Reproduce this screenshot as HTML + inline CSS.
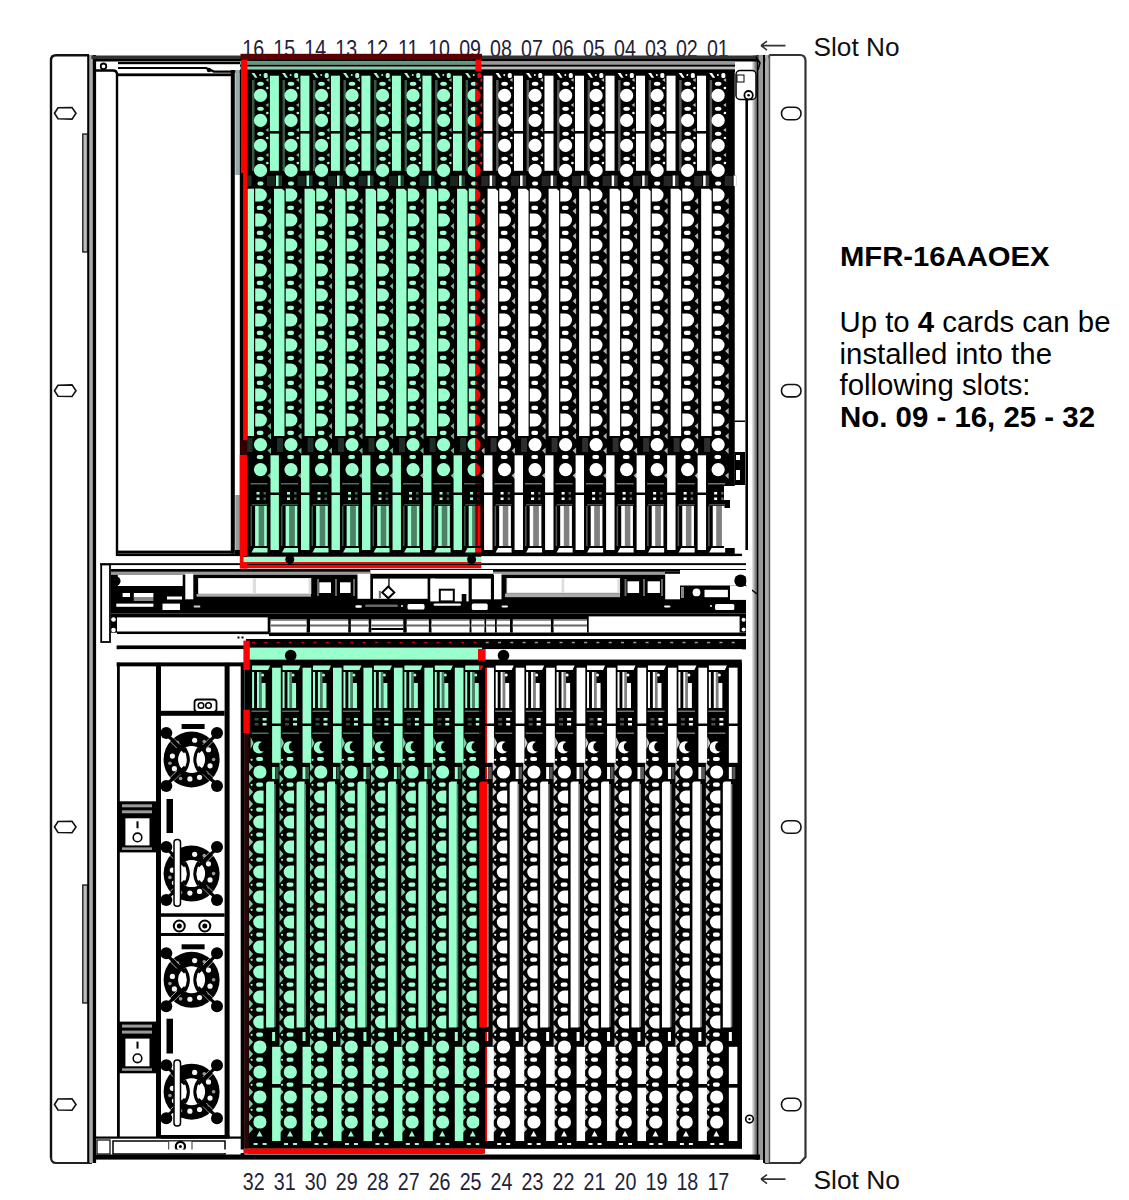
<!DOCTYPE html><html><head><meta charset="utf-8"><style>
html,body{margin:0;padding:0;background:#fff;}
body{width:1129px;height:1200px;overflow:hidden;position:relative;font-family:"Liberation Sans",sans-serif;}
svg{position:absolute;left:0;top:0;}
text{font-family:"Liberation Sans",sans-serif;}
</style></head><body>
<svg width="1129" height="1200" viewBox="0 0 1129 1200">
<defs><linearGradient id="gh" x1="0" y1="0" x2="1" y2="0"><stop offset="0" stop-color="#eee"/><stop offset="1" stop-color="#555"/></linearGradient><linearGradient id="gg" x1="0" y1="0" x2="0" y2="1"><stop offset="0" stop-color="#fff"/><stop offset="0.5" stop-color="#666"/><stop offset="1" stop-color="#fff"/></linearGradient><clipPath id="clipU"><rect x="240" y="50" width="235.5" height="520"/></clipPath><clipPath id="clipUr"><rect x="475.5" y="50" width="6" height="520"/></clipPath><clipPath id="clipUo"><rect x="0" y="0" width="240" height="1200"/><rect x="481.5" y="0" width="648" height="1200"/></clipPath><clipPath id="clipL"><rect x="240" y="640" width="239" height="520"/></clipPath><clipPath id="clipLr"><rect x="479" y="640" width="8" height="520"/></clipPath><clipPath id="clipLo"><rect x="0" y="0" width="240" height="1200"/><rect x="487" y="0" width="642" height="1200"/></clipPath></defs>
<text x="253.30" y="56.6" font-size="23.7" text-anchor="middle" fill="#22223a" transform="translate(253.30,0) scale(0.83,1) translate(-253.30,0)">16</text>
<text x="284.27" y="56.6" font-size="23.7" text-anchor="middle" fill="#22223a" transform="translate(284.27,0) scale(0.83,1) translate(-284.27,0)">15</text>
<text x="315.24" y="56.6" font-size="23.7" text-anchor="middle" fill="#22223a" transform="translate(315.24,0) scale(0.83,1) translate(-315.24,0)">14</text>
<text x="346.21" y="56.6" font-size="23.7" text-anchor="middle" fill="#22223a" transform="translate(346.21,0) scale(0.83,1) translate(-346.21,0)">13</text>
<text x="377.18" y="56.6" font-size="23.7" text-anchor="middle" fill="#22223a" transform="translate(377.18,0) scale(0.83,1) translate(-377.18,0)">12</text>
<text x="408.15" y="56.6" font-size="23.7" text-anchor="middle" fill="#22223a" transform="translate(408.15,0) scale(0.83,1) translate(-408.15,0)">11</text>
<text x="439.12" y="56.6" font-size="23.7" text-anchor="middle" fill="#22223a" transform="translate(439.12,0) scale(0.83,1) translate(-439.12,0)">10</text>
<text x="470.09" y="56.6" font-size="23.7" text-anchor="middle" fill="#22223a" transform="translate(470.09,0) scale(0.83,1) translate(-470.09,0)">09</text>
<text x="501.06" y="56.6" font-size="23.7" text-anchor="middle" fill="#22223a" transform="translate(501.06,0) scale(0.83,1) translate(-501.06,0)">08</text>
<text x="532.03" y="56.6" font-size="23.7" text-anchor="middle" fill="#22223a" transform="translate(532.03,0) scale(0.83,1) translate(-532.03,0)">07</text>
<text x="563.00" y="56.6" font-size="23.7" text-anchor="middle" fill="#22223a" transform="translate(563.00,0) scale(0.83,1) translate(-563.00,0)">06</text>
<text x="593.97" y="56.6" font-size="23.7" text-anchor="middle" fill="#22223a" transform="translate(593.97,0) scale(0.83,1) translate(-593.97,0)">05</text>
<text x="624.94" y="56.6" font-size="23.7" text-anchor="middle" fill="#22223a" transform="translate(624.94,0) scale(0.83,1) translate(-624.94,0)">04</text>
<text x="655.91" y="56.6" font-size="23.7" text-anchor="middle" fill="#22223a" transform="translate(655.91,0) scale(0.83,1) translate(-655.91,0)">03</text>
<text x="686.88" y="56.6" font-size="23.7" text-anchor="middle" fill="#22223a" transform="translate(686.88,0) scale(0.83,1) translate(-686.88,0)">02</text>
<text x="717.85" y="56.6" font-size="23.7" text-anchor="middle" fill="#22223a" transform="translate(717.85,0) scale(0.83,1) translate(-717.85,0)">01</text>
<text x="253.80" y="1190.2" font-size="23.7" text-anchor="middle" fill="#22223a" transform="translate(253.80,0) scale(0.83,1) translate(-253.80,0)">32</text>
<text x="284.77" y="1190.2" font-size="23.7" text-anchor="middle" fill="#22223a" transform="translate(284.77,0) scale(0.83,1) translate(-284.77,0)">31</text>
<text x="315.74" y="1190.2" font-size="23.7" text-anchor="middle" fill="#22223a" transform="translate(315.74,0) scale(0.83,1) translate(-315.74,0)">30</text>
<text x="346.71" y="1190.2" font-size="23.7" text-anchor="middle" fill="#22223a" transform="translate(346.71,0) scale(0.83,1) translate(-346.71,0)">29</text>
<text x="377.68" y="1190.2" font-size="23.7" text-anchor="middle" fill="#22223a" transform="translate(377.68,0) scale(0.83,1) translate(-377.68,0)">28</text>
<text x="408.65" y="1190.2" font-size="23.7" text-anchor="middle" fill="#22223a" transform="translate(408.65,0) scale(0.83,1) translate(-408.65,0)">27</text>
<text x="439.62" y="1190.2" font-size="23.7" text-anchor="middle" fill="#22223a" transform="translate(439.62,0) scale(0.83,1) translate(-439.62,0)">26</text>
<text x="470.59" y="1190.2" font-size="23.7" text-anchor="middle" fill="#22223a" transform="translate(470.59,0) scale(0.83,1) translate(-470.59,0)">25</text>
<text x="501.56" y="1190.2" font-size="23.7" text-anchor="middle" fill="#22223a" transform="translate(501.56,0) scale(0.83,1) translate(-501.56,0)">24</text>
<text x="532.53" y="1190.2" font-size="23.7" text-anchor="middle" fill="#22223a" transform="translate(532.53,0) scale(0.83,1) translate(-532.53,0)">23</text>
<text x="563.50" y="1190.2" font-size="23.7" text-anchor="middle" fill="#22223a" transform="translate(563.50,0) scale(0.83,1) translate(-563.50,0)">22</text>
<text x="594.47" y="1190.2" font-size="23.7" text-anchor="middle" fill="#22223a" transform="translate(594.47,0) scale(0.83,1) translate(-594.47,0)">21</text>
<text x="625.44" y="1190.2" font-size="23.7" text-anchor="middle" fill="#22223a" transform="translate(625.44,0) scale(0.83,1) translate(-625.44,0)">20</text>
<text x="656.41" y="1190.2" font-size="23.7" text-anchor="middle" fill="#22223a" transform="translate(656.41,0) scale(0.83,1) translate(-656.41,0)">19</text>
<text x="687.38" y="1190.2" font-size="23.7" text-anchor="middle" fill="#22223a" transform="translate(687.38,0) scale(0.83,1) translate(-687.38,0)">18</text>
<text x="718.35" y="1190.2" font-size="23.7" text-anchor="middle" fill="#22223a" transform="translate(718.35,0) scale(0.83,1) translate(-718.35,0)">17</text>
<path d="M761,45.6 L785.5,45.6 M761,45.6 L767,41.1 M761,45.6 L767,50.1" fill="none" stroke="#333" stroke-width="1.6" />
<path d="M761,1179.1 L785.5,1179.1 M761,1179.1 L767,1174.6 M761,1179.1 L767,1183.6" fill="none" stroke="#333" stroke-width="1.6" />
<text x="813.5" y="56" font-size="26.5" fill="#111" textLength="86" lengthAdjust="spacingAndGlyphs">Slot No</text>
<text x="813.5" y="1189" font-size="26.5" fill="#111" textLength="86.5" lengthAdjust="spacingAndGlyphs">Slot No</text>
<text x="840" y="265.8" font-size="28" font-weight="bold" fill="#000" textLength="209.5" lengthAdjust="spacingAndGlyphs">MFR-16AAOEX</text>
<text x="839.5" y="332.3" font-size="29.4" fill="#000" textLength="271" lengthAdjust="spacingAndGlyphs">Up to <tspan font-weight="bold">4</tspan> cards can be</text>
<text x="839.5" y="363.6" font-size="29.4" fill="#000" textLength="212.5" lengthAdjust="spacingAndGlyphs">installed into the</text>
<text x="839.5" y="395.3" font-size="29.4" fill="#000" textLength="191" lengthAdjust="spacingAndGlyphs">following slots:</text>
<text x="840" y="427.1" font-size="29.4" font-weight="bold" fill="#000" textLength="255" lengthAdjust="spacingAndGlyphs">No. 09 - 16, 25 - 32</text>
<path d="M51,1158 L51,60.5 Q51,55.3 56,55.3 L89,55.3" fill="none" stroke="#111" stroke-width="2.4" />
<path d="M51,1157 Q51,1163 56,1163 L92,1163" fill="none" stroke="#222" stroke-width="2.2" />
<rect x="87.20" y="55.00" width="2.40" height="1108.00" fill="#000000" />
<rect x="89.60" y="55.00" width="3.10" height="1108.00" fill="#aaa" />
<rect x="92.70" y="55.00" width="3.40" height="1108.00" fill="#000000" />
<path d="M54.5,113.3 L58,107.8 L72,107.5 L76,113.3 L72,119.1 L58,118.8 Z" fill="none" stroke="#111" stroke-width="1.6" />
<path d="M54.5,390.7 L58,385.2 L72,384.9 L76,390.7 L72,396.5 L58,396.2 Z" fill="none" stroke="#111" stroke-width="1.6" />
<path d="M54.5,827 L58,821.5 L72,821.2 L76,827 L72,832.8 L58,832.5 Z" fill="none" stroke="#111" stroke-width="1.6" />
<path d="M54.5,1104.5 L58,1099.0 L72,1098.7 L76,1104.5 L72,1110.3 L58,1110.0 Z" fill="none" stroke="#111" stroke-width="1.6" />
<rect x="82.80" y="134.00" width="4.70" height="118.00" fill="#bbb" stroke="#111" stroke-width="1.3"/>
<rect x="82.80" y="885.00" width="4.70" height="118.00" fill="#bbb" stroke="#111" stroke-width="1.3"/>
<path d="M764.5,61 L770,55 L800,55 Q805.5,55 805.5,61 L805.5,1157 L800,1163 L764.5,1163" fill="none" stroke="#333" stroke-width="2.2" />
<rect x="763.00" y="55.00" width="2.30" height="1108.00" fill="#000000" />
<rect x="765.30" y="55.00" width="3.20" height="1108.00" fill="#aaa" />
<rect x="768.50" y="55.00" width="1.70" height="1108.00" fill="#555" />
<rect x="781.5" y="107.30" width="19.5" height="12.4" rx="6" ry="6" fill="none" stroke="#111" stroke-width="1.6"/>
<rect x="781.5" y="384.50" width="19.5" height="12.4" rx="6" ry="6" fill="none" stroke="#111" stroke-width="1.6"/>
<rect x="781.5" y="820.80" width="19.5" height="12.4" rx="6" ry="6" fill="none" stroke="#111" stroke-width="1.6"/>
<rect x="781.5" y="1098.30" width="19.5" height="12.4" rx="6" ry="6" fill="none" stroke="#111" stroke-width="1.6"/>
<rect x="752" y="55" width="4.9" height="1105" fill="url(#gh)"/>
<rect x="756.90" y="55.00" width="1.80" height="1105.00" fill="#000000" />
<rect x="758.70" y="55.00" width="4.30" height="1105.00" fill="#999" />
<rect x="91.40" y="55.50" width="666.60" height="3.50" fill="#333" />
<rect x="95.00" y="59.00" width="663.00" height="2.50" fill="#000000" />
<rect x="118.00" y="62.00" width="122.00" height="2.20" fill="#000000" />
<path d="M118,68 L206,68 L214,71.6 L240,71.6" fill="none" stroke="#000000" stroke-width="2.2" />
<circle cx="209.00" cy="70.00" r="2.20" fill="#000000" />
<rect x="117.00" y="73.40" width="115.00" height="2.80" fill="#000000" />
<rect x="240.00" y="61.50" width="495.00" height="2.80" fill="#999" />
<rect x="240.00" y="64.50" width="495.00" height="2.30" fill="#000000" />
<rect x="240.00" y="66.80" width="495.00" height="2.50" fill="#bbb" />
<rect x="240.00" y="69.30" width="495.00" height="2.70" fill="#000000" />
<rect x="736" y="70.5" width="20" height="29" rx="4" fill="#fff" stroke="#000" stroke-width="1.5"/>
<rect x="737.00" y="75.00" width="7.00" height="7.00" fill="#ffffff" stroke="#000" stroke-width="1"/>
<circle cx="748.60" cy="95.20" r="4.20" fill="#ffffff" stroke="#000" stroke-width="1.8"/>
<circle cx="748.60" cy="95.20" r="1.30" fill="#000000" />
<path d="M756,57 L760,63 L758,70" fill="none" stroke="#000000" stroke-width="1.5" />
<circle cx="749.50" cy="1119.10" r="3.80" fill="#ffffff" stroke="#000" stroke-width="1.6"/>
<circle cx="749.50" cy="1119.10" r="1.20" fill="#000000" />
<rect x="247.00" y="61.50" width="228.50" height="2.80" fill="#5a9a7a" />
<rect x="247.00" y="66.80" width="228.50" height="2.50" fill="#80d0a8" />
<path d="M95,70.5 L113,70.5 Q117,70.5 117,74.5 L117,556" fill="none" stroke="#000000" stroke-width="2.4" />
<circle cx="103.50" cy="66.30" r="2.80" fill="none" stroke="#000" stroke-width="1.8"/>
<rect x="230.80" y="70.00" width="4.00" height="483.60" fill="#000000" />
<rect x="235.30" y="70.00" width="4.50" height="105.00" fill="#9aa" />
<rect x="235.30" y="495.00" width="4.50" height="55.60" fill="#999" />
<rect x="234.80" y="550.00" width="5.20" height="6.00" fill="#000000" />
<rect x="239.80" y="70.00" width="3.70" height="486.00" fill="#000000" />
<rect x="729.70" y="71.00" width="4.80" height="485.00" fill="#000000" />
<rect x="745.40" y="100.00" width="2.60" height="450.00" fill="#000000" />
<rect x="95.00" y="1154.50" width="665.00" height="5.10" fill="#000000" />
<rect x="243.50" y="71.30" width="491.00" height="485.00" fill="#000000" />
<g id="upc">
<path d="M251.5,73 L254.5,73 L257.5,77.8 L255.0,77.8 Z" fill="inherit" stroke="none" stroke-width="1" />
<rect x="263.70" y="73" width="4" height="5" rx="1.6" fill="inherit"/>
<circle cx="260.20" cy="75.00" r="1.00" fill="inherit" />
<rect x="269.90" y="75.70" width="9.00" height="55.30" fill="inherit" />
<rect x="269.90" y="133.60" width="9.00" height="37.20" fill="inherit" />
<rect x="252.00" y="80.00" width="2.50" height="91.00" fill="inherit" fill-opacity="0.35"/>
<circle cx="260.50" cy="95.40" r="6.60" fill="inherit" />
<ellipse cx="260.50" cy="83.70" rx="3.30" ry="2.00" fill="inherit" />
<circle cx="267.30" cy="88.00" r="1.30" fill="inherit" />
<path d="M265.50,80 l3,-2 l0,4 Z" fill="inherit" fill-opacity="0.7"/>
<circle cx="260.50" cy="120.40" r="6.60" fill="inherit" />
<ellipse cx="260.50" cy="108.70" rx="3.30" ry="2.00" fill="inherit" />
<circle cx="267.30" cy="113.00" r="1.30" fill="inherit" />
<path d="M265.50,105 l3,-2 l0,4 Z" fill="inherit" fill-opacity="0.7"/>
<circle cx="260.50" cy="145.40" r="6.60" fill="inherit" />
<ellipse cx="260.50" cy="133.70" rx="3.30" ry="2.00" fill="inherit" />
<circle cx="267.30" cy="138.00" r="1.30" fill="inherit" />
<path d="M265.50,130 l3,-2 l0,4 Z" fill="inherit" fill-opacity="0.7"/>
<circle cx="260.50" cy="170.40" r="6.60" fill="inherit" />
<ellipse cx="260.50" cy="158.70" rx="3.30" ry="2.00" fill="inherit" />
<circle cx="267.30" cy="163.00" r="1.30" fill="inherit" />
<path d="M265.50,155 l3,-2 l0,4 Z" fill="inherit" fill-opacity="0.7"/>
<rect x="276.00" y="175.50" width="2.50" height="10.50" fill="inherit" />
<rect x="246.50" y="175.50" width="5.00" height="10.50" fill="inherit" fill-opacity="0.22"/>
<rect x="257.50" y="181.5" width="6" height="4" rx="2" fill="inherit"/>
<rect x="267.00" y="176.00" width="8.00" height="10.00" fill="inherit" fill-opacity="0.15"/>
<path d="M255.2,188.6 L260.5,188.6 A6.4,6.4 0 0 1 260.5,201.4 L255.2,201.4 Z" fill="inherit" stroke="none" stroke-width="1" />
<rect x="256.70" y="205.80" width="6.8" height="4.2" rx="2" fill="inherit"/>
<path d="M267.50,201 l3.5,-3 l0,6.5 Z M267.50,211 l3.5,-3 l0,6.5 Z" fill="inherit" fill-opacity="0.7"/>
<path d="M255.2,213.6 L260.5,213.6 A6.4,6.4 0 0 1 260.5,226.4 L255.2,226.4 Z" fill="inherit" stroke="none" stroke-width="1" />
<rect x="256.70" y="230.80" width="6.8" height="4.2" rx="2" fill="inherit"/>
<path d="M267.50,226 l3.5,-3 l0,6.5 Z M267.50,236 l3.5,-3 l0,6.5 Z" fill="inherit" fill-opacity="0.7"/>
<path d="M255.2,238.6 L260.5,238.6 A6.4,6.4 0 0 1 260.5,251.4 L255.2,251.4 Z" fill="inherit" stroke="none" stroke-width="1" />
<rect x="256.70" y="255.80" width="6.8" height="4.2" rx="2" fill="inherit"/>
<path d="M267.50,251 l3.5,-3 l0,6.5 Z M267.50,261 l3.5,-3 l0,6.5 Z" fill="inherit" fill-opacity="0.7"/>
<path d="M255.2,263.6 L260.5,263.6 A6.4,6.4 0 0 1 260.5,276.4 L255.2,276.4 Z" fill="inherit" stroke="none" stroke-width="1" />
<rect x="256.70" y="280.80" width="6.8" height="4.2" rx="2" fill="inherit"/>
<path d="M267.50,276 l3.5,-3 l0,6.5 Z M267.50,286 l3.5,-3 l0,6.5 Z" fill="inherit" fill-opacity="0.7"/>
<path d="M255.2,288.6 L260.5,288.6 A6.4,6.4 0 0 1 260.5,301.4 L255.2,301.4 Z" fill="inherit" stroke="none" stroke-width="1" />
<rect x="256.70" y="305.80" width="6.8" height="4.2" rx="2" fill="inherit"/>
<path d="M267.50,301 l3.5,-3 l0,6.5 Z M267.50,311 l3.5,-3 l0,6.5 Z" fill="inherit" fill-opacity="0.7"/>
<path d="M255.2,313.6 L260.5,313.6 A6.4,6.4 0 0 1 260.5,326.4 L255.2,326.4 Z" fill="inherit" stroke="none" stroke-width="1" />
<rect x="256.70" y="330.80" width="6.8" height="4.2" rx="2" fill="inherit"/>
<path d="M267.50,326 l3.5,-3 l0,6.5 Z M267.50,336 l3.5,-3 l0,6.5 Z" fill="inherit" fill-opacity="0.7"/>
<path d="M255.2,338.6 L260.5,338.6 A6.4,6.4 0 0 1 260.5,351.4 L255.2,351.4 Z" fill="inherit" stroke="none" stroke-width="1" />
<rect x="256.70" y="355.80" width="6.8" height="4.2" rx="2" fill="inherit"/>
<path d="M267.50,351 l3.5,-3 l0,6.5 Z M267.50,361 l3.5,-3 l0,6.5 Z" fill="inherit" fill-opacity="0.7"/>
<path d="M255.2,363.6 L260.5,363.6 A6.4,6.4 0 0 1 260.5,376.4 L255.2,376.4 Z" fill="inherit" stroke="none" stroke-width="1" />
<rect x="256.70" y="380.80" width="6.8" height="4.2" rx="2" fill="inherit"/>
<path d="M267.50,376 l3.5,-3 l0,6.5 Z M267.50,386 l3.5,-3 l0,6.5 Z" fill="inherit" fill-opacity="0.7"/>
<path d="M255.2,388.6 L260.5,388.6 A6.4,6.4 0 0 1 260.5,401.4 L255.2,401.4 Z" fill="inherit" stroke="none" stroke-width="1" />
<rect x="256.70" y="405.80" width="6.8" height="4.2" rx="2" fill="inherit"/>
<path d="M267.50,401 l3.5,-3 l0,6.5 Z M267.50,411 l3.5,-3 l0,6.5 Z" fill="inherit" fill-opacity="0.7"/>
<path d="M255.2,413.6 L260.5,413.6 A6.4,6.4 0 0 1 260.5,426.4 L255.2,426.4 Z" fill="inherit" stroke="none" stroke-width="1" />
<rect x="256.70" y="430.80" width="6.8" height="4.2" rx="2" fill="inherit"/>
<path d="M267.50,426 l3.5,-3 l0,6.5 Z M267.50,436 l3.5,-3 l0,6.5 Z" fill="inherit" fill-opacity="0.7"/>
<rect x="247.50" y="188.70" width="6.50" height="247.30" fill="inherit" />
<circle cx="260.50" cy="444.60" r="6.60" fill="inherit" />
<path d="M267.50,450.6 l3.5,-3 l0,6.5 Z" fill="inherit" fill-opacity="0.7"/>
<circle cx="260.50" cy="469.60" r="6.60" fill="inherit" />
<path d="M267.50,475.6 l3.5,-3 l0,6.5 Z" fill="inherit" fill-opacity="0.7"/>
<rect x="256.70" y="455" width="6.8" height="4" rx="2" fill="inherit"/>
<rect x="246.50" y="438.00" width="6.00" height="14.00" fill="inherit" fill-opacity="0.18"/>
<rect x="270.50" y="455.30" width="8.40" height="37.20" fill="inherit" />
<rect x="270.50" y="495.00" width="8.40" height="55.00" fill="inherit" />
<rect x="256.50" y="492.00" width="3.00" height="2.50" fill="inherit" />
<rect x="256.50" y="497.50" width="3.00" height="2.50" fill="inherit" />
<rect x="263.50" y="492.00" width="2.50" height="2.50" fill="inherit" fill-opacity="0.4"/>
<rect x="263.50" y="497.50" width="2.50" height="2.50" fill="inherit" fill-opacity="0.4"/>
<rect x="250.50" y="483.00" width="17.00" height="1.50" fill="inherit" fill-opacity="0.45"/>
<rect x="251.50" y="504.00" width="16.00" height="1.50" fill="inherit" fill-opacity="0.3"/>
<rect x="255.10" y="506.00" width="3.70" height="40.00" fill="inherit" />
<rect x="258.80" y="506.00" width="5.30" height="40.00" fill="inherit" fill-opacity="0.5"/>
<rect x="264.10" y="506.00" width="2.70" height="40.00" fill="inherit" />
<rect x="250.50" y="506.00" width="1.50" height="40.00" fill="inherit" fill-opacity="0.35"/>
<path d="M251.5,552.6 L254.0,548 L267.5,548 L267.5,552.6 Z" fill="inherit" stroke="none" stroke-width="1" />
<circle cx="272.50" cy="555.00" r="1.20" fill="inherit" />
<path d="M282.01,73 L285.01,73 L288.01,77.8 L285.51,77.8 Z" fill="inherit" stroke="none" stroke-width="1" />
<rect x="294.21" y="73" width="4" height="5" rx="1.6" fill="inherit"/>
<circle cx="290.71" cy="75.00" r="1.00" fill="inherit" />
<rect x="300.41" y="75.70" width="9.00" height="55.30" fill="inherit" />
<rect x="300.41" y="133.60" width="9.00" height="37.20" fill="inherit" />
<rect x="282.51" y="80.00" width="2.50" height="91.00" fill="inherit" fill-opacity="0.35"/>
<circle cx="291.01" cy="95.40" r="6.60" fill="inherit" />
<ellipse cx="291.01" cy="83.70" rx="3.30" ry="2.00" fill="inherit" />
<circle cx="297.81" cy="88.00" r="1.30" fill="inherit" />
<path d="M296.01,80 l3,-2 l0,4 Z" fill="inherit" fill-opacity="0.7"/>
<circle cx="291.01" cy="120.40" r="6.60" fill="inherit" />
<ellipse cx="291.01" cy="108.70" rx="3.30" ry="2.00" fill="inherit" />
<circle cx="297.81" cy="113.00" r="1.30" fill="inherit" />
<path d="M296.01,105 l3,-2 l0,4 Z" fill="inherit" fill-opacity="0.7"/>
<circle cx="291.01" cy="145.40" r="6.60" fill="inherit" />
<ellipse cx="291.01" cy="133.70" rx="3.30" ry="2.00" fill="inherit" />
<circle cx="297.81" cy="138.00" r="1.30" fill="inherit" />
<path d="M296.01,130 l3,-2 l0,4 Z" fill="inherit" fill-opacity="0.7"/>
<circle cx="291.01" cy="170.40" r="6.60" fill="inherit" />
<ellipse cx="291.01" cy="158.70" rx="3.30" ry="2.00" fill="inherit" />
<circle cx="297.81" cy="163.00" r="1.30" fill="inherit" />
<path d="M296.01,155 l3,-2 l0,4 Z" fill="inherit" fill-opacity="0.7"/>
<rect x="306.51" y="175.50" width="2.50" height="10.50" fill="inherit" />
<rect x="277.01" y="175.50" width="5.00" height="10.50" fill="inherit" fill-opacity="0.22"/>
<rect x="288.01" y="181.5" width="6" height="4" rx="2" fill="inherit"/>
<rect x="297.51" y="176.00" width="8.00" height="10.00" fill="inherit" fill-opacity="0.15"/>
<path d="M285.71,188.6 L291.01,188.6 A6.4,6.4 0 0 1 291.01,201.4 L285.71,201.4 Z" fill="inherit" stroke="none" stroke-width="1" />
<rect x="287.21" y="205.80" width="6.8" height="4.2" rx="2" fill="inherit"/>
<path d="M298.01,201 l3.5,-3 l0,6.5 Z M298.01,211 l3.5,-3 l0,6.5 Z" fill="inherit" fill-opacity="0.7"/>
<path d="M285.71,213.6 L291.01,213.6 A6.4,6.4 0 0 1 291.01,226.4 L285.71,226.4 Z" fill="inherit" stroke="none" stroke-width="1" />
<rect x="287.21" y="230.80" width="6.8" height="4.2" rx="2" fill="inherit"/>
<path d="M298.01,226 l3.5,-3 l0,6.5 Z M298.01,236 l3.5,-3 l0,6.5 Z" fill="inherit" fill-opacity="0.7"/>
<path d="M285.71,238.6 L291.01,238.6 A6.4,6.4 0 0 1 291.01,251.4 L285.71,251.4 Z" fill="inherit" stroke="none" stroke-width="1" />
<rect x="287.21" y="255.80" width="6.8" height="4.2" rx="2" fill="inherit"/>
<path d="M298.01,251 l3.5,-3 l0,6.5 Z M298.01,261 l3.5,-3 l0,6.5 Z" fill="inherit" fill-opacity="0.7"/>
<path d="M285.71,263.6 L291.01,263.6 A6.4,6.4 0 0 1 291.01,276.4 L285.71,276.4 Z" fill="inherit" stroke="none" stroke-width="1" />
<rect x="287.21" y="280.80" width="6.8" height="4.2" rx="2" fill="inherit"/>
<path d="M298.01,276 l3.5,-3 l0,6.5 Z M298.01,286 l3.5,-3 l0,6.5 Z" fill="inherit" fill-opacity="0.7"/>
<path d="M285.71,288.6 L291.01,288.6 A6.4,6.4 0 0 1 291.01,301.4 L285.71,301.4 Z" fill="inherit" stroke="none" stroke-width="1" />
<rect x="287.21" y="305.80" width="6.8" height="4.2" rx="2" fill="inherit"/>
<path d="M298.01,301 l3.5,-3 l0,6.5 Z M298.01,311 l3.5,-3 l0,6.5 Z" fill="inherit" fill-opacity="0.7"/>
<path d="M285.71,313.6 L291.01,313.6 A6.4,6.4 0 0 1 291.01,326.4 L285.71,326.4 Z" fill="inherit" stroke="none" stroke-width="1" />
<rect x="287.21" y="330.80" width="6.8" height="4.2" rx="2" fill="inherit"/>
<path d="M298.01,326 l3.5,-3 l0,6.5 Z M298.01,336 l3.5,-3 l0,6.5 Z" fill="inherit" fill-opacity="0.7"/>
<path d="M285.71,338.6 L291.01,338.6 A6.4,6.4 0 0 1 291.01,351.4 L285.71,351.4 Z" fill="inherit" stroke="none" stroke-width="1" />
<rect x="287.21" y="355.80" width="6.8" height="4.2" rx="2" fill="inherit"/>
<path d="M298.01,351 l3.5,-3 l0,6.5 Z M298.01,361 l3.5,-3 l0,6.5 Z" fill="inherit" fill-opacity="0.7"/>
<path d="M285.71,363.6 L291.01,363.6 A6.4,6.4 0 0 1 291.01,376.4 L285.71,376.4 Z" fill="inherit" stroke="none" stroke-width="1" />
<rect x="287.21" y="380.80" width="6.8" height="4.2" rx="2" fill="inherit"/>
<path d="M298.01,376 l3.5,-3 l0,6.5 Z M298.01,386 l3.5,-3 l0,6.5 Z" fill="inherit" fill-opacity="0.7"/>
<path d="M285.71,388.6 L291.01,388.6 A6.4,6.4 0 0 1 291.01,401.4 L285.71,401.4 Z" fill="inherit" stroke="none" stroke-width="1" />
<rect x="287.21" y="405.80" width="6.8" height="4.2" rx="2" fill="inherit"/>
<path d="M298.01,401 l3.5,-3 l0,6.5 Z M298.01,411 l3.5,-3 l0,6.5 Z" fill="inherit" fill-opacity="0.7"/>
<path d="M285.71,413.6 L291.01,413.6 A6.4,6.4 0 0 1 291.01,426.4 L285.71,426.4 Z" fill="inherit" stroke="none" stroke-width="1" />
<rect x="287.21" y="430.80" width="6.8" height="4.2" rx="2" fill="inherit"/>
<path d="M298.01,426 l3.5,-3 l0,6.5 Z M298.01,436 l3.5,-3 l0,6.5 Z" fill="inherit" fill-opacity="0.7"/>
<path d="M274.01,188.7 L282.01,188.7 L284.51,191 L284.51,436 L274.01,436 Z" fill="inherit" stroke="none" stroke-width="1" />
<circle cx="291.01" cy="444.60" r="6.60" fill="inherit" />
<path d="M298.01,450.6 l3.5,-3 l0,6.5 Z" fill="inherit" fill-opacity="0.7"/>
<circle cx="291.01" cy="469.60" r="6.60" fill="inherit" />
<path d="M298.01,475.6 l3.5,-3 l0,6.5 Z" fill="inherit" fill-opacity="0.7"/>
<rect x="287.21" y="455" width="6.8" height="4" rx="2" fill="inherit"/>
<rect x="277.01" y="438.00" width="6.00" height="14.00" fill="inherit" fill-opacity="0.18"/>
<rect x="301.01" y="455.30" width="8.40" height="37.20" fill="inherit" />
<rect x="301.01" y="495.00" width="8.40" height="55.00" fill="inherit" />
<rect x="287.01" y="492.00" width="3.00" height="2.50" fill="inherit" />
<rect x="287.01" y="497.50" width="3.00" height="2.50" fill="inherit" />
<rect x="294.01" y="492.00" width="2.50" height="2.50" fill="inherit" fill-opacity="0.4"/>
<rect x="294.01" y="497.50" width="2.50" height="2.50" fill="inherit" fill-opacity="0.4"/>
<rect x="281.01" y="483.00" width="17.00" height="1.50" fill="inherit" fill-opacity="0.45"/>
<rect x="282.01" y="504.00" width="16.00" height="1.50" fill="inherit" fill-opacity="0.3"/>
<rect x="285.61" y="506.00" width="3.70" height="40.00" fill="inherit" />
<rect x="289.31" y="506.00" width="5.30" height="40.00" fill="inherit" fill-opacity="0.5"/>
<rect x="294.61" y="506.00" width="2.70" height="40.00" fill="inherit" />
<rect x="281.01" y="506.00" width="1.50" height="40.00" fill="inherit" fill-opacity="0.35"/>
<path d="M282.01,552.6 L284.51,548 L298.01,548 L298.01,552.6 Z" fill="inherit" stroke="none" stroke-width="1" />
<circle cx="303.01" cy="555.00" r="1.20" fill="inherit" />
<path d="M312.52,73 L315.52,73 L318.52,77.8 L316.02,77.8 Z" fill="inherit" stroke="none" stroke-width="1" />
<rect x="324.72" y="73" width="4" height="5" rx="1.6" fill="inherit"/>
<circle cx="321.22" cy="75.00" r="1.00" fill="inherit" />
<rect x="330.92" y="75.70" width="9.00" height="55.30" fill="inherit" />
<rect x="330.92" y="133.60" width="9.00" height="37.20" fill="inherit" />
<rect x="313.02" y="80.00" width="2.50" height="91.00" fill="inherit" fill-opacity="0.35"/>
<circle cx="321.52" cy="95.40" r="6.60" fill="inherit" />
<ellipse cx="321.52" cy="83.70" rx="3.30" ry="2.00" fill="inherit" />
<circle cx="328.32" cy="88.00" r="1.30" fill="inherit" />
<path d="M326.52,80 l3,-2 l0,4 Z" fill="inherit" fill-opacity="0.7"/>
<circle cx="321.52" cy="120.40" r="6.60" fill="inherit" />
<ellipse cx="321.52" cy="108.70" rx="3.30" ry="2.00" fill="inherit" />
<circle cx="328.32" cy="113.00" r="1.30" fill="inherit" />
<path d="M326.52,105 l3,-2 l0,4 Z" fill="inherit" fill-opacity="0.7"/>
<circle cx="321.52" cy="145.40" r="6.60" fill="inherit" />
<ellipse cx="321.52" cy="133.70" rx="3.30" ry="2.00" fill="inherit" />
<circle cx="328.32" cy="138.00" r="1.30" fill="inherit" />
<path d="M326.52,130 l3,-2 l0,4 Z" fill="inherit" fill-opacity="0.7"/>
<circle cx="321.52" cy="170.40" r="6.60" fill="inherit" />
<ellipse cx="321.52" cy="158.70" rx="3.30" ry="2.00" fill="inherit" />
<circle cx="328.32" cy="163.00" r="1.30" fill="inherit" />
<path d="M326.52,155 l3,-2 l0,4 Z" fill="inherit" fill-opacity="0.7"/>
<rect x="337.02" y="175.50" width="2.50" height="10.50" fill="inherit" />
<rect x="307.52" y="175.50" width="5.00" height="10.50" fill="inherit" fill-opacity="0.22"/>
<rect x="318.52" y="181.5" width="6" height="4" rx="2" fill="inherit"/>
<rect x="328.02" y="176.00" width="8.00" height="10.00" fill="inherit" fill-opacity="0.15"/>
<path d="M316.21999999999997,188.6 L321.52,188.6 A6.4,6.4 0 0 1 321.52,201.4 L316.21999999999997,201.4 Z" fill="inherit" stroke="none" stroke-width="1" />
<rect x="317.72" y="205.80" width="6.8" height="4.2" rx="2" fill="inherit"/>
<path d="M328.52,201 l3.5,-3 l0,6.5 Z M328.52,211 l3.5,-3 l0,6.5 Z" fill="inherit" fill-opacity="0.7"/>
<path d="M316.21999999999997,213.6 L321.52,213.6 A6.4,6.4 0 0 1 321.52,226.4 L316.21999999999997,226.4 Z" fill="inherit" stroke="none" stroke-width="1" />
<rect x="317.72" y="230.80" width="6.8" height="4.2" rx="2" fill="inherit"/>
<path d="M328.52,226 l3.5,-3 l0,6.5 Z M328.52,236 l3.5,-3 l0,6.5 Z" fill="inherit" fill-opacity="0.7"/>
<path d="M316.21999999999997,238.6 L321.52,238.6 A6.4,6.4 0 0 1 321.52,251.4 L316.21999999999997,251.4 Z" fill="inherit" stroke="none" stroke-width="1" />
<rect x="317.72" y="255.80" width="6.8" height="4.2" rx="2" fill="inherit"/>
<path d="M328.52,251 l3.5,-3 l0,6.5 Z M328.52,261 l3.5,-3 l0,6.5 Z" fill="inherit" fill-opacity="0.7"/>
<path d="M316.21999999999997,263.6 L321.52,263.6 A6.4,6.4 0 0 1 321.52,276.4 L316.21999999999997,276.4 Z" fill="inherit" stroke="none" stroke-width="1" />
<rect x="317.72" y="280.80" width="6.8" height="4.2" rx="2" fill="inherit"/>
<path d="M328.52,276 l3.5,-3 l0,6.5 Z M328.52,286 l3.5,-3 l0,6.5 Z" fill="inherit" fill-opacity="0.7"/>
<path d="M316.21999999999997,288.6 L321.52,288.6 A6.4,6.4 0 0 1 321.52,301.4 L316.21999999999997,301.4 Z" fill="inherit" stroke="none" stroke-width="1" />
<rect x="317.72" y="305.80" width="6.8" height="4.2" rx="2" fill="inherit"/>
<path d="M328.52,301 l3.5,-3 l0,6.5 Z M328.52,311 l3.5,-3 l0,6.5 Z" fill="inherit" fill-opacity="0.7"/>
<path d="M316.21999999999997,313.6 L321.52,313.6 A6.4,6.4 0 0 1 321.52,326.4 L316.21999999999997,326.4 Z" fill="inherit" stroke="none" stroke-width="1" />
<rect x="317.72" y="330.80" width="6.8" height="4.2" rx="2" fill="inherit"/>
<path d="M328.52,326 l3.5,-3 l0,6.5 Z M328.52,336 l3.5,-3 l0,6.5 Z" fill="inherit" fill-opacity="0.7"/>
<path d="M316.21999999999997,338.6 L321.52,338.6 A6.4,6.4 0 0 1 321.52,351.4 L316.21999999999997,351.4 Z" fill="inherit" stroke="none" stroke-width="1" />
<rect x="317.72" y="355.80" width="6.8" height="4.2" rx="2" fill="inherit"/>
<path d="M328.52,351 l3.5,-3 l0,6.5 Z M328.52,361 l3.5,-3 l0,6.5 Z" fill="inherit" fill-opacity="0.7"/>
<path d="M316.21999999999997,363.6 L321.52,363.6 A6.4,6.4 0 0 1 321.52,376.4 L316.21999999999997,376.4 Z" fill="inherit" stroke="none" stroke-width="1" />
<rect x="317.72" y="380.80" width="6.8" height="4.2" rx="2" fill="inherit"/>
<path d="M328.52,376 l3.5,-3 l0,6.5 Z M328.52,386 l3.5,-3 l0,6.5 Z" fill="inherit" fill-opacity="0.7"/>
<path d="M316.21999999999997,388.6 L321.52,388.6 A6.4,6.4 0 0 1 321.52,401.4 L316.21999999999997,401.4 Z" fill="inherit" stroke="none" stroke-width="1" />
<rect x="317.72" y="405.80" width="6.8" height="4.2" rx="2" fill="inherit"/>
<path d="M328.52,401 l3.5,-3 l0,6.5 Z M328.52,411 l3.5,-3 l0,6.5 Z" fill="inherit" fill-opacity="0.7"/>
<path d="M316.21999999999997,413.6 L321.52,413.6 A6.4,6.4 0 0 1 321.52,426.4 L316.21999999999997,426.4 Z" fill="inherit" stroke="none" stroke-width="1" />
<rect x="317.72" y="430.80" width="6.8" height="4.2" rx="2" fill="inherit"/>
<path d="M328.52,426 l3.5,-3 l0,6.5 Z M328.52,436 l3.5,-3 l0,6.5 Z" fill="inherit" fill-opacity="0.7"/>
<path d="M304.52,188.7 L312.52,188.7 L315.02,191 L315.02,436 L304.52,436 Z" fill="inherit" stroke="none" stroke-width="1" />
<circle cx="321.52" cy="444.60" r="6.60" fill="inherit" />
<path d="M328.52,450.6 l3.5,-3 l0,6.5 Z" fill="inherit" fill-opacity="0.7"/>
<circle cx="321.52" cy="469.60" r="6.60" fill="inherit" />
<path d="M328.52,475.6 l3.5,-3 l0,6.5 Z" fill="inherit" fill-opacity="0.7"/>
<rect x="317.72" y="455" width="6.8" height="4" rx="2" fill="inherit"/>
<rect x="307.52" y="438.00" width="6.00" height="14.00" fill="inherit" fill-opacity="0.18"/>
<rect x="331.52" y="455.30" width="8.40" height="37.20" fill="inherit" />
<rect x="331.52" y="495.00" width="8.40" height="55.00" fill="inherit" />
<rect x="317.52" y="492.00" width="3.00" height="2.50" fill="inherit" />
<rect x="317.52" y="497.50" width="3.00" height="2.50" fill="inherit" />
<rect x="324.52" y="492.00" width="2.50" height="2.50" fill="inherit" fill-opacity="0.4"/>
<rect x="324.52" y="497.50" width="2.50" height="2.50" fill="inherit" fill-opacity="0.4"/>
<rect x="311.52" y="483.00" width="17.00" height="1.50" fill="inherit" fill-opacity="0.45"/>
<rect x="312.52" y="504.00" width="16.00" height="1.50" fill="inherit" fill-opacity="0.3"/>
<rect x="316.12" y="506.00" width="3.70" height="40.00" fill="inherit" />
<rect x="319.82" y="506.00" width="5.30" height="40.00" fill="inherit" fill-opacity="0.5"/>
<rect x="325.12" y="506.00" width="2.70" height="40.00" fill="inherit" />
<rect x="311.52" y="506.00" width="1.50" height="40.00" fill="inherit" fill-opacity="0.35"/>
<path d="M312.52,552.6 L315.02,548 L328.52,548 L328.52,552.6 Z" fill="inherit" stroke="none" stroke-width="1" />
<circle cx="333.52" cy="555.00" r="1.20" fill="inherit" />
<path d="M343.03,73 L346.03,73 L349.03,77.8 L346.53,77.8 Z" fill="inherit" stroke="none" stroke-width="1" />
<rect x="355.23" y="73" width="4" height="5" rx="1.6" fill="inherit"/>
<circle cx="351.73" cy="75.00" r="1.00" fill="inherit" />
<rect x="361.43" y="75.70" width="9.00" height="55.30" fill="inherit" />
<rect x="361.43" y="133.60" width="9.00" height="37.20" fill="inherit" />
<rect x="343.53" y="80.00" width="2.50" height="91.00" fill="inherit" fill-opacity="0.35"/>
<circle cx="352.03" cy="95.40" r="6.60" fill="inherit" />
<ellipse cx="352.03" cy="83.70" rx="3.30" ry="2.00" fill="inherit" />
<circle cx="358.83" cy="88.00" r="1.30" fill="inherit" />
<path d="M357.03,80 l3,-2 l0,4 Z" fill="inherit" fill-opacity="0.7"/>
<circle cx="352.03" cy="120.40" r="6.60" fill="inherit" />
<ellipse cx="352.03" cy="108.70" rx="3.30" ry="2.00" fill="inherit" />
<circle cx="358.83" cy="113.00" r="1.30" fill="inherit" />
<path d="M357.03,105 l3,-2 l0,4 Z" fill="inherit" fill-opacity="0.7"/>
<circle cx="352.03" cy="145.40" r="6.60" fill="inherit" />
<ellipse cx="352.03" cy="133.70" rx="3.30" ry="2.00" fill="inherit" />
<circle cx="358.83" cy="138.00" r="1.30" fill="inherit" />
<path d="M357.03,130 l3,-2 l0,4 Z" fill="inherit" fill-opacity="0.7"/>
<circle cx="352.03" cy="170.40" r="6.60" fill="inherit" />
<ellipse cx="352.03" cy="158.70" rx="3.30" ry="2.00" fill="inherit" />
<circle cx="358.83" cy="163.00" r="1.30" fill="inherit" />
<path d="M357.03,155 l3,-2 l0,4 Z" fill="inherit" fill-opacity="0.7"/>
<rect x="367.53" y="175.50" width="2.50" height="10.50" fill="inherit" />
<rect x="338.03" y="175.50" width="5.00" height="10.50" fill="inherit" fill-opacity="0.22"/>
<rect x="349.03" y="181.5" width="6" height="4" rx="2" fill="inherit"/>
<rect x="358.53" y="176.00" width="8.00" height="10.00" fill="inherit" fill-opacity="0.15"/>
<path d="M346.72999999999996,188.6 L352.03,188.6 A6.4,6.4 0 0 1 352.03,201.4 L346.72999999999996,201.4 Z" fill="inherit" stroke="none" stroke-width="1" />
<rect x="348.23" y="205.80" width="6.8" height="4.2" rx="2" fill="inherit"/>
<path d="M359.03,201 l3.5,-3 l0,6.5 Z M359.03,211 l3.5,-3 l0,6.5 Z" fill="inherit" fill-opacity="0.7"/>
<path d="M346.72999999999996,213.6 L352.03,213.6 A6.4,6.4 0 0 1 352.03,226.4 L346.72999999999996,226.4 Z" fill="inherit" stroke="none" stroke-width="1" />
<rect x="348.23" y="230.80" width="6.8" height="4.2" rx="2" fill="inherit"/>
<path d="M359.03,226 l3.5,-3 l0,6.5 Z M359.03,236 l3.5,-3 l0,6.5 Z" fill="inherit" fill-opacity="0.7"/>
<path d="M346.72999999999996,238.6 L352.03,238.6 A6.4,6.4 0 0 1 352.03,251.4 L346.72999999999996,251.4 Z" fill="inherit" stroke="none" stroke-width="1" />
<rect x="348.23" y="255.80" width="6.8" height="4.2" rx="2" fill="inherit"/>
<path d="M359.03,251 l3.5,-3 l0,6.5 Z M359.03,261 l3.5,-3 l0,6.5 Z" fill="inherit" fill-opacity="0.7"/>
<path d="M346.72999999999996,263.6 L352.03,263.6 A6.4,6.4 0 0 1 352.03,276.4 L346.72999999999996,276.4 Z" fill="inherit" stroke="none" stroke-width="1" />
<rect x="348.23" y="280.80" width="6.8" height="4.2" rx="2" fill="inherit"/>
<path d="M359.03,276 l3.5,-3 l0,6.5 Z M359.03,286 l3.5,-3 l0,6.5 Z" fill="inherit" fill-opacity="0.7"/>
<path d="M346.72999999999996,288.6 L352.03,288.6 A6.4,6.4 0 0 1 352.03,301.4 L346.72999999999996,301.4 Z" fill="inherit" stroke="none" stroke-width="1" />
<rect x="348.23" y="305.80" width="6.8" height="4.2" rx="2" fill="inherit"/>
<path d="M359.03,301 l3.5,-3 l0,6.5 Z M359.03,311 l3.5,-3 l0,6.5 Z" fill="inherit" fill-opacity="0.7"/>
<path d="M346.72999999999996,313.6 L352.03,313.6 A6.4,6.4 0 0 1 352.03,326.4 L346.72999999999996,326.4 Z" fill="inherit" stroke="none" stroke-width="1" />
<rect x="348.23" y="330.80" width="6.8" height="4.2" rx="2" fill="inherit"/>
<path d="M359.03,326 l3.5,-3 l0,6.5 Z M359.03,336 l3.5,-3 l0,6.5 Z" fill="inherit" fill-opacity="0.7"/>
<path d="M346.72999999999996,338.6 L352.03,338.6 A6.4,6.4 0 0 1 352.03,351.4 L346.72999999999996,351.4 Z" fill="inherit" stroke="none" stroke-width="1" />
<rect x="348.23" y="355.80" width="6.8" height="4.2" rx="2" fill="inherit"/>
<path d="M359.03,351 l3.5,-3 l0,6.5 Z M359.03,361 l3.5,-3 l0,6.5 Z" fill="inherit" fill-opacity="0.7"/>
<path d="M346.72999999999996,363.6 L352.03,363.6 A6.4,6.4 0 0 1 352.03,376.4 L346.72999999999996,376.4 Z" fill="inherit" stroke="none" stroke-width="1" />
<rect x="348.23" y="380.80" width="6.8" height="4.2" rx="2" fill="inherit"/>
<path d="M359.03,376 l3.5,-3 l0,6.5 Z M359.03,386 l3.5,-3 l0,6.5 Z" fill="inherit" fill-opacity="0.7"/>
<path d="M346.72999999999996,388.6 L352.03,388.6 A6.4,6.4 0 0 1 352.03,401.4 L346.72999999999996,401.4 Z" fill="inherit" stroke="none" stroke-width="1" />
<rect x="348.23" y="405.80" width="6.8" height="4.2" rx="2" fill="inherit"/>
<path d="M359.03,401 l3.5,-3 l0,6.5 Z M359.03,411 l3.5,-3 l0,6.5 Z" fill="inherit" fill-opacity="0.7"/>
<path d="M346.72999999999996,413.6 L352.03,413.6 A6.4,6.4 0 0 1 352.03,426.4 L346.72999999999996,426.4 Z" fill="inherit" stroke="none" stroke-width="1" />
<rect x="348.23" y="430.80" width="6.8" height="4.2" rx="2" fill="inherit"/>
<path d="M359.03,426 l3.5,-3 l0,6.5 Z M359.03,436 l3.5,-3 l0,6.5 Z" fill="inherit" fill-opacity="0.7"/>
<path d="M335.03,188.7 L343.03,188.7 L345.53,191 L345.53,436 L335.03,436 Z" fill="inherit" stroke="none" stroke-width="1" />
<circle cx="352.03" cy="444.60" r="6.60" fill="inherit" />
<path d="M359.03,450.6 l3.5,-3 l0,6.5 Z" fill="inherit" fill-opacity="0.7"/>
<circle cx="352.03" cy="469.60" r="6.60" fill="inherit" />
<path d="M359.03,475.6 l3.5,-3 l0,6.5 Z" fill="inherit" fill-opacity="0.7"/>
<rect x="348.23" y="455" width="6.8" height="4" rx="2" fill="inherit"/>
<rect x="338.03" y="438.00" width="6.00" height="14.00" fill="inherit" fill-opacity="0.18"/>
<rect x="362.03" y="455.30" width="8.40" height="37.20" fill="inherit" />
<rect x="362.03" y="495.00" width="8.40" height="55.00" fill="inherit" />
<rect x="348.03" y="492.00" width="3.00" height="2.50" fill="inherit" />
<rect x="348.03" y="497.50" width="3.00" height="2.50" fill="inherit" />
<rect x="355.03" y="492.00" width="2.50" height="2.50" fill="inherit" fill-opacity="0.4"/>
<rect x="355.03" y="497.50" width="2.50" height="2.50" fill="inherit" fill-opacity="0.4"/>
<rect x="342.03" y="483.00" width="17.00" height="1.50" fill="inherit" fill-opacity="0.45"/>
<rect x="343.03" y="504.00" width="16.00" height="1.50" fill="inherit" fill-opacity="0.3"/>
<rect x="346.63" y="506.00" width="3.70" height="40.00" fill="inherit" />
<rect x="350.33" y="506.00" width="5.30" height="40.00" fill="inherit" fill-opacity="0.5"/>
<rect x="355.63" y="506.00" width="2.70" height="40.00" fill="inherit" />
<rect x="342.03" y="506.00" width="1.50" height="40.00" fill="inherit" fill-opacity="0.35"/>
<path d="M343.03,552.6 L345.53,548 L359.03,548 L359.03,552.6 Z" fill="inherit" stroke="none" stroke-width="1" />
<circle cx="364.03" cy="555.00" r="1.20" fill="inherit" />
<path d="M373.54,73 L376.54,73 L379.54,77.8 L377.04,77.8 Z" fill="inherit" stroke="none" stroke-width="1" />
<rect x="385.74" y="73" width="4" height="5" rx="1.6" fill="inherit"/>
<circle cx="382.24" cy="75.00" r="1.00" fill="inherit" />
<rect x="391.94" y="75.70" width="9.00" height="55.30" fill="inherit" />
<rect x="391.94" y="133.60" width="9.00" height="37.20" fill="inherit" />
<rect x="374.04" y="80.00" width="2.50" height="91.00" fill="inherit" fill-opacity="0.35"/>
<circle cx="382.54" cy="95.40" r="6.60" fill="inherit" />
<ellipse cx="382.54" cy="83.70" rx="3.30" ry="2.00" fill="inherit" />
<circle cx="389.34" cy="88.00" r="1.30" fill="inherit" />
<path d="M387.54,80 l3,-2 l0,4 Z" fill="inherit" fill-opacity="0.7"/>
<circle cx="382.54" cy="120.40" r="6.60" fill="inherit" />
<ellipse cx="382.54" cy="108.70" rx="3.30" ry="2.00" fill="inherit" />
<circle cx="389.34" cy="113.00" r="1.30" fill="inherit" />
<path d="M387.54,105 l3,-2 l0,4 Z" fill="inherit" fill-opacity="0.7"/>
<circle cx="382.54" cy="145.40" r="6.60" fill="inherit" />
<ellipse cx="382.54" cy="133.70" rx="3.30" ry="2.00" fill="inherit" />
<circle cx="389.34" cy="138.00" r="1.30" fill="inherit" />
<path d="M387.54,130 l3,-2 l0,4 Z" fill="inherit" fill-opacity="0.7"/>
<circle cx="382.54" cy="170.40" r="6.60" fill="inherit" />
<ellipse cx="382.54" cy="158.70" rx="3.30" ry="2.00" fill="inherit" />
<circle cx="389.34" cy="163.00" r="1.30" fill="inherit" />
<path d="M387.54,155 l3,-2 l0,4 Z" fill="inherit" fill-opacity="0.7"/>
<rect x="398.04" y="175.50" width="2.50" height="10.50" fill="inherit" />
<rect x="368.54" y="175.50" width="5.00" height="10.50" fill="inherit" fill-opacity="0.22"/>
<rect x="379.54" y="181.5" width="6" height="4" rx="2" fill="inherit"/>
<rect x="389.04" y="176.00" width="8.00" height="10.00" fill="inherit" fill-opacity="0.15"/>
<path d="M377.24,188.6 L382.54,188.6 A6.4,6.4 0 0 1 382.54,201.4 L377.24,201.4 Z" fill="inherit" stroke="none" stroke-width="1" />
<rect x="378.74" y="205.80" width="6.8" height="4.2" rx="2" fill="inherit"/>
<path d="M389.54,201 l3.5,-3 l0,6.5 Z M389.54,211 l3.5,-3 l0,6.5 Z" fill="inherit" fill-opacity="0.7"/>
<path d="M377.24,213.6 L382.54,213.6 A6.4,6.4 0 0 1 382.54,226.4 L377.24,226.4 Z" fill="inherit" stroke="none" stroke-width="1" />
<rect x="378.74" y="230.80" width="6.8" height="4.2" rx="2" fill="inherit"/>
<path d="M389.54,226 l3.5,-3 l0,6.5 Z M389.54,236 l3.5,-3 l0,6.5 Z" fill="inherit" fill-opacity="0.7"/>
<path d="M377.24,238.6 L382.54,238.6 A6.4,6.4 0 0 1 382.54,251.4 L377.24,251.4 Z" fill="inherit" stroke="none" stroke-width="1" />
<rect x="378.74" y="255.80" width="6.8" height="4.2" rx="2" fill="inherit"/>
<path d="M389.54,251 l3.5,-3 l0,6.5 Z M389.54,261 l3.5,-3 l0,6.5 Z" fill="inherit" fill-opacity="0.7"/>
<path d="M377.24,263.6 L382.54,263.6 A6.4,6.4 0 0 1 382.54,276.4 L377.24,276.4 Z" fill="inherit" stroke="none" stroke-width="1" />
<rect x="378.74" y="280.80" width="6.8" height="4.2" rx="2" fill="inherit"/>
<path d="M389.54,276 l3.5,-3 l0,6.5 Z M389.54,286 l3.5,-3 l0,6.5 Z" fill="inherit" fill-opacity="0.7"/>
<path d="M377.24,288.6 L382.54,288.6 A6.4,6.4 0 0 1 382.54,301.4 L377.24,301.4 Z" fill="inherit" stroke="none" stroke-width="1" />
<rect x="378.74" y="305.80" width="6.8" height="4.2" rx="2" fill="inherit"/>
<path d="M389.54,301 l3.5,-3 l0,6.5 Z M389.54,311 l3.5,-3 l0,6.5 Z" fill="inherit" fill-opacity="0.7"/>
<path d="M377.24,313.6 L382.54,313.6 A6.4,6.4 0 0 1 382.54,326.4 L377.24,326.4 Z" fill="inherit" stroke="none" stroke-width="1" />
<rect x="378.74" y="330.80" width="6.8" height="4.2" rx="2" fill="inherit"/>
<path d="M389.54,326 l3.5,-3 l0,6.5 Z M389.54,336 l3.5,-3 l0,6.5 Z" fill="inherit" fill-opacity="0.7"/>
<path d="M377.24,338.6 L382.54,338.6 A6.4,6.4 0 0 1 382.54,351.4 L377.24,351.4 Z" fill="inherit" stroke="none" stroke-width="1" />
<rect x="378.74" y="355.80" width="6.8" height="4.2" rx="2" fill="inherit"/>
<path d="M389.54,351 l3.5,-3 l0,6.5 Z M389.54,361 l3.5,-3 l0,6.5 Z" fill="inherit" fill-opacity="0.7"/>
<path d="M377.24,363.6 L382.54,363.6 A6.4,6.4 0 0 1 382.54,376.4 L377.24,376.4 Z" fill="inherit" stroke="none" stroke-width="1" />
<rect x="378.74" y="380.80" width="6.8" height="4.2" rx="2" fill="inherit"/>
<path d="M389.54,376 l3.5,-3 l0,6.5 Z M389.54,386 l3.5,-3 l0,6.5 Z" fill="inherit" fill-opacity="0.7"/>
<path d="M377.24,388.6 L382.54,388.6 A6.4,6.4 0 0 1 382.54,401.4 L377.24,401.4 Z" fill="inherit" stroke="none" stroke-width="1" />
<rect x="378.74" y="405.80" width="6.8" height="4.2" rx="2" fill="inherit"/>
<path d="M389.54,401 l3.5,-3 l0,6.5 Z M389.54,411 l3.5,-3 l0,6.5 Z" fill="inherit" fill-opacity="0.7"/>
<path d="M377.24,413.6 L382.54,413.6 A6.4,6.4 0 0 1 382.54,426.4 L377.24,426.4 Z" fill="inherit" stroke="none" stroke-width="1" />
<rect x="378.74" y="430.80" width="6.8" height="4.2" rx="2" fill="inherit"/>
<path d="M389.54,426 l3.5,-3 l0,6.5 Z M389.54,436 l3.5,-3 l0,6.5 Z" fill="inherit" fill-opacity="0.7"/>
<path d="M365.54,188.7 L373.54,188.7 L376.04,191 L376.04,436 L365.54,436 Z" fill="inherit" stroke="none" stroke-width="1" />
<circle cx="382.54" cy="444.60" r="6.60" fill="inherit" />
<path d="M389.54,450.6 l3.5,-3 l0,6.5 Z" fill="inherit" fill-opacity="0.7"/>
<circle cx="382.54" cy="469.60" r="6.60" fill="inherit" />
<path d="M389.54,475.6 l3.5,-3 l0,6.5 Z" fill="inherit" fill-opacity="0.7"/>
<rect x="378.74" y="455" width="6.8" height="4" rx="2" fill="inherit"/>
<rect x="368.54" y="438.00" width="6.00" height="14.00" fill="inherit" fill-opacity="0.18"/>
<rect x="392.54" y="455.30" width="8.40" height="37.20" fill="inherit" />
<rect x="392.54" y="495.00" width="8.40" height="55.00" fill="inherit" />
<rect x="378.54" y="492.00" width="3.00" height="2.50" fill="inherit" />
<rect x="378.54" y="497.50" width="3.00" height="2.50" fill="inherit" />
<rect x="385.54" y="492.00" width="2.50" height="2.50" fill="inherit" fill-opacity="0.4"/>
<rect x="385.54" y="497.50" width="2.50" height="2.50" fill="inherit" fill-opacity="0.4"/>
<rect x="372.54" y="483.00" width="17.00" height="1.50" fill="inherit" fill-opacity="0.45"/>
<rect x="373.54" y="504.00" width="16.00" height="1.50" fill="inherit" fill-opacity="0.3"/>
<rect x="377.14" y="506.00" width="3.70" height="40.00" fill="inherit" />
<rect x="380.84" y="506.00" width="5.30" height="40.00" fill="inherit" fill-opacity="0.5"/>
<rect x="386.14" y="506.00" width="2.70" height="40.00" fill="inherit" />
<rect x="372.54" y="506.00" width="1.50" height="40.00" fill="inherit" fill-opacity="0.35"/>
<path d="M373.54,552.6 L376.04,548 L389.54,548 L389.54,552.6 Z" fill="inherit" stroke="none" stroke-width="1" />
<circle cx="394.54" cy="555.00" r="1.20" fill="inherit" />
<path d="M404.05,73 L407.05,73 L410.05,77.8 L407.55,77.8 Z" fill="inherit" stroke="none" stroke-width="1" />
<rect x="416.25" y="73" width="4" height="5" rx="1.6" fill="inherit"/>
<circle cx="412.75" cy="75.00" r="1.00" fill="inherit" />
<rect x="422.45" y="75.70" width="9.00" height="55.30" fill="inherit" />
<rect x="422.45" y="133.60" width="9.00" height="37.20" fill="inherit" />
<rect x="404.55" y="80.00" width="2.50" height="91.00" fill="inherit" fill-opacity="0.35"/>
<circle cx="413.05" cy="95.40" r="6.60" fill="inherit" />
<ellipse cx="413.05" cy="83.70" rx="3.30" ry="2.00" fill="inherit" />
<circle cx="419.85" cy="88.00" r="1.30" fill="inherit" />
<path d="M418.05,80 l3,-2 l0,4 Z" fill="inherit" fill-opacity="0.7"/>
<circle cx="413.05" cy="120.40" r="6.60" fill="inherit" />
<ellipse cx="413.05" cy="108.70" rx="3.30" ry="2.00" fill="inherit" />
<circle cx="419.85" cy="113.00" r="1.30" fill="inherit" />
<path d="M418.05,105 l3,-2 l0,4 Z" fill="inherit" fill-opacity="0.7"/>
<circle cx="413.05" cy="145.40" r="6.60" fill="inherit" />
<ellipse cx="413.05" cy="133.70" rx="3.30" ry="2.00" fill="inherit" />
<circle cx="419.85" cy="138.00" r="1.30" fill="inherit" />
<path d="M418.05,130 l3,-2 l0,4 Z" fill="inherit" fill-opacity="0.7"/>
<circle cx="413.05" cy="170.40" r="6.60" fill="inherit" />
<ellipse cx="413.05" cy="158.70" rx="3.30" ry="2.00" fill="inherit" />
<circle cx="419.85" cy="163.00" r="1.30" fill="inherit" />
<path d="M418.05,155 l3,-2 l0,4 Z" fill="inherit" fill-opacity="0.7"/>
<rect x="428.55" y="175.50" width="2.50" height="10.50" fill="inherit" />
<rect x="399.05" y="175.50" width="5.00" height="10.50" fill="inherit" fill-opacity="0.22"/>
<rect x="410.05" y="181.5" width="6" height="4" rx="2" fill="inherit"/>
<rect x="419.55" y="176.00" width="8.00" height="10.00" fill="inherit" fill-opacity="0.15"/>
<path d="M407.75,188.6 L413.05,188.6 A6.4,6.4 0 0 1 413.05,201.4 L407.75,201.4 Z" fill="inherit" stroke="none" stroke-width="1" />
<rect x="409.25" y="205.80" width="6.8" height="4.2" rx="2" fill="inherit"/>
<path d="M420.05,201 l3.5,-3 l0,6.5 Z M420.05,211 l3.5,-3 l0,6.5 Z" fill="inherit" fill-opacity="0.7"/>
<path d="M407.75,213.6 L413.05,213.6 A6.4,6.4 0 0 1 413.05,226.4 L407.75,226.4 Z" fill="inherit" stroke="none" stroke-width="1" />
<rect x="409.25" y="230.80" width="6.8" height="4.2" rx="2" fill="inherit"/>
<path d="M420.05,226 l3.5,-3 l0,6.5 Z M420.05,236 l3.5,-3 l0,6.5 Z" fill="inherit" fill-opacity="0.7"/>
<path d="M407.75,238.6 L413.05,238.6 A6.4,6.4 0 0 1 413.05,251.4 L407.75,251.4 Z" fill="inherit" stroke="none" stroke-width="1" />
<rect x="409.25" y="255.80" width="6.8" height="4.2" rx="2" fill="inherit"/>
<path d="M420.05,251 l3.5,-3 l0,6.5 Z M420.05,261 l3.5,-3 l0,6.5 Z" fill="inherit" fill-opacity="0.7"/>
<path d="M407.75,263.6 L413.05,263.6 A6.4,6.4 0 0 1 413.05,276.4 L407.75,276.4 Z" fill="inherit" stroke="none" stroke-width="1" />
<rect x="409.25" y="280.80" width="6.8" height="4.2" rx="2" fill="inherit"/>
<path d="M420.05,276 l3.5,-3 l0,6.5 Z M420.05,286 l3.5,-3 l0,6.5 Z" fill="inherit" fill-opacity="0.7"/>
<path d="M407.75,288.6 L413.05,288.6 A6.4,6.4 0 0 1 413.05,301.4 L407.75,301.4 Z" fill="inherit" stroke="none" stroke-width="1" />
<rect x="409.25" y="305.80" width="6.8" height="4.2" rx="2" fill="inherit"/>
<path d="M420.05,301 l3.5,-3 l0,6.5 Z M420.05,311 l3.5,-3 l0,6.5 Z" fill="inherit" fill-opacity="0.7"/>
<path d="M407.75,313.6 L413.05,313.6 A6.4,6.4 0 0 1 413.05,326.4 L407.75,326.4 Z" fill="inherit" stroke="none" stroke-width="1" />
<rect x="409.25" y="330.80" width="6.8" height="4.2" rx="2" fill="inherit"/>
<path d="M420.05,326 l3.5,-3 l0,6.5 Z M420.05,336 l3.5,-3 l0,6.5 Z" fill="inherit" fill-opacity="0.7"/>
<path d="M407.75,338.6 L413.05,338.6 A6.4,6.4 0 0 1 413.05,351.4 L407.75,351.4 Z" fill="inherit" stroke="none" stroke-width="1" />
<rect x="409.25" y="355.80" width="6.8" height="4.2" rx="2" fill="inherit"/>
<path d="M420.05,351 l3.5,-3 l0,6.5 Z M420.05,361 l3.5,-3 l0,6.5 Z" fill="inherit" fill-opacity="0.7"/>
<path d="M407.75,363.6 L413.05,363.6 A6.4,6.4 0 0 1 413.05,376.4 L407.75,376.4 Z" fill="inherit" stroke="none" stroke-width="1" />
<rect x="409.25" y="380.80" width="6.8" height="4.2" rx="2" fill="inherit"/>
<path d="M420.05,376 l3.5,-3 l0,6.5 Z M420.05,386 l3.5,-3 l0,6.5 Z" fill="inherit" fill-opacity="0.7"/>
<path d="M407.75,388.6 L413.05,388.6 A6.4,6.4 0 0 1 413.05,401.4 L407.75,401.4 Z" fill="inherit" stroke="none" stroke-width="1" />
<rect x="409.25" y="405.80" width="6.8" height="4.2" rx="2" fill="inherit"/>
<path d="M420.05,401 l3.5,-3 l0,6.5 Z M420.05,411 l3.5,-3 l0,6.5 Z" fill="inherit" fill-opacity="0.7"/>
<path d="M407.75,413.6 L413.05,413.6 A6.4,6.4 0 0 1 413.05,426.4 L407.75,426.4 Z" fill="inherit" stroke="none" stroke-width="1" />
<rect x="409.25" y="430.80" width="6.8" height="4.2" rx="2" fill="inherit"/>
<path d="M420.05,426 l3.5,-3 l0,6.5 Z M420.05,436 l3.5,-3 l0,6.5 Z" fill="inherit" fill-opacity="0.7"/>
<path d="M396.05,188.7 L404.05,188.7 L406.55,191 L406.55,436 L396.05,436 Z" fill="inherit" stroke="none" stroke-width="1" />
<circle cx="413.05" cy="444.60" r="6.60" fill="inherit" />
<path d="M420.05,450.6 l3.5,-3 l0,6.5 Z" fill="inherit" fill-opacity="0.7"/>
<circle cx="413.05" cy="469.60" r="6.60" fill="inherit" />
<path d="M420.05,475.6 l3.5,-3 l0,6.5 Z" fill="inherit" fill-opacity="0.7"/>
<rect x="409.25" y="455" width="6.8" height="4" rx="2" fill="inherit"/>
<rect x="399.05" y="438.00" width="6.00" height="14.00" fill="inherit" fill-opacity="0.18"/>
<rect x="423.05" y="455.30" width="8.40" height="37.20" fill="inherit" />
<rect x="423.05" y="495.00" width="8.40" height="55.00" fill="inherit" />
<rect x="409.05" y="492.00" width="3.00" height="2.50" fill="inherit" />
<rect x="409.05" y="497.50" width="3.00" height="2.50" fill="inherit" />
<rect x="416.05" y="492.00" width="2.50" height="2.50" fill="inherit" fill-opacity="0.4"/>
<rect x="416.05" y="497.50" width="2.50" height="2.50" fill="inherit" fill-opacity="0.4"/>
<rect x="403.05" y="483.00" width="17.00" height="1.50" fill="inherit" fill-opacity="0.45"/>
<rect x="404.05" y="504.00" width="16.00" height="1.50" fill="inherit" fill-opacity="0.3"/>
<rect x="407.65" y="506.00" width="3.70" height="40.00" fill="inherit" />
<rect x="411.35" y="506.00" width="5.30" height="40.00" fill="inherit" fill-opacity="0.5"/>
<rect x="416.65" y="506.00" width="2.70" height="40.00" fill="inherit" />
<rect x="403.05" y="506.00" width="1.50" height="40.00" fill="inherit" fill-opacity="0.35"/>
<path d="M404.05,552.6 L406.55,548 L420.05,548 L420.05,552.6 Z" fill="inherit" stroke="none" stroke-width="1" />
<circle cx="425.05" cy="555.00" r="1.20" fill="inherit" />
<path d="M434.56,73 L437.56,73 L440.56,77.8 L438.06,77.8 Z" fill="inherit" stroke="none" stroke-width="1" />
<rect x="446.76" y="73" width="4" height="5" rx="1.6" fill="inherit"/>
<circle cx="443.26" cy="75.00" r="1.00" fill="inherit" />
<rect x="452.96" y="75.70" width="9.00" height="55.30" fill="inherit" />
<rect x="452.96" y="133.60" width="9.00" height="37.20" fill="inherit" />
<rect x="435.06" y="80.00" width="2.50" height="91.00" fill="inherit" fill-opacity="0.35"/>
<circle cx="443.56" cy="95.40" r="6.60" fill="inherit" />
<ellipse cx="443.56" cy="83.70" rx="3.30" ry="2.00" fill="inherit" />
<circle cx="450.36" cy="88.00" r="1.30" fill="inherit" />
<path d="M448.56,80 l3,-2 l0,4 Z" fill="inherit" fill-opacity="0.7"/>
<circle cx="443.56" cy="120.40" r="6.60" fill="inherit" />
<ellipse cx="443.56" cy="108.70" rx="3.30" ry="2.00" fill="inherit" />
<circle cx="450.36" cy="113.00" r="1.30" fill="inherit" />
<path d="M448.56,105 l3,-2 l0,4 Z" fill="inherit" fill-opacity="0.7"/>
<circle cx="443.56" cy="145.40" r="6.60" fill="inherit" />
<ellipse cx="443.56" cy="133.70" rx="3.30" ry="2.00" fill="inherit" />
<circle cx="450.36" cy="138.00" r="1.30" fill="inherit" />
<path d="M448.56,130 l3,-2 l0,4 Z" fill="inherit" fill-opacity="0.7"/>
<circle cx="443.56" cy="170.40" r="6.60" fill="inherit" />
<ellipse cx="443.56" cy="158.70" rx="3.30" ry="2.00" fill="inherit" />
<circle cx="450.36" cy="163.00" r="1.30" fill="inherit" />
<path d="M448.56,155 l3,-2 l0,4 Z" fill="inherit" fill-opacity="0.7"/>
<rect x="459.06" y="175.50" width="2.50" height="10.50" fill="inherit" />
<rect x="429.56" y="175.50" width="5.00" height="10.50" fill="inherit" fill-opacity="0.22"/>
<rect x="440.56" y="181.5" width="6" height="4" rx="2" fill="inherit"/>
<rect x="450.06" y="176.00" width="8.00" height="10.00" fill="inherit" fill-opacity="0.15"/>
<path d="M438.26,188.6 L443.56,188.6 A6.4,6.4 0 0 1 443.56,201.4 L438.26,201.4 Z" fill="inherit" stroke="none" stroke-width="1" />
<rect x="439.76" y="205.80" width="6.8" height="4.2" rx="2" fill="inherit"/>
<path d="M450.56,201 l3.5,-3 l0,6.5 Z M450.56,211 l3.5,-3 l0,6.5 Z" fill="inherit" fill-opacity="0.7"/>
<path d="M438.26,213.6 L443.56,213.6 A6.4,6.4 0 0 1 443.56,226.4 L438.26,226.4 Z" fill="inherit" stroke="none" stroke-width="1" />
<rect x="439.76" y="230.80" width="6.8" height="4.2" rx="2" fill="inherit"/>
<path d="M450.56,226 l3.5,-3 l0,6.5 Z M450.56,236 l3.5,-3 l0,6.5 Z" fill="inherit" fill-opacity="0.7"/>
<path d="M438.26,238.6 L443.56,238.6 A6.4,6.4 0 0 1 443.56,251.4 L438.26,251.4 Z" fill="inherit" stroke="none" stroke-width="1" />
<rect x="439.76" y="255.80" width="6.8" height="4.2" rx="2" fill="inherit"/>
<path d="M450.56,251 l3.5,-3 l0,6.5 Z M450.56,261 l3.5,-3 l0,6.5 Z" fill="inherit" fill-opacity="0.7"/>
<path d="M438.26,263.6 L443.56,263.6 A6.4,6.4 0 0 1 443.56,276.4 L438.26,276.4 Z" fill="inherit" stroke="none" stroke-width="1" />
<rect x="439.76" y="280.80" width="6.8" height="4.2" rx="2" fill="inherit"/>
<path d="M450.56,276 l3.5,-3 l0,6.5 Z M450.56,286 l3.5,-3 l0,6.5 Z" fill="inherit" fill-opacity="0.7"/>
<path d="M438.26,288.6 L443.56,288.6 A6.4,6.4 0 0 1 443.56,301.4 L438.26,301.4 Z" fill="inherit" stroke="none" stroke-width="1" />
<rect x="439.76" y="305.80" width="6.8" height="4.2" rx="2" fill="inherit"/>
<path d="M450.56,301 l3.5,-3 l0,6.5 Z M450.56,311 l3.5,-3 l0,6.5 Z" fill="inherit" fill-opacity="0.7"/>
<path d="M438.26,313.6 L443.56,313.6 A6.4,6.4 0 0 1 443.56,326.4 L438.26,326.4 Z" fill="inherit" stroke="none" stroke-width="1" />
<rect x="439.76" y="330.80" width="6.8" height="4.2" rx="2" fill="inherit"/>
<path d="M450.56,326 l3.5,-3 l0,6.5 Z M450.56,336 l3.5,-3 l0,6.5 Z" fill="inherit" fill-opacity="0.7"/>
<path d="M438.26,338.6 L443.56,338.6 A6.4,6.4 0 0 1 443.56,351.4 L438.26,351.4 Z" fill="inherit" stroke="none" stroke-width="1" />
<rect x="439.76" y="355.80" width="6.8" height="4.2" rx="2" fill="inherit"/>
<path d="M450.56,351 l3.5,-3 l0,6.5 Z M450.56,361 l3.5,-3 l0,6.5 Z" fill="inherit" fill-opacity="0.7"/>
<path d="M438.26,363.6 L443.56,363.6 A6.4,6.4 0 0 1 443.56,376.4 L438.26,376.4 Z" fill="inherit" stroke="none" stroke-width="1" />
<rect x="439.76" y="380.80" width="6.8" height="4.2" rx="2" fill="inherit"/>
<path d="M450.56,376 l3.5,-3 l0,6.5 Z M450.56,386 l3.5,-3 l0,6.5 Z" fill="inherit" fill-opacity="0.7"/>
<path d="M438.26,388.6 L443.56,388.6 A6.4,6.4 0 0 1 443.56,401.4 L438.26,401.4 Z" fill="inherit" stroke="none" stroke-width="1" />
<rect x="439.76" y="405.80" width="6.8" height="4.2" rx="2" fill="inherit"/>
<path d="M450.56,401 l3.5,-3 l0,6.5 Z M450.56,411 l3.5,-3 l0,6.5 Z" fill="inherit" fill-opacity="0.7"/>
<path d="M438.26,413.6 L443.56,413.6 A6.4,6.4 0 0 1 443.56,426.4 L438.26,426.4 Z" fill="inherit" stroke="none" stroke-width="1" />
<rect x="439.76" y="430.80" width="6.8" height="4.2" rx="2" fill="inherit"/>
<path d="M450.56,426 l3.5,-3 l0,6.5 Z M450.56,436 l3.5,-3 l0,6.5 Z" fill="inherit" fill-opacity="0.7"/>
<path d="M426.56,188.7 L434.56,188.7 L437.06,191 L437.06,436 L426.56,436 Z" fill="inherit" stroke="none" stroke-width="1" />
<circle cx="443.56" cy="444.60" r="6.60" fill="inherit" />
<path d="M450.56,450.6 l3.5,-3 l0,6.5 Z" fill="inherit" fill-opacity="0.7"/>
<circle cx="443.56" cy="469.60" r="6.60" fill="inherit" />
<path d="M450.56,475.6 l3.5,-3 l0,6.5 Z" fill="inherit" fill-opacity="0.7"/>
<rect x="439.76" y="455" width="6.8" height="4" rx="2" fill="inherit"/>
<rect x="429.56" y="438.00" width="6.00" height="14.00" fill="inherit" fill-opacity="0.18"/>
<rect x="453.56" y="455.30" width="8.40" height="37.20" fill="inherit" />
<rect x="453.56" y="495.00" width="8.40" height="55.00" fill="inherit" />
<rect x="439.56" y="492.00" width="3.00" height="2.50" fill="inherit" />
<rect x="439.56" y="497.50" width="3.00" height="2.50" fill="inherit" />
<rect x="446.56" y="492.00" width="2.50" height="2.50" fill="inherit" fill-opacity="0.4"/>
<rect x="446.56" y="497.50" width="2.50" height="2.50" fill="inherit" fill-opacity="0.4"/>
<rect x="433.56" y="483.00" width="17.00" height="1.50" fill="inherit" fill-opacity="0.45"/>
<rect x="434.56" y="504.00" width="16.00" height="1.50" fill="inherit" fill-opacity="0.3"/>
<rect x="438.16" y="506.00" width="3.70" height="40.00" fill="inherit" />
<rect x="441.86" y="506.00" width="5.30" height="40.00" fill="inherit" fill-opacity="0.5"/>
<rect x="447.16" y="506.00" width="2.70" height="40.00" fill="inherit" />
<rect x="433.56" y="506.00" width="1.50" height="40.00" fill="inherit" fill-opacity="0.35"/>
<path d="M434.56,552.6 L437.06,548 L450.56,548 L450.56,552.6 Z" fill="inherit" stroke="none" stroke-width="1" />
<circle cx="455.56" cy="555.00" r="1.20" fill="inherit" />
<path d="M465.07000000000005,73 L468.07000000000005,73 L471.07000000000005,77.8 L468.57000000000005,77.8 Z" fill="inherit" stroke="none" stroke-width="1" />
<rect x="477.27" y="73" width="4" height="5" rx="1.6" fill="inherit"/>
<circle cx="473.77" cy="75.00" r="1.00" fill="inherit" />
<rect x="483.47" y="75.70" width="9.00" height="55.30" fill="inherit" />
<rect x="483.47" y="133.60" width="9.00" height="37.20" fill="inherit" />
<rect x="465.57" y="80.00" width="2.50" height="91.00" fill="inherit" fill-opacity="0.35"/>
<circle cx="474.07" cy="95.40" r="6.60" fill="inherit" />
<ellipse cx="474.07" cy="83.70" rx="3.30" ry="2.00" fill="inherit" />
<circle cx="480.87" cy="88.00" r="1.30" fill="inherit" />
<path d="M479.07,80 l3,-2 l0,4 Z" fill="inherit" fill-opacity="0.7"/>
<circle cx="474.07" cy="120.40" r="6.60" fill="inherit" />
<ellipse cx="474.07" cy="108.70" rx="3.30" ry="2.00" fill="inherit" />
<circle cx="480.87" cy="113.00" r="1.30" fill="inherit" />
<path d="M479.07,105 l3,-2 l0,4 Z" fill="inherit" fill-opacity="0.7"/>
<circle cx="474.07" cy="145.40" r="6.60" fill="inherit" />
<ellipse cx="474.07" cy="133.70" rx="3.30" ry="2.00" fill="inherit" />
<circle cx="480.87" cy="138.00" r="1.30" fill="inherit" />
<path d="M479.07,130 l3,-2 l0,4 Z" fill="inherit" fill-opacity="0.7"/>
<circle cx="474.07" cy="170.40" r="6.60" fill="inherit" />
<ellipse cx="474.07" cy="158.70" rx="3.30" ry="2.00" fill="inherit" />
<circle cx="480.87" cy="163.00" r="1.30" fill="inherit" />
<path d="M479.07,155 l3,-2 l0,4 Z" fill="inherit" fill-opacity="0.7"/>
<rect x="489.57" y="175.50" width="2.50" height="10.50" fill="inherit" />
<rect x="460.07" y="175.50" width="5.00" height="10.50" fill="inherit" fill-opacity="0.22"/>
<rect x="471.07" y="181.5" width="6" height="4" rx="2" fill="inherit"/>
<rect x="480.57" y="176.00" width="8.00" height="10.00" fill="inherit" fill-opacity="0.15"/>
<path d="M468.77000000000004,188.6 L474.07000000000005,188.6 A6.4,6.4 0 0 1 474.07000000000005,201.4 L468.77000000000004,201.4 Z" fill="inherit" stroke="none" stroke-width="1" />
<rect x="470.27" y="205.80" width="6.8" height="4.2" rx="2" fill="inherit"/>
<path d="M481.07,201 l3.5,-3 l0,6.5 Z M481.07,211 l3.5,-3 l0,6.5 Z" fill="inherit" fill-opacity="0.7"/>
<path d="M468.77000000000004,213.6 L474.07000000000005,213.6 A6.4,6.4 0 0 1 474.07000000000005,226.4 L468.77000000000004,226.4 Z" fill="inherit" stroke="none" stroke-width="1" />
<rect x="470.27" y="230.80" width="6.8" height="4.2" rx="2" fill="inherit"/>
<path d="M481.07,226 l3.5,-3 l0,6.5 Z M481.07,236 l3.5,-3 l0,6.5 Z" fill="inherit" fill-opacity="0.7"/>
<path d="M468.77000000000004,238.6 L474.07000000000005,238.6 A6.4,6.4 0 0 1 474.07000000000005,251.4 L468.77000000000004,251.4 Z" fill="inherit" stroke="none" stroke-width="1" />
<rect x="470.27" y="255.80" width="6.8" height="4.2" rx="2" fill="inherit"/>
<path d="M481.07,251 l3.5,-3 l0,6.5 Z M481.07,261 l3.5,-3 l0,6.5 Z" fill="inherit" fill-opacity="0.7"/>
<path d="M468.77000000000004,263.6 L474.07000000000005,263.6 A6.4,6.4 0 0 1 474.07000000000005,276.4 L468.77000000000004,276.4 Z" fill="inherit" stroke="none" stroke-width="1" />
<rect x="470.27" y="280.80" width="6.8" height="4.2" rx="2" fill="inherit"/>
<path d="M481.07,276 l3.5,-3 l0,6.5 Z M481.07,286 l3.5,-3 l0,6.5 Z" fill="inherit" fill-opacity="0.7"/>
<path d="M468.77000000000004,288.6 L474.07000000000005,288.6 A6.4,6.4 0 0 1 474.07000000000005,301.4 L468.77000000000004,301.4 Z" fill="inherit" stroke="none" stroke-width="1" />
<rect x="470.27" y="305.80" width="6.8" height="4.2" rx="2" fill="inherit"/>
<path d="M481.07,301 l3.5,-3 l0,6.5 Z M481.07,311 l3.5,-3 l0,6.5 Z" fill="inherit" fill-opacity="0.7"/>
<path d="M468.77000000000004,313.6 L474.07000000000005,313.6 A6.4,6.4 0 0 1 474.07000000000005,326.4 L468.77000000000004,326.4 Z" fill="inherit" stroke="none" stroke-width="1" />
<rect x="470.27" y="330.80" width="6.8" height="4.2" rx="2" fill="inherit"/>
<path d="M481.07,326 l3.5,-3 l0,6.5 Z M481.07,336 l3.5,-3 l0,6.5 Z" fill="inherit" fill-opacity="0.7"/>
<path d="M468.77000000000004,338.6 L474.07000000000005,338.6 A6.4,6.4 0 0 1 474.07000000000005,351.4 L468.77000000000004,351.4 Z" fill="inherit" stroke="none" stroke-width="1" />
<rect x="470.27" y="355.80" width="6.8" height="4.2" rx="2" fill="inherit"/>
<path d="M481.07,351 l3.5,-3 l0,6.5 Z M481.07,361 l3.5,-3 l0,6.5 Z" fill="inherit" fill-opacity="0.7"/>
<path d="M468.77000000000004,363.6 L474.07000000000005,363.6 A6.4,6.4 0 0 1 474.07000000000005,376.4 L468.77000000000004,376.4 Z" fill="inherit" stroke="none" stroke-width="1" />
<rect x="470.27" y="380.80" width="6.8" height="4.2" rx="2" fill="inherit"/>
<path d="M481.07,376 l3.5,-3 l0,6.5 Z M481.07,386 l3.5,-3 l0,6.5 Z" fill="inherit" fill-opacity="0.7"/>
<path d="M468.77000000000004,388.6 L474.07000000000005,388.6 A6.4,6.4 0 0 1 474.07000000000005,401.4 L468.77000000000004,401.4 Z" fill="inherit" stroke="none" stroke-width="1" />
<rect x="470.27" y="405.80" width="6.8" height="4.2" rx="2" fill="inherit"/>
<path d="M481.07,401 l3.5,-3 l0,6.5 Z M481.07,411 l3.5,-3 l0,6.5 Z" fill="inherit" fill-opacity="0.7"/>
<path d="M468.77000000000004,413.6 L474.07000000000005,413.6 A6.4,6.4 0 0 1 474.07000000000005,426.4 L468.77000000000004,426.4 Z" fill="inherit" stroke="none" stroke-width="1" />
<rect x="470.27" y="430.80" width="6.8" height="4.2" rx="2" fill="inherit"/>
<path d="M481.07,426 l3.5,-3 l0,6.5 Z M481.07,436 l3.5,-3 l0,6.5 Z" fill="inherit" fill-opacity="0.7"/>
<path d="M457.07000000000005,188.7 L465.07000000000005,188.7 L467.57000000000005,191 L467.57000000000005,436 L457.07000000000005,436 Z" fill="inherit" stroke="none" stroke-width="1" />
<circle cx="474.07" cy="444.60" r="6.60" fill="inherit" />
<path d="M481.07,450.6 l3.5,-3 l0,6.5 Z" fill="inherit" fill-opacity="0.7"/>
<circle cx="474.07" cy="469.60" r="6.60" fill="inherit" />
<path d="M481.07,475.6 l3.5,-3 l0,6.5 Z" fill="inherit" fill-opacity="0.7"/>
<rect x="470.27" y="455" width="6.8" height="4" rx="2" fill="inherit"/>
<rect x="460.07" y="438.00" width="6.00" height="14.00" fill="inherit" fill-opacity="0.18"/>
<rect x="484.07" y="455.30" width="8.40" height="37.20" fill="inherit" />
<rect x="484.07" y="495.00" width="8.40" height="55.00" fill="inherit" />
<rect x="470.07" y="492.00" width="3.00" height="2.50" fill="inherit" />
<rect x="470.07" y="497.50" width="3.00" height="2.50" fill="inherit" />
<rect x="477.07" y="492.00" width="2.50" height="2.50" fill="inherit" fill-opacity="0.4"/>
<rect x="477.07" y="497.50" width="2.50" height="2.50" fill="inherit" fill-opacity="0.4"/>
<rect x="464.07" y="483.00" width="17.00" height="1.50" fill="inherit" fill-opacity="0.45"/>
<rect x="465.07" y="504.00" width="16.00" height="1.50" fill="inherit" fill-opacity="0.3"/>
<rect x="468.67" y="506.00" width="3.70" height="40.00" fill="inherit" />
<rect x="472.37" y="506.00" width="5.30" height="40.00" fill="inherit" fill-opacity="0.5"/>
<rect x="477.67" y="506.00" width="2.70" height="40.00" fill="inherit" />
<rect x="464.07" y="506.00" width="1.50" height="40.00" fill="inherit" fill-opacity="0.35"/>
<path d="M465.07000000000005,552.6 L467.57000000000005,548 L481.07000000000005,548 L481.07000000000005,552.6 Z" fill="inherit" stroke="none" stroke-width="1" />
<circle cx="486.07" cy="555.00" r="1.20" fill="inherit" />
<path d="M495.58000000000004,73 L498.58000000000004,73 L501.58000000000004,77.8 L499.08000000000004,77.8 Z" fill="inherit" stroke="none" stroke-width="1" />
<rect x="507.78" y="73" width="4" height="5" rx="1.6" fill="inherit"/>
<circle cx="504.28" cy="75.00" r="1.00" fill="inherit" />
<rect x="513.98" y="75.70" width="9.00" height="55.30" fill="inherit" />
<rect x="513.98" y="133.60" width="9.00" height="37.20" fill="inherit" />
<rect x="496.08" y="80.00" width="2.50" height="91.00" fill="inherit" fill-opacity="0.35"/>
<circle cx="504.58" cy="95.40" r="6.60" fill="inherit" />
<ellipse cx="504.58" cy="83.70" rx="3.30" ry="2.00" fill="inherit" />
<circle cx="511.38" cy="88.00" r="1.30" fill="inherit" />
<path d="M509.58,80 l3,-2 l0,4 Z" fill="inherit" fill-opacity="0.7"/>
<circle cx="504.58" cy="120.40" r="6.60" fill="inherit" />
<ellipse cx="504.58" cy="108.70" rx="3.30" ry="2.00" fill="inherit" />
<circle cx="511.38" cy="113.00" r="1.30" fill="inherit" />
<path d="M509.58,105 l3,-2 l0,4 Z" fill="inherit" fill-opacity="0.7"/>
<circle cx="504.58" cy="145.40" r="6.60" fill="inherit" />
<ellipse cx="504.58" cy="133.70" rx="3.30" ry="2.00" fill="inherit" />
<circle cx="511.38" cy="138.00" r="1.30" fill="inherit" />
<path d="M509.58,130 l3,-2 l0,4 Z" fill="inherit" fill-opacity="0.7"/>
<circle cx="504.58" cy="170.40" r="6.60" fill="inherit" />
<ellipse cx="504.58" cy="158.70" rx="3.30" ry="2.00" fill="inherit" />
<circle cx="511.38" cy="163.00" r="1.30" fill="inherit" />
<path d="M509.58,155 l3,-2 l0,4 Z" fill="inherit" fill-opacity="0.7"/>
<rect x="520.08" y="175.50" width="2.50" height="10.50" fill="inherit" />
<rect x="490.58" y="175.50" width="5.00" height="10.50" fill="inherit" fill-opacity="0.22"/>
<rect x="501.58" y="181.5" width="6" height="4" rx="2" fill="inherit"/>
<rect x="511.08" y="176.00" width="8.00" height="10.00" fill="inherit" fill-opacity="0.15"/>
<path d="M499.28000000000003,188.6 L504.58000000000004,188.6 A6.4,6.4 0 0 1 504.58000000000004,201.4 L499.28000000000003,201.4 Z" fill="inherit" stroke="none" stroke-width="1" />
<rect x="500.78" y="205.80" width="6.8" height="4.2" rx="2" fill="inherit"/>
<path d="M511.58,201 l3.5,-3 l0,6.5 Z M511.58,211 l3.5,-3 l0,6.5 Z" fill="inherit" fill-opacity="0.7"/>
<path d="M499.28000000000003,213.6 L504.58000000000004,213.6 A6.4,6.4 0 0 1 504.58000000000004,226.4 L499.28000000000003,226.4 Z" fill="inherit" stroke="none" stroke-width="1" />
<rect x="500.78" y="230.80" width="6.8" height="4.2" rx="2" fill="inherit"/>
<path d="M511.58,226 l3.5,-3 l0,6.5 Z M511.58,236 l3.5,-3 l0,6.5 Z" fill="inherit" fill-opacity="0.7"/>
<path d="M499.28000000000003,238.6 L504.58000000000004,238.6 A6.4,6.4 0 0 1 504.58000000000004,251.4 L499.28000000000003,251.4 Z" fill="inherit" stroke="none" stroke-width="1" />
<rect x="500.78" y="255.80" width="6.8" height="4.2" rx="2" fill="inherit"/>
<path d="M511.58,251 l3.5,-3 l0,6.5 Z M511.58,261 l3.5,-3 l0,6.5 Z" fill="inherit" fill-opacity="0.7"/>
<path d="M499.28000000000003,263.6 L504.58000000000004,263.6 A6.4,6.4 0 0 1 504.58000000000004,276.4 L499.28000000000003,276.4 Z" fill="inherit" stroke="none" stroke-width="1" />
<rect x="500.78" y="280.80" width="6.8" height="4.2" rx="2" fill="inherit"/>
<path d="M511.58,276 l3.5,-3 l0,6.5 Z M511.58,286 l3.5,-3 l0,6.5 Z" fill="inherit" fill-opacity="0.7"/>
<path d="M499.28000000000003,288.6 L504.58000000000004,288.6 A6.4,6.4 0 0 1 504.58000000000004,301.4 L499.28000000000003,301.4 Z" fill="inherit" stroke="none" stroke-width="1" />
<rect x="500.78" y="305.80" width="6.8" height="4.2" rx="2" fill="inherit"/>
<path d="M511.58,301 l3.5,-3 l0,6.5 Z M511.58,311 l3.5,-3 l0,6.5 Z" fill="inherit" fill-opacity="0.7"/>
<path d="M499.28000000000003,313.6 L504.58000000000004,313.6 A6.4,6.4 0 0 1 504.58000000000004,326.4 L499.28000000000003,326.4 Z" fill="inherit" stroke="none" stroke-width="1" />
<rect x="500.78" y="330.80" width="6.8" height="4.2" rx="2" fill="inherit"/>
<path d="M511.58,326 l3.5,-3 l0,6.5 Z M511.58,336 l3.5,-3 l0,6.5 Z" fill="inherit" fill-opacity="0.7"/>
<path d="M499.28000000000003,338.6 L504.58000000000004,338.6 A6.4,6.4 0 0 1 504.58000000000004,351.4 L499.28000000000003,351.4 Z" fill="inherit" stroke="none" stroke-width="1" />
<rect x="500.78" y="355.80" width="6.8" height="4.2" rx="2" fill="inherit"/>
<path d="M511.58,351 l3.5,-3 l0,6.5 Z M511.58,361 l3.5,-3 l0,6.5 Z" fill="inherit" fill-opacity="0.7"/>
<path d="M499.28000000000003,363.6 L504.58000000000004,363.6 A6.4,6.4 0 0 1 504.58000000000004,376.4 L499.28000000000003,376.4 Z" fill="inherit" stroke="none" stroke-width="1" />
<rect x="500.78" y="380.80" width="6.8" height="4.2" rx="2" fill="inherit"/>
<path d="M511.58,376 l3.5,-3 l0,6.5 Z M511.58,386 l3.5,-3 l0,6.5 Z" fill="inherit" fill-opacity="0.7"/>
<path d="M499.28000000000003,388.6 L504.58000000000004,388.6 A6.4,6.4 0 0 1 504.58000000000004,401.4 L499.28000000000003,401.4 Z" fill="inherit" stroke="none" stroke-width="1" />
<rect x="500.78" y="405.80" width="6.8" height="4.2" rx="2" fill="inherit"/>
<path d="M511.58,401 l3.5,-3 l0,6.5 Z M511.58,411 l3.5,-3 l0,6.5 Z" fill="inherit" fill-opacity="0.7"/>
<path d="M499.28000000000003,413.6 L504.58000000000004,413.6 A6.4,6.4 0 0 1 504.58000000000004,426.4 L499.28000000000003,426.4 Z" fill="inherit" stroke="none" stroke-width="1" />
<rect x="500.78" y="430.80" width="6.8" height="4.2" rx="2" fill="inherit"/>
<path d="M511.58,426 l3.5,-3 l0,6.5 Z M511.58,436 l3.5,-3 l0,6.5 Z" fill="inherit" fill-opacity="0.7"/>
<path d="M487.58000000000004,188.7 L495.58000000000004,188.7 L498.08000000000004,191 L498.08000000000004,436 L487.58000000000004,436 Z" fill="inherit" stroke="none" stroke-width="1" />
<circle cx="504.58" cy="444.60" r="6.60" fill="inherit" />
<path d="M511.58,450.6 l3.5,-3 l0,6.5 Z" fill="inherit" fill-opacity="0.7"/>
<circle cx="504.58" cy="469.60" r="6.60" fill="inherit" />
<path d="M511.58,475.6 l3.5,-3 l0,6.5 Z" fill="inherit" fill-opacity="0.7"/>
<rect x="500.78" y="455" width="6.8" height="4" rx="2" fill="inherit"/>
<rect x="490.58" y="438.00" width="6.00" height="14.00" fill="inherit" fill-opacity="0.18"/>
<rect x="514.58" y="455.30" width="8.40" height="37.20" fill="inherit" />
<rect x="514.58" y="495.00" width="8.40" height="55.00" fill="inherit" />
<rect x="500.58" y="492.00" width="3.00" height="2.50" fill="inherit" />
<rect x="500.58" y="497.50" width="3.00" height="2.50" fill="inherit" />
<rect x="507.58" y="492.00" width="2.50" height="2.50" fill="inherit" fill-opacity="0.4"/>
<rect x="507.58" y="497.50" width="2.50" height="2.50" fill="inherit" fill-opacity="0.4"/>
<rect x="494.58" y="483.00" width="17.00" height="1.50" fill="inherit" fill-opacity="0.45"/>
<rect x="495.58" y="504.00" width="16.00" height="1.50" fill="inherit" fill-opacity="0.3"/>
<rect x="499.18" y="506.00" width="3.70" height="40.00" fill="inherit" />
<rect x="502.88" y="506.00" width="5.30" height="40.00" fill="inherit" fill-opacity="0.5"/>
<rect x="508.18" y="506.00" width="2.70" height="40.00" fill="inherit" />
<rect x="494.58" y="506.00" width="1.50" height="40.00" fill="inherit" fill-opacity="0.35"/>
<path d="M495.58000000000004,552.6 L498.08000000000004,548 L511.58000000000004,548 L511.58000000000004,552.6 Z" fill="inherit" stroke="none" stroke-width="1" />
<circle cx="516.58" cy="555.00" r="1.20" fill="inherit" />
<path d="M526.09,73 L529.09,73 L532.09,77.8 L529.59,77.8 Z" fill="inherit" stroke="none" stroke-width="1" />
<rect x="538.29" y="73" width="4" height="5" rx="1.6" fill="inherit"/>
<circle cx="534.79" cy="75.00" r="1.00" fill="inherit" />
<rect x="544.49" y="75.70" width="9.00" height="55.30" fill="inherit" />
<rect x="544.49" y="133.60" width="9.00" height="37.20" fill="inherit" />
<rect x="526.59" y="80.00" width="2.50" height="91.00" fill="inherit" fill-opacity="0.35"/>
<circle cx="535.09" cy="95.40" r="6.60" fill="inherit" />
<ellipse cx="535.09" cy="83.70" rx="3.30" ry="2.00" fill="inherit" />
<circle cx="541.89" cy="88.00" r="1.30" fill="inherit" />
<path d="M540.09,80 l3,-2 l0,4 Z" fill="inherit" fill-opacity="0.7"/>
<circle cx="535.09" cy="120.40" r="6.60" fill="inherit" />
<ellipse cx="535.09" cy="108.70" rx="3.30" ry="2.00" fill="inherit" />
<circle cx="541.89" cy="113.00" r="1.30" fill="inherit" />
<path d="M540.09,105 l3,-2 l0,4 Z" fill="inherit" fill-opacity="0.7"/>
<circle cx="535.09" cy="145.40" r="6.60" fill="inherit" />
<ellipse cx="535.09" cy="133.70" rx="3.30" ry="2.00" fill="inherit" />
<circle cx="541.89" cy="138.00" r="1.30" fill="inherit" />
<path d="M540.09,130 l3,-2 l0,4 Z" fill="inherit" fill-opacity="0.7"/>
<circle cx="535.09" cy="170.40" r="6.60" fill="inherit" />
<ellipse cx="535.09" cy="158.70" rx="3.30" ry="2.00" fill="inherit" />
<circle cx="541.89" cy="163.00" r="1.30" fill="inherit" />
<path d="M540.09,155 l3,-2 l0,4 Z" fill="inherit" fill-opacity="0.7"/>
<rect x="550.59" y="175.50" width="2.50" height="10.50" fill="inherit" />
<rect x="521.09" y="175.50" width="5.00" height="10.50" fill="inherit" fill-opacity="0.22"/>
<rect x="532.09" y="181.5" width="6" height="4" rx="2" fill="inherit"/>
<rect x="541.59" y="176.00" width="8.00" height="10.00" fill="inherit" fill-opacity="0.15"/>
<path d="M529.7900000000001,188.6 L535.09,188.6 A6.4,6.4 0 0 1 535.09,201.4 L529.7900000000001,201.4 Z" fill="inherit" stroke="none" stroke-width="1" />
<rect x="531.29" y="205.80" width="6.8" height="4.2" rx="2" fill="inherit"/>
<path d="M542.09,201 l3.5,-3 l0,6.5 Z M542.09,211 l3.5,-3 l0,6.5 Z" fill="inherit" fill-opacity="0.7"/>
<path d="M529.7900000000001,213.6 L535.09,213.6 A6.4,6.4 0 0 1 535.09,226.4 L529.7900000000001,226.4 Z" fill="inherit" stroke="none" stroke-width="1" />
<rect x="531.29" y="230.80" width="6.8" height="4.2" rx="2" fill="inherit"/>
<path d="M542.09,226 l3.5,-3 l0,6.5 Z M542.09,236 l3.5,-3 l0,6.5 Z" fill="inherit" fill-opacity="0.7"/>
<path d="M529.7900000000001,238.6 L535.09,238.6 A6.4,6.4 0 0 1 535.09,251.4 L529.7900000000001,251.4 Z" fill="inherit" stroke="none" stroke-width="1" />
<rect x="531.29" y="255.80" width="6.8" height="4.2" rx="2" fill="inherit"/>
<path d="M542.09,251 l3.5,-3 l0,6.5 Z M542.09,261 l3.5,-3 l0,6.5 Z" fill="inherit" fill-opacity="0.7"/>
<path d="M529.7900000000001,263.6 L535.09,263.6 A6.4,6.4 0 0 1 535.09,276.4 L529.7900000000001,276.4 Z" fill="inherit" stroke="none" stroke-width="1" />
<rect x="531.29" y="280.80" width="6.8" height="4.2" rx="2" fill="inherit"/>
<path d="M542.09,276 l3.5,-3 l0,6.5 Z M542.09,286 l3.5,-3 l0,6.5 Z" fill="inherit" fill-opacity="0.7"/>
<path d="M529.7900000000001,288.6 L535.09,288.6 A6.4,6.4 0 0 1 535.09,301.4 L529.7900000000001,301.4 Z" fill="inherit" stroke="none" stroke-width="1" />
<rect x="531.29" y="305.80" width="6.8" height="4.2" rx="2" fill="inherit"/>
<path d="M542.09,301 l3.5,-3 l0,6.5 Z M542.09,311 l3.5,-3 l0,6.5 Z" fill="inherit" fill-opacity="0.7"/>
<path d="M529.7900000000001,313.6 L535.09,313.6 A6.4,6.4 0 0 1 535.09,326.4 L529.7900000000001,326.4 Z" fill="inherit" stroke="none" stroke-width="1" />
<rect x="531.29" y="330.80" width="6.8" height="4.2" rx="2" fill="inherit"/>
<path d="M542.09,326 l3.5,-3 l0,6.5 Z M542.09,336 l3.5,-3 l0,6.5 Z" fill="inherit" fill-opacity="0.7"/>
<path d="M529.7900000000001,338.6 L535.09,338.6 A6.4,6.4 0 0 1 535.09,351.4 L529.7900000000001,351.4 Z" fill="inherit" stroke="none" stroke-width="1" />
<rect x="531.29" y="355.80" width="6.8" height="4.2" rx="2" fill="inherit"/>
<path d="M542.09,351 l3.5,-3 l0,6.5 Z M542.09,361 l3.5,-3 l0,6.5 Z" fill="inherit" fill-opacity="0.7"/>
<path d="M529.7900000000001,363.6 L535.09,363.6 A6.4,6.4 0 0 1 535.09,376.4 L529.7900000000001,376.4 Z" fill="inherit" stroke="none" stroke-width="1" />
<rect x="531.29" y="380.80" width="6.8" height="4.2" rx="2" fill="inherit"/>
<path d="M542.09,376 l3.5,-3 l0,6.5 Z M542.09,386 l3.5,-3 l0,6.5 Z" fill="inherit" fill-opacity="0.7"/>
<path d="M529.7900000000001,388.6 L535.09,388.6 A6.4,6.4 0 0 1 535.09,401.4 L529.7900000000001,401.4 Z" fill="inherit" stroke="none" stroke-width="1" />
<rect x="531.29" y="405.80" width="6.8" height="4.2" rx="2" fill="inherit"/>
<path d="M542.09,401 l3.5,-3 l0,6.5 Z M542.09,411 l3.5,-3 l0,6.5 Z" fill="inherit" fill-opacity="0.7"/>
<path d="M529.7900000000001,413.6 L535.09,413.6 A6.4,6.4 0 0 1 535.09,426.4 L529.7900000000001,426.4 Z" fill="inherit" stroke="none" stroke-width="1" />
<rect x="531.29" y="430.80" width="6.8" height="4.2" rx="2" fill="inherit"/>
<path d="M542.09,426 l3.5,-3 l0,6.5 Z M542.09,436 l3.5,-3 l0,6.5 Z" fill="inherit" fill-opacity="0.7"/>
<path d="M518.09,188.7 L526.09,188.7 L528.59,191 L528.59,436 L518.09,436 Z" fill="inherit" stroke="none" stroke-width="1" />
<circle cx="535.09" cy="444.60" r="6.60" fill="inherit" />
<path d="M542.09,450.6 l3.5,-3 l0,6.5 Z" fill="inherit" fill-opacity="0.7"/>
<circle cx="535.09" cy="469.60" r="6.60" fill="inherit" />
<path d="M542.09,475.6 l3.5,-3 l0,6.5 Z" fill="inherit" fill-opacity="0.7"/>
<rect x="531.29" y="455" width="6.8" height="4" rx="2" fill="inherit"/>
<rect x="521.09" y="438.00" width="6.00" height="14.00" fill="inherit" fill-opacity="0.18"/>
<rect x="545.09" y="455.30" width="8.40" height="37.20" fill="inherit" />
<rect x="545.09" y="495.00" width="8.40" height="55.00" fill="inherit" />
<rect x="531.09" y="492.00" width="3.00" height="2.50" fill="inherit" />
<rect x="531.09" y="497.50" width="3.00" height="2.50" fill="inherit" />
<rect x="538.09" y="492.00" width="2.50" height="2.50" fill="inherit" fill-opacity="0.4"/>
<rect x="538.09" y="497.50" width="2.50" height="2.50" fill="inherit" fill-opacity="0.4"/>
<rect x="525.09" y="483.00" width="17.00" height="1.50" fill="inherit" fill-opacity="0.45"/>
<rect x="526.09" y="504.00" width="16.00" height="1.50" fill="inherit" fill-opacity="0.3"/>
<rect x="529.69" y="506.00" width="3.70" height="40.00" fill="inherit" />
<rect x="533.39" y="506.00" width="5.30" height="40.00" fill="inherit" fill-opacity="0.5"/>
<rect x="538.69" y="506.00" width="2.70" height="40.00" fill="inherit" />
<rect x="525.09" y="506.00" width="1.50" height="40.00" fill="inherit" fill-opacity="0.35"/>
<path d="M526.09,552.6 L528.59,548 L542.09,548 L542.09,552.6 Z" fill="inherit" stroke="none" stroke-width="1" />
<circle cx="547.09" cy="555.00" r="1.20" fill="inherit" />
<path d="M556.6,73 L559.6,73 L562.6,77.8 L560.1,77.8 Z" fill="inherit" stroke="none" stroke-width="1" />
<rect x="568.80" y="73" width="4" height="5" rx="1.6" fill="inherit"/>
<circle cx="565.30" cy="75.00" r="1.00" fill="inherit" />
<rect x="575.00" y="75.70" width="9.00" height="55.30" fill="inherit" />
<rect x="575.00" y="133.60" width="9.00" height="37.20" fill="inherit" />
<rect x="557.10" y="80.00" width="2.50" height="91.00" fill="inherit" fill-opacity="0.35"/>
<circle cx="565.60" cy="95.40" r="6.60" fill="inherit" />
<ellipse cx="565.60" cy="83.70" rx="3.30" ry="2.00" fill="inherit" />
<circle cx="572.40" cy="88.00" r="1.30" fill="inherit" />
<path d="M570.60,80 l3,-2 l0,4 Z" fill="inherit" fill-opacity="0.7"/>
<circle cx="565.60" cy="120.40" r="6.60" fill="inherit" />
<ellipse cx="565.60" cy="108.70" rx="3.30" ry="2.00" fill="inherit" />
<circle cx="572.40" cy="113.00" r="1.30" fill="inherit" />
<path d="M570.60,105 l3,-2 l0,4 Z" fill="inherit" fill-opacity="0.7"/>
<circle cx="565.60" cy="145.40" r="6.60" fill="inherit" />
<ellipse cx="565.60" cy="133.70" rx="3.30" ry="2.00" fill="inherit" />
<circle cx="572.40" cy="138.00" r="1.30" fill="inherit" />
<path d="M570.60,130 l3,-2 l0,4 Z" fill="inherit" fill-opacity="0.7"/>
<circle cx="565.60" cy="170.40" r="6.60" fill="inherit" />
<ellipse cx="565.60" cy="158.70" rx="3.30" ry="2.00" fill="inherit" />
<circle cx="572.40" cy="163.00" r="1.30" fill="inherit" />
<path d="M570.60,155 l3,-2 l0,4 Z" fill="inherit" fill-opacity="0.7"/>
<rect x="581.10" y="175.50" width="2.50" height="10.50" fill="inherit" />
<rect x="551.60" y="175.50" width="5.00" height="10.50" fill="inherit" fill-opacity="0.22"/>
<rect x="562.60" y="181.5" width="6" height="4" rx="2" fill="inherit"/>
<rect x="572.10" y="176.00" width="8.00" height="10.00" fill="inherit" fill-opacity="0.15"/>
<path d="M560.3000000000001,188.6 L565.6,188.6 A6.4,6.4 0 0 1 565.6,201.4 L560.3000000000001,201.4 Z" fill="inherit" stroke="none" stroke-width="1" />
<rect x="561.80" y="205.80" width="6.8" height="4.2" rx="2" fill="inherit"/>
<path d="M572.60,201 l3.5,-3 l0,6.5 Z M572.60,211 l3.5,-3 l0,6.5 Z" fill="inherit" fill-opacity="0.7"/>
<path d="M560.3000000000001,213.6 L565.6,213.6 A6.4,6.4 0 0 1 565.6,226.4 L560.3000000000001,226.4 Z" fill="inherit" stroke="none" stroke-width="1" />
<rect x="561.80" y="230.80" width="6.8" height="4.2" rx="2" fill="inherit"/>
<path d="M572.60,226 l3.5,-3 l0,6.5 Z M572.60,236 l3.5,-3 l0,6.5 Z" fill="inherit" fill-opacity="0.7"/>
<path d="M560.3000000000001,238.6 L565.6,238.6 A6.4,6.4 0 0 1 565.6,251.4 L560.3000000000001,251.4 Z" fill="inherit" stroke="none" stroke-width="1" />
<rect x="561.80" y="255.80" width="6.8" height="4.2" rx="2" fill="inherit"/>
<path d="M572.60,251 l3.5,-3 l0,6.5 Z M572.60,261 l3.5,-3 l0,6.5 Z" fill="inherit" fill-opacity="0.7"/>
<path d="M560.3000000000001,263.6 L565.6,263.6 A6.4,6.4 0 0 1 565.6,276.4 L560.3000000000001,276.4 Z" fill="inherit" stroke="none" stroke-width="1" />
<rect x="561.80" y="280.80" width="6.8" height="4.2" rx="2" fill="inherit"/>
<path d="M572.60,276 l3.5,-3 l0,6.5 Z M572.60,286 l3.5,-3 l0,6.5 Z" fill="inherit" fill-opacity="0.7"/>
<path d="M560.3000000000001,288.6 L565.6,288.6 A6.4,6.4 0 0 1 565.6,301.4 L560.3000000000001,301.4 Z" fill="inherit" stroke="none" stroke-width="1" />
<rect x="561.80" y="305.80" width="6.8" height="4.2" rx="2" fill="inherit"/>
<path d="M572.60,301 l3.5,-3 l0,6.5 Z M572.60,311 l3.5,-3 l0,6.5 Z" fill="inherit" fill-opacity="0.7"/>
<path d="M560.3000000000001,313.6 L565.6,313.6 A6.4,6.4 0 0 1 565.6,326.4 L560.3000000000001,326.4 Z" fill="inherit" stroke="none" stroke-width="1" />
<rect x="561.80" y="330.80" width="6.8" height="4.2" rx="2" fill="inherit"/>
<path d="M572.60,326 l3.5,-3 l0,6.5 Z M572.60,336 l3.5,-3 l0,6.5 Z" fill="inherit" fill-opacity="0.7"/>
<path d="M560.3000000000001,338.6 L565.6,338.6 A6.4,6.4 0 0 1 565.6,351.4 L560.3000000000001,351.4 Z" fill="inherit" stroke="none" stroke-width="1" />
<rect x="561.80" y="355.80" width="6.8" height="4.2" rx="2" fill="inherit"/>
<path d="M572.60,351 l3.5,-3 l0,6.5 Z M572.60,361 l3.5,-3 l0,6.5 Z" fill="inherit" fill-opacity="0.7"/>
<path d="M560.3000000000001,363.6 L565.6,363.6 A6.4,6.4 0 0 1 565.6,376.4 L560.3000000000001,376.4 Z" fill="inherit" stroke="none" stroke-width="1" />
<rect x="561.80" y="380.80" width="6.8" height="4.2" rx="2" fill="inherit"/>
<path d="M572.60,376 l3.5,-3 l0,6.5 Z M572.60,386 l3.5,-3 l0,6.5 Z" fill="inherit" fill-opacity="0.7"/>
<path d="M560.3000000000001,388.6 L565.6,388.6 A6.4,6.4 0 0 1 565.6,401.4 L560.3000000000001,401.4 Z" fill="inherit" stroke="none" stroke-width="1" />
<rect x="561.80" y="405.80" width="6.8" height="4.2" rx="2" fill="inherit"/>
<path d="M572.60,401 l3.5,-3 l0,6.5 Z M572.60,411 l3.5,-3 l0,6.5 Z" fill="inherit" fill-opacity="0.7"/>
<path d="M560.3000000000001,413.6 L565.6,413.6 A6.4,6.4 0 0 1 565.6,426.4 L560.3000000000001,426.4 Z" fill="inherit" stroke="none" stroke-width="1" />
<rect x="561.80" y="430.80" width="6.8" height="4.2" rx="2" fill="inherit"/>
<path d="M572.60,426 l3.5,-3 l0,6.5 Z M572.60,436 l3.5,-3 l0,6.5 Z" fill="inherit" fill-opacity="0.7"/>
<path d="M548.6,188.7 L556.6,188.7 L559.1,191 L559.1,436 L548.6,436 Z" fill="inherit" stroke="none" stroke-width="1" />
<circle cx="565.60" cy="444.60" r="6.60" fill="inherit" />
<path d="M572.60,450.6 l3.5,-3 l0,6.5 Z" fill="inherit" fill-opacity="0.7"/>
<circle cx="565.60" cy="469.60" r="6.60" fill="inherit" />
<path d="M572.60,475.6 l3.5,-3 l0,6.5 Z" fill="inherit" fill-opacity="0.7"/>
<rect x="561.80" y="455" width="6.8" height="4" rx="2" fill="inherit"/>
<rect x="551.60" y="438.00" width="6.00" height="14.00" fill="inherit" fill-opacity="0.18"/>
<rect x="575.60" y="455.30" width="8.40" height="37.20" fill="inherit" />
<rect x="575.60" y="495.00" width="8.40" height="55.00" fill="inherit" />
<rect x="561.60" y="492.00" width="3.00" height="2.50" fill="inherit" />
<rect x="561.60" y="497.50" width="3.00" height="2.50" fill="inherit" />
<rect x="568.60" y="492.00" width="2.50" height="2.50" fill="inherit" fill-opacity="0.4"/>
<rect x="568.60" y="497.50" width="2.50" height="2.50" fill="inherit" fill-opacity="0.4"/>
<rect x="555.60" y="483.00" width="17.00" height="1.50" fill="inherit" fill-opacity="0.45"/>
<rect x="556.60" y="504.00" width="16.00" height="1.50" fill="inherit" fill-opacity="0.3"/>
<rect x="560.20" y="506.00" width="3.70" height="40.00" fill="inherit" />
<rect x="563.90" y="506.00" width="5.30" height="40.00" fill="inherit" fill-opacity="0.5"/>
<rect x="569.20" y="506.00" width="2.70" height="40.00" fill="inherit" />
<rect x="555.60" y="506.00" width="1.50" height="40.00" fill="inherit" fill-opacity="0.35"/>
<path d="M556.6,552.6 L559.1,548 L572.6,548 L572.6,552.6 Z" fill="inherit" stroke="none" stroke-width="1" />
<circle cx="577.60" cy="555.00" r="1.20" fill="inherit" />
<path d="M587.11,73 L590.11,73 L593.11,77.8 L590.61,77.8 Z" fill="inherit" stroke="none" stroke-width="1" />
<rect x="599.31" y="73" width="4" height="5" rx="1.6" fill="inherit"/>
<circle cx="595.81" cy="75.00" r="1.00" fill="inherit" />
<rect x="605.51" y="75.70" width="9.00" height="55.30" fill="inherit" />
<rect x="605.51" y="133.60" width="9.00" height="37.20" fill="inherit" />
<rect x="587.61" y="80.00" width="2.50" height="91.00" fill="inherit" fill-opacity="0.35"/>
<circle cx="596.11" cy="95.40" r="6.60" fill="inherit" />
<ellipse cx="596.11" cy="83.70" rx="3.30" ry="2.00" fill="inherit" />
<circle cx="602.91" cy="88.00" r="1.30" fill="inherit" />
<path d="M601.11,80 l3,-2 l0,4 Z" fill="inherit" fill-opacity="0.7"/>
<circle cx="596.11" cy="120.40" r="6.60" fill="inherit" />
<ellipse cx="596.11" cy="108.70" rx="3.30" ry="2.00" fill="inherit" />
<circle cx="602.91" cy="113.00" r="1.30" fill="inherit" />
<path d="M601.11,105 l3,-2 l0,4 Z" fill="inherit" fill-opacity="0.7"/>
<circle cx="596.11" cy="145.40" r="6.60" fill="inherit" />
<ellipse cx="596.11" cy="133.70" rx="3.30" ry="2.00" fill="inherit" />
<circle cx="602.91" cy="138.00" r="1.30" fill="inherit" />
<path d="M601.11,130 l3,-2 l0,4 Z" fill="inherit" fill-opacity="0.7"/>
<circle cx="596.11" cy="170.40" r="6.60" fill="inherit" />
<ellipse cx="596.11" cy="158.70" rx="3.30" ry="2.00" fill="inherit" />
<circle cx="602.91" cy="163.00" r="1.30" fill="inherit" />
<path d="M601.11,155 l3,-2 l0,4 Z" fill="inherit" fill-opacity="0.7"/>
<rect x="611.61" y="175.50" width="2.50" height="10.50" fill="inherit" />
<rect x="582.11" y="175.50" width="5.00" height="10.50" fill="inherit" fill-opacity="0.22"/>
<rect x="593.11" y="181.5" width="6" height="4" rx="2" fill="inherit"/>
<rect x="602.61" y="176.00" width="8.00" height="10.00" fill="inherit" fill-opacity="0.15"/>
<path d="M590.8100000000001,188.6 L596.11,188.6 A6.4,6.4 0 0 1 596.11,201.4 L590.8100000000001,201.4 Z" fill="inherit" stroke="none" stroke-width="1" />
<rect x="592.31" y="205.80" width="6.8" height="4.2" rx="2" fill="inherit"/>
<path d="M603.11,201 l3.5,-3 l0,6.5 Z M603.11,211 l3.5,-3 l0,6.5 Z" fill="inherit" fill-opacity="0.7"/>
<path d="M590.8100000000001,213.6 L596.11,213.6 A6.4,6.4 0 0 1 596.11,226.4 L590.8100000000001,226.4 Z" fill="inherit" stroke="none" stroke-width="1" />
<rect x="592.31" y="230.80" width="6.8" height="4.2" rx="2" fill="inherit"/>
<path d="M603.11,226 l3.5,-3 l0,6.5 Z M603.11,236 l3.5,-3 l0,6.5 Z" fill="inherit" fill-opacity="0.7"/>
<path d="M590.8100000000001,238.6 L596.11,238.6 A6.4,6.4 0 0 1 596.11,251.4 L590.8100000000001,251.4 Z" fill="inherit" stroke="none" stroke-width="1" />
<rect x="592.31" y="255.80" width="6.8" height="4.2" rx="2" fill="inherit"/>
<path d="M603.11,251 l3.5,-3 l0,6.5 Z M603.11,261 l3.5,-3 l0,6.5 Z" fill="inherit" fill-opacity="0.7"/>
<path d="M590.8100000000001,263.6 L596.11,263.6 A6.4,6.4 0 0 1 596.11,276.4 L590.8100000000001,276.4 Z" fill="inherit" stroke="none" stroke-width="1" />
<rect x="592.31" y="280.80" width="6.8" height="4.2" rx="2" fill="inherit"/>
<path d="M603.11,276 l3.5,-3 l0,6.5 Z M603.11,286 l3.5,-3 l0,6.5 Z" fill="inherit" fill-opacity="0.7"/>
<path d="M590.8100000000001,288.6 L596.11,288.6 A6.4,6.4 0 0 1 596.11,301.4 L590.8100000000001,301.4 Z" fill="inherit" stroke="none" stroke-width="1" />
<rect x="592.31" y="305.80" width="6.8" height="4.2" rx="2" fill="inherit"/>
<path d="M603.11,301 l3.5,-3 l0,6.5 Z M603.11,311 l3.5,-3 l0,6.5 Z" fill="inherit" fill-opacity="0.7"/>
<path d="M590.8100000000001,313.6 L596.11,313.6 A6.4,6.4 0 0 1 596.11,326.4 L590.8100000000001,326.4 Z" fill="inherit" stroke="none" stroke-width="1" />
<rect x="592.31" y="330.80" width="6.8" height="4.2" rx="2" fill="inherit"/>
<path d="M603.11,326 l3.5,-3 l0,6.5 Z M603.11,336 l3.5,-3 l0,6.5 Z" fill="inherit" fill-opacity="0.7"/>
<path d="M590.8100000000001,338.6 L596.11,338.6 A6.4,6.4 0 0 1 596.11,351.4 L590.8100000000001,351.4 Z" fill="inherit" stroke="none" stroke-width="1" />
<rect x="592.31" y="355.80" width="6.8" height="4.2" rx="2" fill="inherit"/>
<path d="M603.11,351 l3.5,-3 l0,6.5 Z M603.11,361 l3.5,-3 l0,6.5 Z" fill="inherit" fill-opacity="0.7"/>
<path d="M590.8100000000001,363.6 L596.11,363.6 A6.4,6.4 0 0 1 596.11,376.4 L590.8100000000001,376.4 Z" fill="inherit" stroke="none" stroke-width="1" />
<rect x="592.31" y="380.80" width="6.8" height="4.2" rx="2" fill="inherit"/>
<path d="M603.11,376 l3.5,-3 l0,6.5 Z M603.11,386 l3.5,-3 l0,6.5 Z" fill="inherit" fill-opacity="0.7"/>
<path d="M590.8100000000001,388.6 L596.11,388.6 A6.4,6.4 0 0 1 596.11,401.4 L590.8100000000001,401.4 Z" fill="inherit" stroke="none" stroke-width="1" />
<rect x="592.31" y="405.80" width="6.8" height="4.2" rx="2" fill="inherit"/>
<path d="M603.11,401 l3.5,-3 l0,6.5 Z M603.11,411 l3.5,-3 l0,6.5 Z" fill="inherit" fill-opacity="0.7"/>
<path d="M590.8100000000001,413.6 L596.11,413.6 A6.4,6.4 0 0 1 596.11,426.4 L590.8100000000001,426.4 Z" fill="inherit" stroke="none" stroke-width="1" />
<rect x="592.31" y="430.80" width="6.8" height="4.2" rx="2" fill="inherit"/>
<path d="M603.11,426 l3.5,-3 l0,6.5 Z M603.11,436 l3.5,-3 l0,6.5 Z" fill="inherit" fill-opacity="0.7"/>
<path d="M579.11,188.7 L587.11,188.7 L589.61,191 L589.61,436 L579.11,436 Z" fill="inherit" stroke="none" stroke-width="1" />
<circle cx="596.11" cy="444.60" r="6.60" fill="inherit" />
<path d="M603.11,450.6 l3.5,-3 l0,6.5 Z" fill="inherit" fill-opacity="0.7"/>
<circle cx="596.11" cy="469.60" r="6.60" fill="inherit" />
<path d="M603.11,475.6 l3.5,-3 l0,6.5 Z" fill="inherit" fill-opacity="0.7"/>
<rect x="592.31" y="455" width="6.8" height="4" rx="2" fill="inherit"/>
<rect x="582.11" y="438.00" width="6.00" height="14.00" fill="inherit" fill-opacity="0.18"/>
<rect x="606.11" y="455.30" width="8.40" height="37.20" fill="inherit" />
<rect x="606.11" y="495.00" width="8.40" height="55.00" fill="inherit" />
<rect x="592.11" y="492.00" width="3.00" height="2.50" fill="inherit" />
<rect x="592.11" y="497.50" width="3.00" height="2.50" fill="inherit" />
<rect x="599.11" y="492.00" width="2.50" height="2.50" fill="inherit" fill-opacity="0.4"/>
<rect x="599.11" y="497.50" width="2.50" height="2.50" fill="inherit" fill-opacity="0.4"/>
<rect x="586.11" y="483.00" width="17.00" height="1.50" fill="inherit" fill-opacity="0.45"/>
<rect x="587.11" y="504.00" width="16.00" height="1.50" fill="inherit" fill-opacity="0.3"/>
<rect x="590.71" y="506.00" width="3.70" height="40.00" fill="inherit" />
<rect x="594.41" y="506.00" width="5.30" height="40.00" fill="inherit" fill-opacity="0.5"/>
<rect x="599.71" y="506.00" width="2.70" height="40.00" fill="inherit" />
<rect x="586.11" y="506.00" width="1.50" height="40.00" fill="inherit" fill-opacity="0.35"/>
<path d="M587.11,552.6 L589.61,548 L603.11,548 L603.11,552.6 Z" fill="inherit" stroke="none" stroke-width="1" />
<circle cx="608.11" cy="555.00" r="1.20" fill="inherit" />
<path d="M617.62,73 L620.62,73 L623.62,77.8 L621.12,77.8 Z" fill="inherit" stroke="none" stroke-width="1" />
<rect x="629.82" y="73" width="4" height="5" rx="1.6" fill="inherit"/>
<circle cx="626.32" cy="75.00" r="1.00" fill="inherit" />
<rect x="636.02" y="75.70" width="9.00" height="55.30" fill="inherit" />
<rect x="636.02" y="133.60" width="9.00" height="37.20" fill="inherit" />
<rect x="618.12" y="80.00" width="2.50" height="91.00" fill="inherit" fill-opacity="0.35"/>
<circle cx="626.62" cy="95.40" r="6.60" fill="inherit" />
<ellipse cx="626.62" cy="83.70" rx="3.30" ry="2.00" fill="inherit" />
<circle cx="633.42" cy="88.00" r="1.30" fill="inherit" />
<path d="M631.62,80 l3,-2 l0,4 Z" fill="inherit" fill-opacity="0.7"/>
<circle cx="626.62" cy="120.40" r="6.60" fill="inherit" />
<ellipse cx="626.62" cy="108.70" rx="3.30" ry="2.00" fill="inherit" />
<circle cx="633.42" cy="113.00" r="1.30" fill="inherit" />
<path d="M631.62,105 l3,-2 l0,4 Z" fill="inherit" fill-opacity="0.7"/>
<circle cx="626.62" cy="145.40" r="6.60" fill="inherit" />
<ellipse cx="626.62" cy="133.70" rx="3.30" ry="2.00" fill="inherit" />
<circle cx="633.42" cy="138.00" r="1.30" fill="inherit" />
<path d="M631.62,130 l3,-2 l0,4 Z" fill="inherit" fill-opacity="0.7"/>
<circle cx="626.62" cy="170.40" r="6.60" fill="inherit" />
<ellipse cx="626.62" cy="158.70" rx="3.30" ry="2.00" fill="inherit" />
<circle cx="633.42" cy="163.00" r="1.30" fill="inherit" />
<path d="M631.62,155 l3,-2 l0,4 Z" fill="inherit" fill-opacity="0.7"/>
<rect x="642.12" y="175.50" width="2.50" height="10.50" fill="inherit" />
<rect x="612.62" y="175.50" width="5.00" height="10.50" fill="inherit" fill-opacity="0.22"/>
<rect x="623.62" y="181.5" width="6" height="4" rx="2" fill="inherit"/>
<rect x="633.12" y="176.00" width="8.00" height="10.00" fill="inherit" fill-opacity="0.15"/>
<path d="M621.32,188.6 L626.62,188.6 A6.4,6.4 0 0 1 626.62,201.4 L621.32,201.4 Z" fill="inherit" stroke="none" stroke-width="1" />
<rect x="622.82" y="205.80" width="6.8" height="4.2" rx="2" fill="inherit"/>
<path d="M633.62,201 l3.5,-3 l0,6.5 Z M633.62,211 l3.5,-3 l0,6.5 Z" fill="inherit" fill-opacity="0.7"/>
<path d="M621.32,213.6 L626.62,213.6 A6.4,6.4 0 0 1 626.62,226.4 L621.32,226.4 Z" fill="inherit" stroke="none" stroke-width="1" />
<rect x="622.82" y="230.80" width="6.8" height="4.2" rx="2" fill="inherit"/>
<path d="M633.62,226 l3.5,-3 l0,6.5 Z M633.62,236 l3.5,-3 l0,6.5 Z" fill="inherit" fill-opacity="0.7"/>
<path d="M621.32,238.6 L626.62,238.6 A6.4,6.4 0 0 1 626.62,251.4 L621.32,251.4 Z" fill="inherit" stroke="none" stroke-width="1" />
<rect x="622.82" y="255.80" width="6.8" height="4.2" rx="2" fill="inherit"/>
<path d="M633.62,251 l3.5,-3 l0,6.5 Z M633.62,261 l3.5,-3 l0,6.5 Z" fill="inherit" fill-opacity="0.7"/>
<path d="M621.32,263.6 L626.62,263.6 A6.4,6.4 0 0 1 626.62,276.4 L621.32,276.4 Z" fill="inherit" stroke="none" stroke-width="1" />
<rect x="622.82" y="280.80" width="6.8" height="4.2" rx="2" fill="inherit"/>
<path d="M633.62,276 l3.5,-3 l0,6.5 Z M633.62,286 l3.5,-3 l0,6.5 Z" fill="inherit" fill-opacity="0.7"/>
<path d="M621.32,288.6 L626.62,288.6 A6.4,6.4 0 0 1 626.62,301.4 L621.32,301.4 Z" fill="inherit" stroke="none" stroke-width="1" />
<rect x="622.82" y="305.80" width="6.8" height="4.2" rx="2" fill="inherit"/>
<path d="M633.62,301 l3.5,-3 l0,6.5 Z M633.62,311 l3.5,-3 l0,6.5 Z" fill="inherit" fill-opacity="0.7"/>
<path d="M621.32,313.6 L626.62,313.6 A6.4,6.4 0 0 1 626.62,326.4 L621.32,326.4 Z" fill="inherit" stroke="none" stroke-width="1" />
<rect x="622.82" y="330.80" width="6.8" height="4.2" rx="2" fill="inherit"/>
<path d="M633.62,326 l3.5,-3 l0,6.5 Z M633.62,336 l3.5,-3 l0,6.5 Z" fill="inherit" fill-opacity="0.7"/>
<path d="M621.32,338.6 L626.62,338.6 A6.4,6.4 0 0 1 626.62,351.4 L621.32,351.4 Z" fill="inherit" stroke="none" stroke-width="1" />
<rect x="622.82" y="355.80" width="6.8" height="4.2" rx="2" fill="inherit"/>
<path d="M633.62,351 l3.5,-3 l0,6.5 Z M633.62,361 l3.5,-3 l0,6.5 Z" fill="inherit" fill-opacity="0.7"/>
<path d="M621.32,363.6 L626.62,363.6 A6.4,6.4 0 0 1 626.62,376.4 L621.32,376.4 Z" fill="inherit" stroke="none" stroke-width="1" />
<rect x="622.82" y="380.80" width="6.8" height="4.2" rx="2" fill="inherit"/>
<path d="M633.62,376 l3.5,-3 l0,6.5 Z M633.62,386 l3.5,-3 l0,6.5 Z" fill="inherit" fill-opacity="0.7"/>
<path d="M621.32,388.6 L626.62,388.6 A6.4,6.4 0 0 1 626.62,401.4 L621.32,401.4 Z" fill="inherit" stroke="none" stroke-width="1" />
<rect x="622.82" y="405.80" width="6.8" height="4.2" rx="2" fill="inherit"/>
<path d="M633.62,401 l3.5,-3 l0,6.5 Z M633.62,411 l3.5,-3 l0,6.5 Z" fill="inherit" fill-opacity="0.7"/>
<path d="M621.32,413.6 L626.62,413.6 A6.4,6.4 0 0 1 626.62,426.4 L621.32,426.4 Z" fill="inherit" stroke="none" stroke-width="1" />
<rect x="622.82" y="430.80" width="6.8" height="4.2" rx="2" fill="inherit"/>
<path d="M633.62,426 l3.5,-3 l0,6.5 Z M633.62,436 l3.5,-3 l0,6.5 Z" fill="inherit" fill-opacity="0.7"/>
<path d="M609.62,188.7 L617.62,188.7 L620.12,191 L620.12,436 L609.62,436 Z" fill="inherit" stroke="none" stroke-width="1" />
<circle cx="626.62" cy="444.60" r="6.60" fill="inherit" />
<path d="M633.62,450.6 l3.5,-3 l0,6.5 Z" fill="inherit" fill-opacity="0.7"/>
<circle cx="626.62" cy="469.60" r="6.60" fill="inherit" />
<path d="M633.62,475.6 l3.5,-3 l0,6.5 Z" fill="inherit" fill-opacity="0.7"/>
<rect x="622.82" y="455" width="6.8" height="4" rx="2" fill="inherit"/>
<rect x="612.62" y="438.00" width="6.00" height="14.00" fill="inherit" fill-opacity="0.18"/>
<rect x="636.62" y="455.30" width="8.40" height="37.20" fill="inherit" />
<rect x="636.62" y="495.00" width="8.40" height="55.00" fill="inherit" />
<rect x="622.62" y="492.00" width="3.00" height="2.50" fill="inherit" />
<rect x="622.62" y="497.50" width="3.00" height="2.50" fill="inherit" />
<rect x="629.62" y="492.00" width="2.50" height="2.50" fill="inherit" fill-opacity="0.4"/>
<rect x="629.62" y="497.50" width="2.50" height="2.50" fill="inherit" fill-opacity="0.4"/>
<rect x="616.62" y="483.00" width="17.00" height="1.50" fill="inherit" fill-opacity="0.45"/>
<rect x="617.62" y="504.00" width="16.00" height="1.50" fill="inherit" fill-opacity="0.3"/>
<rect x="621.22" y="506.00" width="3.70" height="40.00" fill="inherit" />
<rect x="624.92" y="506.00" width="5.30" height="40.00" fill="inherit" fill-opacity="0.5"/>
<rect x="630.22" y="506.00" width="2.70" height="40.00" fill="inherit" />
<rect x="616.62" y="506.00" width="1.50" height="40.00" fill="inherit" fill-opacity="0.35"/>
<path d="M617.62,552.6 L620.12,548 L633.62,548 L633.62,552.6 Z" fill="inherit" stroke="none" stroke-width="1" />
<circle cx="638.62" cy="555.00" r="1.20" fill="inherit" />
<path d="M648.13,73 L651.13,73 L654.13,77.8 L651.63,77.8 Z" fill="inherit" stroke="none" stroke-width="1" />
<rect x="660.33" y="73" width="4" height="5" rx="1.6" fill="inherit"/>
<circle cx="656.83" cy="75.00" r="1.00" fill="inherit" />
<rect x="666.53" y="75.70" width="9.00" height="55.30" fill="inherit" />
<rect x="666.53" y="133.60" width="9.00" height="37.20" fill="inherit" />
<rect x="648.63" y="80.00" width="2.50" height="91.00" fill="inherit" fill-opacity="0.35"/>
<circle cx="657.13" cy="95.40" r="6.60" fill="inherit" />
<ellipse cx="657.13" cy="83.70" rx="3.30" ry="2.00" fill="inherit" />
<circle cx="663.93" cy="88.00" r="1.30" fill="inherit" />
<path d="M662.13,80 l3,-2 l0,4 Z" fill="inherit" fill-opacity="0.7"/>
<circle cx="657.13" cy="120.40" r="6.60" fill="inherit" />
<ellipse cx="657.13" cy="108.70" rx="3.30" ry="2.00" fill="inherit" />
<circle cx="663.93" cy="113.00" r="1.30" fill="inherit" />
<path d="M662.13,105 l3,-2 l0,4 Z" fill="inherit" fill-opacity="0.7"/>
<circle cx="657.13" cy="145.40" r="6.60" fill="inherit" />
<ellipse cx="657.13" cy="133.70" rx="3.30" ry="2.00" fill="inherit" />
<circle cx="663.93" cy="138.00" r="1.30" fill="inherit" />
<path d="M662.13,130 l3,-2 l0,4 Z" fill="inherit" fill-opacity="0.7"/>
<circle cx="657.13" cy="170.40" r="6.60" fill="inherit" />
<ellipse cx="657.13" cy="158.70" rx="3.30" ry="2.00" fill="inherit" />
<circle cx="663.93" cy="163.00" r="1.30" fill="inherit" />
<path d="M662.13,155 l3,-2 l0,4 Z" fill="inherit" fill-opacity="0.7"/>
<rect x="672.63" y="175.50" width="2.50" height="10.50" fill="inherit" />
<rect x="643.13" y="175.50" width="5.00" height="10.50" fill="inherit" fill-opacity="0.22"/>
<rect x="654.13" y="181.5" width="6" height="4" rx="2" fill="inherit"/>
<rect x="663.63" y="176.00" width="8.00" height="10.00" fill="inherit" fill-opacity="0.15"/>
<path d="M651.83,188.6 L657.13,188.6 A6.4,6.4 0 0 1 657.13,201.4 L651.83,201.4 Z" fill="inherit" stroke="none" stroke-width="1" />
<rect x="653.33" y="205.80" width="6.8" height="4.2" rx="2" fill="inherit"/>
<path d="M664.13,201 l3.5,-3 l0,6.5 Z M664.13,211 l3.5,-3 l0,6.5 Z" fill="inherit" fill-opacity="0.7"/>
<path d="M651.83,213.6 L657.13,213.6 A6.4,6.4 0 0 1 657.13,226.4 L651.83,226.4 Z" fill="inherit" stroke="none" stroke-width="1" />
<rect x="653.33" y="230.80" width="6.8" height="4.2" rx="2" fill="inherit"/>
<path d="M664.13,226 l3.5,-3 l0,6.5 Z M664.13,236 l3.5,-3 l0,6.5 Z" fill="inherit" fill-opacity="0.7"/>
<path d="M651.83,238.6 L657.13,238.6 A6.4,6.4 0 0 1 657.13,251.4 L651.83,251.4 Z" fill="inherit" stroke="none" stroke-width="1" />
<rect x="653.33" y="255.80" width="6.8" height="4.2" rx="2" fill="inherit"/>
<path d="M664.13,251 l3.5,-3 l0,6.5 Z M664.13,261 l3.5,-3 l0,6.5 Z" fill="inherit" fill-opacity="0.7"/>
<path d="M651.83,263.6 L657.13,263.6 A6.4,6.4 0 0 1 657.13,276.4 L651.83,276.4 Z" fill="inherit" stroke="none" stroke-width="1" />
<rect x="653.33" y="280.80" width="6.8" height="4.2" rx="2" fill="inherit"/>
<path d="M664.13,276 l3.5,-3 l0,6.5 Z M664.13,286 l3.5,-3 l0,6.5 Z" fill="inherit" fill-opacity="0.7"/>
<path d="M651.83,288.6 L657.13,288.6 A6.4,6.4 0 0 1 657.13,301.4 L651.83,301.4 Z" fill="inherit" stroke="none" stroke-width="1" />
<rect x="653.33" y="305.80" width="6.8" height="4.2" rx="2" fill="inherit"/>
<path d="M664.13,301 l3.5,-3 l0,6.5 Z M664.13,311 l3.5,-3 l0,6.5 Z" fill="inherit" fill-opacity="0.7"/>
<path d="M651.83,313.6 L657.13,313.6 A6.4,6.4 0 0 1 657.13,326.4 L651.83,326.4 Z" fill="inherit" stroke="none" stroke-width="1" />
<rect x="653.33" y="330.80" width="6.8" height="4.2" rx="2" fill="inherit"/>
<path d="M664.13,326 l3.5,-3 l0,6.5 Z M664.13,336 l3.5,-3 l0,6.5 Z" fill="inherit" fill-opacity="0.7"/>
<path d="M651.83,338.6 L657.13,338.6 A6.4,6.4 0 0 1 657.13,351.4 L651.83,351.4 Z" fill="inherit" stroke="none" stroke-width="1" />
<rect x="653.33" y="355.80" width="6.8" height="4.2" rx="2" fill="inherit"/>
<path d="M664.13,351 l3.5,-3 l0,6.5 Z M664.13,361 l3.5,-3 l0,6.5 Z" fill="inherit" fill-opacity="0.7"/>
<path d="M651.83,363.6 L657.13,363.6 A6.4,6.4 0 0 1 657.13,376.4 L651.83,376.4 Z" fill="inherit" stroke="none" stroke-width="1" />
<rect x="653.33" y="380.80" width="6.8" height="4.2" rx="2" fill="inherit"/>
<path d="M664.13,376 l3.5,-3 l0,6.5 Z M664.13,386 l3.5,-3 l0,6.5 Z" fill="inherit" fill-opacity="0.7"/>
<path d="M651.83,388.6 L657.13,388.6 A6.4,6.4 0 0 1 657.13,401.4 L651.83,401.4 Z" fill="inherit" stroke="none" stroke-width="1" />
<rect x="653.33" y="405.80" width="6.8" height="4.2" rx="2" fill="inherit"/>
<path d="M664.13,401 l3.5,-3 l0,6.5 Z M664.13,411 l3.5,-3 l0,6.5 Z" fill="inherit" fill-opacity="0.7"/>
<path d="M651.83,413.6 L657.13,413.6 A6.4,6.4 0 0 1 657.13,426.4 L651.83,426.4 Z" fill="inherit" stroke="none" stroke-width="1" />
<rect x="653.33" y="430.80" width="6.8" height="4.2" rx="2" fill="inherit"/>
<path d="M664.13,426 l3.5,-3 l0,6.5 Z M664.13,436 l3.5,-3 l0,6.5 Z" fill="inherit" fill-opacity="0.7"/>
<path d="M640.13,188.7 L648.13,188.7 L650.63,191 L650.63,436 L640.13,436 Z" fill="inherit" stroke="none" stroke-width="1" />
<circle cx="657.13" cy="444.60" r="6.60" fill="inherit" />
<path d="M664.13,450.6 l3.5,-3 l0,6.5 Z" fill="inherit" fill-opacity="0.7"/>
<circle cx="657.13" cy="469.60" r="6.60" fill="inherit" />
<path d="M664.13,475.6 l3.5,-3 l0,6.5 Z" fill="inherit" fill-opacity="0.7"/>
<rect x="653.33" y="455" width="6.8" height="4" rx="2" fill="inherit"/>
<rect x="643.13" y="438.00" width="6.00" height="14.00" fill="inherit" fill-opacity="0.18"/>
<rect x="667.13" y="455.30" width="8.40" height="37.20" fill="inherit" />
<rect x="667.13" y="495.00" width="8.40" height="55.00" fill="inherit" />
<rect x="653.13" y="492.00" width="3.00" height="2.50" fill="inherit" />
<rect x="653.13" y="497.50" width="3.00" height="2.50" fill="inherit" />
<rect x="660.13" y="492.00" width="2.50" height="2.50" fill="inherit" fill-opacity="0.4"/>
<rect x="660.13" y="497.50" width="2.50" height="2.50" fill="inherit" fill-opacity="0.4"/>
<rect x="647.13" y="483.00" width="17.00" height="1.50" fill="inherit" fill-opacity="0.45"/>
<rect x="648.13" y="504.00" width="16.00" height="1.50" fill="inherit" fill-opacity="0.3"/>
<rect x="651.73" y="506.00" width="3.70" height="40.00" fill="inherit" />
<rect x="655.43" y="506.00" width="5.30" height="40.00" fill="inherit" fill-opacity="0.5"/>
<rect x="660.73" y="506.00" width="2.70" height="40.00" fill="inherit" />
<rect x="647.13" y="506.00" width="1.50" height="40.00" fill="inherit" fill-opacity="0.35"/>
<path d="M648.13,552.6 L650.63,548 L664.13,548 L664.13,552.6 Z" fill="inherit" stroke="none" stroke-width="1" />
<circle cx="669.13" cy="555.00" r="1.20" fill="inherit" />
<path d="M678.6400000000001,73 L681.6400000000001,73 L684.6400000000001,77.8 L682.1400000000001,77.8 Z" fill="inherit" stroke="none" stroke-width="1" />
<rect x="690.84" y="73" width="4" height="5" rx="1.6" fill="inherit"/>
<circle cx="687.34" cy="75.00" r="1.00" fill="inherit" />
<rect x="697.04" y="75.70" width="9.00" height="55.30" fill="inherit" />
<rect x="697.04" y="133.60" width="9.00" height="37.20" fill="inherit" />
<rect x="679.14" y="80.00" width="2.50" height="91.00" fill="inherit" fill-opacity="0.35"/>
<circle cx="687.64" cy="95.40" r="6.60" fill="inherit" />
<ellipse cx="687.64" cy="83.70" rx="3.30" ry="2.00" fill="inherit" />
<circle cx="694.44" cy="88.00" r="1.30" fill="inherit" />
<path d="M692.64,80 l3,-2 l0,4 Z" fill="inherit" fill-opacity="0.7"/>
<circle cx="687.64" cy="120.40" r="6.60" fill="inherit" />
<ellipse cx="687.64" cy="108.70" rx="3.30" ry="2.00" fill="inherit" />
<circle cx="694.44" cy="113.00" r="1.30" fill="inherit" />
<path d="M692.64,105 l3,-2 l0,4 Z" fill="inherit" fill-opacity="0.7"/>
<circle cx="687.64" cy="145.40" r="6.60" fill="inherit" />
<ellipse cx="687.64" cy="133.70" rx="3.30" ry="2.00" fill="inherit" />
<circle cx="694.44" cy="138.00" r="1.30" fill="inherit" />
<path d="M692.64,130 l3,-2 l0,4 Z" fill="inherit" fill-opacity="0.7"/>
<circle cx="687.64" cy="170.40" r="6.60" fill="inherit" />
<ellipse cx="687.64" cy="158.70" rx="3.30" ry="2.00" fill="inherit" />
<circle cx="694.44" cy="163.00" r="1.30" fill="inherit" />
<path d="M692.64,155 l3,-2 l0,4 Z" fill="inherit" fill-opacity="0.7"/>
<rect x="703.14" y="175.50" width="2.50" height="10.50" fill="inherit" />
<rect x="673.64" y="175.50" width="5.00" height="10.50" fill="inherit" fill-opacity="0.22"/>
<rect x="684.64" y="181.5" width="6" height="4" rx="2" fill="inherit"/>
<rect x="694.14" y="176.00" width="8.00" height="10.00" fill="inherit" fill-opacity="0.15"/>
<path d="M682.3400000000001,188.6 L687.6400000000001,188.6 A6.4,6.4 0 0 1 687.6400000000001,201.4 L682.3400000000001,201.4 Z" fill="inherit" stroke="none" stroke-width="1" />
<rect x="683.84" y="205.80" width="6.8" height="4.2" rx="2" fill="inherit"/>
<path d="M694.64,201 l3.5,-3 l0,6.5 Z M694.64,211 l3.5,-3 l0,6.5 Z" fill="inherit" fill-opacity="0.7"/>
<path d="M682.3400000000001,213.6 L687.6400000000001,213.6 A6.4,6.4 0 0 1 687.6400000000001,226.4 L682.3400000000001,226.4 Z" fill="inherit" stroke="none" stroke-width="1" />
<rect x="683.84" y="230.80" width="6.8" height="4.2" rx="2" fill="inherit"/>
<path d="M694.64,226 l3.5,-3 l0,6.5 Z M694.64,236 l3.5,-3 l0,6.5 Z" fill="inherit" fill-opacity="0.7"/>
<path d="M682.3400000000001,238.6 L687.6400000000001,238.6 A6.4,6.4 0 0 1 687.6400000000001,251.4 L682.3400000000001,251.4 Z" fill="inherit" stroke="none" stroke-width="1" />
<rect x="683.84" y="255.80" width="6.8" height="4.2" rx="2" fill="inherit"/>
<path d="M694.64,251 l3.5,-3 l0,6.5 Z M694.64,261 l3.5,-3 l0,6.5 Z" fill="inherit" fill-opacity="0.7"/>
<path d="M682.3400000000001,263.6 L687.6400000000001,263.6 A6.4,6.4 0 0 1 687.6400000000001,276.4 L682.3400000000001,276.4 Z" fill="inherit" stroke="none" stroke-width="1" />
<rect x="683.84" y="280.80" width="6.8" height="4.2" rx="2" fill="inherit"/>
<path d="M694.64,276 l3.5,-3 l0,6.5 Z M694.64,286 l3.5,-3 l0,6.5 Z" fill="inherit" fill-opacity="0.7"/>
<path d="M682.3400000000001,288.6 L687.6400000000001,288.6 A6.4,6.4 0 0 1 687.6400000000001,301.4 L682.3400000000001,301.4 Z" fill="inherit" stroke="none" stroke-width="1" />
<rect x="683.84" y="305.80" width="6.8" height="4.2" rx="2" fill="inherit"/>
<path d="M694.64,301 l3.5,-3 l0,6.5 Z M694.64,311 l3.5,-3 l0,6.5 Z" fill="inherit" fill-opacity="0.7"/>
<path d="M682.3400000000001,313.6 L687.6400000000001,313.6 A6.4,6.4 0 0 1 687.6400000000001,326.4 L682.3400000000001,326.4 Z" fill="inherit" stroke="none" stroke-width="1" />
<rect x="683.84" y="330.80" width="6.8" height="4.2" rx="2" fill="inherit"/>
<path d="M694.64,326 l3.5,-3 l0,6.5 Z M694.64,336 l3.5,-3 l0,6.5 Z" fill="inherit" fill-opacity="0.7"/>
<path d="M682.3400000000001,338.6 L687.6400000000001,338.6 A6.4,6.4 0 0 1 687.6400000000001,351.4 L682.3400000000001,351.4 Z" fill="inherit" stroke="none" stroke-width="1" />
<rect x="683.84" y="355.80" width="6.8" height="4.2" rx="2" fill="inherit"/>
<path d="M694.64,351 l3.5,-3 l0,6.5 Z M694.64,361 l3.5,-3 l0,6.5 Z" fill="inherit" fill-opacity="0.7"/>
<path d="M682.3400000000001,363.6 L687.6400000000001,363.6 A6.4,6.4 0 0 1 687.6400000000001,376.4 L682.3400000000001,376.4 Z" fill="inherit" stroke="none" stroke-width="1" />
<rect x="683.84" y="380.80" width="6.8" height="4.2" rx="2" fill="inherit"/>
<path d="M694.64,376 l3.5,-3 l0,6.5 Z M694.64,386 l3.5,-3 l0,6.5 Z" fill="inherit" fill-opacity="0.7"/>
<path d="M682.3400000000001,388.6 L687.6400000000001,388.6 A6.4,6.4 0 0 1 687.6400000000001,401.4 L682.3400000000001,401.4 Z" fill="inherit" stroke="none" stroke-width="1" />
<rect x="683.84" y="405.80" width="6.8" height="4.2" rx="2" fill="inherit"/>
<path d="M694.64,401 l3.5,-3 l0,6.5 Z M694.64,411 l3.5,-3 l0,6.5 Z" fill="inherit" fill-opacity="0.7"/>
<path d="M682.3400000000001,413.6 L687.6400000000001,413.6 A6.4,6.4 0 0 1 687.6400000000001,426.4 L682.3400000000001,426.4 Z" fill="inherit" stroke="none" stroke-width="1" />
<rect x="683.84" y="430.80" width="6.8" height="4.2" rx="2" fill="inherit"/>
<path d="M694.64,426 l3.5,-3 l0,6.5 Z M694.64,436 l3.5,-3 l0,6.5 Z" fill="inherit" fill-opacity="0.7"/>
<path d="M670.6400000000001,188.7 L678.6400000000001,188.7 L681.1400000000001,191 L681.1400000000001,436 L670.6400000000001,436 Z" fill="inherit" stroke="none" stroke-width="1" />
<circle cx="687.64" cy="444.60" r="6.60" fill="inherit" />
<path d="M694.64,450.6 l3.5,-3 l0,6.5 Z" fill="inherit" fill-opacity="0.7"/>
<circle cx="687.64" cy="469.60" r="6.60" fill="inherit" />
<path d="M694.64,475.6 l3.5,-3 l0,6.5 Z" fill="inherit" fill-opacity="0.7"/>
<rect x="683.84" y="455" width="6.8" height="4" rx="2" fill="inherit"/>
<rect x="673.64" y="438.00" width="6.00" height="14.00" fill="inherit" fill-opacity="0.18"/>
<rect x="697.64" y="455.30" width="8.40" height="37.20" fill="inherit" />
<rect x="697.64" y="495.00" width="8.40" height="55.00" fill="inherit" />
<rect x="683.64" y="492.00" width="3.00" height="2.50" fill="inherit" />
<rect x="683.64" y="497.50" width="3.00" height="2.50" fill="inherit" />
<rect x="690.64" y="492.00" width="2.50" height="2.50" fill="inherit" fill-opacity="0.4"/>
<rect x="690.64" y="497.50" width="2.50" height="2.50" fill="inherit" fill-opacity="0.4"/>
<rect x="677.64" y="483.00" width="17.00" height="1.50" fill="inherit" fill-opacity="0.45"/>
<rect x="678.64" y="504.00" width="16.00" height="1.50" fill="inherit" fill-opacity="0.3"/>
<rect x="682.24" y="506.00" width="3.70" height="40.00" fill="inherit" />
<rect x="685.94" y="506.00" width="5.30" height="40.00" fill="inherit" fill-opacity="0.5"/>
<rect x="691.24" y="506.00" width="2.70" height="40.00" fill="inherit" />
<rect x="677.64" y="506.00" width="1.50" height="40.00" fill="inherit" fill-opacity="0.35"/>
<path d="M678.6400000000001,552.6 L681.1400000000001,548 L694.6400000000001,548 L694.6400000000001,552.6 Z" fill="inherit" stroke="none" stroke-width="1" />
<circle cx="699.64" cy="555.00" r="1.20" fill="inherit" />
<path d="M709.1500000000001,73 L712.1500000000001,73 L715.1500000000001,77.8 L712.6500000000001,77.8 Z" fill="inherit" stroke="none" stroke-width="1" />
<rect x="721.35" y="73" width="4" height="5" rx="1.6" fill="inherit"/>
<circle cx="717.85" cy="75.00" r="1.00" fill="inherit" />
<rect x="709.65" y="80.00" width="2.50" height="91.00" fill="inherit" fill-opacity="0.35"/>
<circle cx="718.15" cy="95.40" r="6.60" fill="inherit" />
<ellipse cx="718.15" cy="83.70" rx="3.30" ry="2.00" fill="inherit" />
<circle cx="724.95" cy="88.00" r="1.30" fill="inherit" />
<path d="M723.15,80 l3,-2 l0,4 Z" fill="inherit" fill-opacity="0.7"/>
<circle cx="718.15" cy="120.40" r="6.60" fill="inherit" />
<ellipse cx="718.15" cy="108.70" rx="3.30" ry="2.00" fill="inherit" />
<circle cx="724.95" cy="113.00" r="1.30" fill="inherit" />
<path d="M723.15,105 l3,-2 l0,4 Z" fill="inherit" fill-opacity="0.7"/>
<circle cx="718.15" cy="145.40" r="6.60" fill="inherit" />
<ellipse cx="718.15" cy="133.70" rx="3.30" ry="2.00" fill="inherit" />
<circle cx="724.95" cy="138.00" r="1.30" fill="inherit" />
<path d="M723.15,130 l3,-2 l0,4 Z" fill="inherit" fill-opacity="0.7"/>
<circle cx="718.15" cy="170.40" r="6.60" fill="inherit" />
<ellipse cx="718.15" cy="158.70" rx="3.30" ry="2.00" fill="inherit" />
<circle cx="724.95" cy="163.00" r="1.30" fill="inherit" />
<path d="M723.15,155 l3,-2 l0,4 Z" fill="inherit" fill-opacity="0.7"/>
<rect x="733.65" y="175.50" width="2.50" height="10.50" fill="inherit" />
<rect x="704.15" y="175.50" width="5.00" height="10.50" fill="inherit" fill-opacity="0.22"/>
<rect x="715.15" y="181.5" width="6" height="4" rx="2" fill="inherit"/>
<rect x="724.65" y="176.00" width="8.00" height="10.00" fill="inherit" fill-opacity="0.15"/>
<path d="M712.8500000000001,188.6 L718.1500000000001,188.6 A6.4,6.4 0 0 1 718.1500000000001,201.4 L712.8500000000001,201.4 Z" fill="inherit" stroke="none" stroke-width="1" />
<rect x="714.35" y="205.80" width="6.8" height="4.2" rx="2" fill="inherit"/>
<path d="M725.15,201 l3.5,-3 l0,6.5 Z M725.15,211 l3.5,-3 l0,6.5 Z" fill="inherit" fill-opacity="0.7"/>
<path d="M712.8500000000001,213.6 L718.1500000000001,213.6 A6.4,6.4 0 0 1 718.1500000000001,226.4 L712.8500000000001,226.4 Z" fill="inherit" stroke="none" stroke-width="1" />
<rect x="714.35" y="230.80" width="6.8" height="4.2" rx="2" fill="inherit"/>
<path d="M725.15,226 l3.5,-3 l0,6.5 Z M725.15,236 l3.5,-3 l0,6.5 Z" fill="inherit" fill-opacity="0.7"/>
<path d="M712.8500000000001,238.6 L718.1500000000001,238.6 A6.4,6.4 0 0 1 718.1500000000001,251.4 L712.8500000000001,251.4 Z" fill="inherit" stroke="none" stroke-width="1" />
<rect x="714.35" y="255.80" width="6.8" height="4.2" rx="2" fill="inherit"/>
<path d="M725.15,251 l3.5,-3 l0,6.5 Z M725.15,261 l3.5,-3 l0,6.5 Z" fill="inherit" fill-opacity="0.7"/>
<path d="M712.8500000000001,263.6 L718.1500000000001,263.6 A6.4,6.4 0 0 1 718.1500000000001,276.4 L712.8500000000001,276.4 Z" fill="inherit" stroke="none" stroke-width="1" />
<rect x="714.35" y="280.80" width="6.8" height="4.2" rx="2" fill="inherit"/>
<path d="M725.15,276 l3.5,-3 l0,6.5 Z M725.15,286 l3.5,-3 l0,6.5 Z" fill="inherit" fill-opacity="0.7"/>
<path d="M712.8500000000001,288.6 L718.1500000000001,288.6 A6.4,6.4 0 0 1 718.1500000000001,301.4 L712.8500000000001,301.4 Z" fill="inherit" stroke="none" stroke-width="1" />
<rect x="714.35" y="305.80" width="6.8" height="4.2" rx="2" fill="inherit"/>
<path d="M725.15,301 l3.5,-3 l0,6.5 Z M725.15,311 l3.5,-3 l0,6.5 Z" fill="inherit" fill-opacity="0.7"/>
<path d="M712.8500000000001,313.6 L718.1500000000001,313.6 A6.4,6.4 0 0 1 718.1500000000001,326.4 L712.8500000000001,326.4 Z" fill="inherit" stroke="none" stroke-width="1" />
<rect x="714.35" y="330.80" width="6.8" height="4.2" rx="2" fill="inherit"/>
<path d="M725.15,326 l3.5,-3 l0,6.5 Z M725.15,336 l3.5,-3 l0,6.5 Z" fill="inherit" fill-opacity="0.7"/>
<path d="M712.8500000000001,338.6 L718.1500000000001,338.6 A6.4,6.4 0 0 1 718.1500000000001,351.4 L712.8500000000001,351.4 Z" fill="inherit" stroke="none" stroke-width="1" />
<rect x="714.35" y="355.80" width="6.8" height="4.2" rx="2" fill="inherit"/>
<path d="M725.15,351 l3.5,-3 l0,6.5 Z M725.15,361 l3.5,-3 l0,6.5 Z" fill="inherit" fill-opacity="0.7"/>
<path d="M712.8500000000001,363.6 L718.1500000000001,363.6 A6.4,6.4 0 0 1 718.1500000000001,376.4 L712.8500000000001,376.4 Z" fill="inherit" stroke="none" stroke-width="1" />
<rect x="714.35" y="380.80" width="6.8" height="4.2" rx="2" fill="inherit"/>
<path d="M725.15,376 l3.5,-3 l0,6.5 Z M725.15,386 l3.5,-3 l0,6.5 Z" fill="inherit" fill-opacity="0.7"/>
<path d="M712.8500000000001,388.6 L718.1500000000001,388.6 A6.4,6.4 0 0 1 718.1500000000001,401.4 L712.8500000000001,401.4 Z" fill="inherit" stroke="none" stroke-width="1" />
<rect x="714.35" y="405.80" width="6.8" height="4.2" rx="2" fill="inherit"/>
<path d="M725.15,401 l3.5,-3 l0,6.5 Z M725.15,411 l3.5,-3 l0,6.5 Z" fill="inherit" fill-opacity="0.7"/>
<path d="M712.8500000000001,413.6 L718.1500000000001,413.6 A6.4,6.4 0 0 1 718.1500000000001,426.4 L712.8500000000001,426.4 Z" fill="inherit" stroke="none" stroke-width="1" />
<rect x="714.35" y="430.80" width="6.8" height="4.2" rx="2" fill="inherit"/>
<path d="M725.15,426 l3.5,-3 l0,6.5 Z M725.15,436 l3.5,-3 l0,6.5 Z" fill="inherit" fill-opacity="0.7"/>
<path d="M701.1500000000001,188.7 L709.1500000000001,188.7 L711.6500000000001,191 L711.6500000000001,436 L701.1500000000001,436 Z" fill="inherit" stroke="none" stroke-width="1" />
<circle cx="718.15" cy="444.60" r="6.60" fill="inherit" />
<path d="M725.15,450.6 l3.5,-3 l0,6.5 Z" fill="inherit" fill-opacity="0.7"/>
<circle cx="718.15" cy="469.60" r="6.60" fill="inherit" />
<path d="M725.15,475.6 l3.5,-3 l0,6.5 Z" fill="inherit" fill-opacity="0.7"/>
<rect x="714.35" y="455" width="6.8" height="4" rx="2" fill="inherit"/>
<rect x="704.15" y="438.00" width="6.00" height="14.00" fill="inherit" fill-opacity="0.18"/>
<rect x="714.15" y="492.00" width="3.00" height="2.50" fill="inherit" />
<rect x="714.15" y="497.50" width="3.00" height="2.50" fill="inherit" />
<rect x="721.15" y="492.00" width="2.50" height="2.50" fill="inherit" fill-opacity="0.4"/>
<rect x="721.15" y="497.50" width="2.50" height="2.50" fill="inherit" fill-opacity="0.4"/>
<rect x="708.15" y="483.00" width="17.00" height="1.50" fill="inherit" fill-opacity="0.45"/>
<rect x="709.15" y="504.00" width="16.00" height="1.50" fill="inherit" fill-opacity="0.3"/>
<rect x="712.75" y="506.00" width="3.70" height="40.00" fill="inherit" />
<rect x="716.45" y="506.00" width="5.30" height="40.00" fill="inherit" fill-opacity="0.5"/>
<rect x="721.75" y="506.00" width="2.70" height="40.00" fill="inherit" />
<rect x="708.15" y="506.00" width="1.50" height="40.00" fill="inherit" fill-opacity="0.35"/>
<path d="M709.1500000000001,552.6 L711.6500000000001,548 L725.1500000000001,548 L725.1500000000001,552.6 Z" fill="inherit" stroke="none" stroke-width="1" />
<circle cx="730.15" cy="555.00" r="1.20" fill="inherit" />
</g>
<use href="#upc" fill="#ffffff" clip-path="url(#clipUo)"/>
<use href="#upc" fill="#99ffcc" clip-path="url(#clipU)"/>
<use href="#upc" fill="#ff0000" clip-path="url(#clipUr)"/>
<rect x="734.50" y="420.50" width="10.50" height="1.50" fill="#000000" />
<rect x="736.00" y="423.50" width="7.50" height="28.50" fill="#ffffff" />
<rect x="734.50" y="452.00" width="10.50" height="33.00" fill="#000000" />
<rect x="736.00" y="455.00" width="4.00" height="5.00" fill="#ffffff" />
<rect x="736.00" y="470.00" width="4.00" height="10.00" fill="#ffffff" />
<path d="M724,486 L741,486 L741,492 L736,492 L736,498 L741,498 L741,548 L724,548 L724,508 L730,508 L730,500 L724,500 Z" fill="#fff"/>
<rect x="117.00" y="553.70" width="625.00" height="2.60" fill="#000000" />
<rect x="117.00" y="556.30" width="629.00" height="6.90" fill="#ffffff" />
<rect x="100.00" y="563.20" width="646.00" height="2.10" fill="#000000" />
<rect x="111.00" y="565.30" width="635.00" height="3.70" fill="#ffffff" />
<rect x="111.00" y="569.00" width="635.00" height="2.70" fill="#000000" />
<rect x="101.2" y="564.5" width="8.8" height="77.5" fill="#fff" stroke="#000" stroke-width="1.8"/>
<rect x="111.00" y="571.70" width="635.00" height="41.80" fill="#000000" />
<rect x="111.00" y="572.00" width="259.00" height="2.90" fill="#999" />
<rect x="493.00" y="572.00" width="172.00" height="2.90" fill="#999" />
<rect x="370.30" y="570.00" width="122.70" height="3.80" fill="#ffffff" />
<rect x="680.00" y="570.00" width="66.00" height="15.50" fill="#ffffff" />
<rect x="117.80" y="574.90" width="64.90" height="11.10" fill="#ffffff" />
<circle cx="116.00" cy="581.00" r="4.60" fill="#000000" />
<rect x="122.60" y="593.00" width="7.40" height="4.00" fill="#ffffff" />
<rect x="133.80" y="593.00" width="19.60" height="4.00" fill="#ffffff" />
<rect x="133.80" y="597.00" width="19.60" height="4.00" fill="#888" />
<rect x="167.00" y="596.50" width="15.00" height="3.00" fill="#ffffff" />
<rect x="116.30" y="603.60" width="37.10" height="3.20" fill="#ffffff" />
<rect x="162.50" y="603.60" width="17.50" height="6.40" fill="#ffffff" />
<rect x="193.80" y="605.50" width="6.40" height="2.00" fill="#ccc" />
<rect x="185.30" y="573.80" width="8.00" height="25.50" fill="#ffffff" />
<rect x="197.5" y="577.3" width="114.5" height="17.5" fill="#ddd" stroke="#000" stroke-width="1.4"/>
<rect x="198.50" y="578.60" width="54.30" height="14.40" fill="#ffffff" />
<rect x="256.00" y="578.60" width="52.60" height="14.40" fill="#ffffff" />
<rect x="196.50" y="594.00" width="114.50" height="2.70" fill="#aaa" />
<rect x="313.40" y="576.00" width="4.20" height="21.00" fill="#000000" />
<rect x="319.30" y="582.30" width="11.70" height="10.70" fill="#ffffff" />
<rect x="340.00" y="582.30" width="10.60" height="10.70" fill="#ffffff" />
<rect x="317.00" y="579.00" width="2.00" height="17.00" fill="#666" />
<rect x="335.00" y="579.00" width="2.00" height="17.00" fill="#666" />
<rect x="353.00" y="579.00" width="2.00" height="17.00" fill="#666" />
<rect x="357.50" y="573.80" width="12.80" height="25.00" fill="#ffffff" />
<rect x="373.00" y="578.60" width="54.60" height="20.20" fill="#ffffff" />
<rect x="388.30" y="578.60" width="1.30" height="9.40" fill="#000000" />
<path d="M388.3,586.5 L394.3,592.4 L388.3,598.3 L382.3,592.4 Z" fill="#fff" stroke="#000" stroke-width="2"/>
<rect x="378.80" y="590.80" width="2.20" height="7.50" fill="#777" />
<rect x="430.80" y="578.60" width="4.20" height="18.40" fill="#ffffff" />
<rect x="430.30" y="578.60" width="38.30" height="22.80" fill="#ffffff" />
<rect x="439.8" y="589.7" width="14" height="11.7" fill="#fff" stroke="#000" stroke-width="2"/>
<rect x="461.70" y="594.00" width="4.70" height="16.00" fill="#000000" />
<rect x="471.80" y="578.60" width="19.10" height="20.70" fill="#ffffff" />
<rect x="494.00" y="573.80" width="7.50" height="25.50" fill="#ffffff" />
<rect x="505.8" y="577.3" width="115" height="17" fill="#ddd" stroke="#000" stroke-width="1.4"/>
<rect x="507.50" y="578.60" width="54.10" height="13.80" fill="#ffffff" />
<rect x="564.20" y="578.60" width="53.20" height="13.80" fill="#ffffff" />
<rect x="505.00" y="593.50" width="115.00" height="3.70" fill="#aaa" />
<rect x="622.00" y="576.00" width="4.00" height="21.00" fill="#000000" />
<rect x="627.50" y="581.30" width="11.60" height="11.70" fill="#ffffff" />
<rect x="647.60" y="581.30" width="12.30" height="11.70" fill="#ffffff" />
<rect x="624.50" y="579.00" width="2.00" height="17.00" fill="#666" />
<rect x="643.00" y="579.00" width="2.00" height="17.00" fill="#666" />
<rect x="661.00" y="579.00" width="2.00" height="17.00" fill="#666" />
<rect x="665.20" y="573.80" width="14.80" height="25.50" fill="#ffffff" />
<rect x="730.00" y="585.50" width="16.00" height="14.40" fill="#ffffff" />
<rect x="681.00" y="587.00" width="3.00" height="11.00" fill="#888" />
<circle cx="696.50" cy="592.40" r="4.80" fill="#ffffff" stroke="#000" stroke-width="1.8"/>
<rect x="704.50" y="589.80" width="23.40" height="7.40" fill="#ffffff" />
<circle cx="740.60" cy="580.70" r="6.30" fill="#000000" />
<line x1="740.00" y1="581.00" x2="757.00" y2="594.00" stroke="#000000" stroke-width="1.5" />
<rect x="355.4" y="605.2" width="6.40" height="2.60" rx="1.5" fill="#ffffff"/>
<rect x="365" y="604.5" width="33.00" height="2.50" rx="1.5" fill="#666"/>
<rect x="401" y="605" width="2.00" height="2.00" rx="1.5" fill="#ffffff"/>
<rect x="407.5" y="604" width="17.00" height="5.40" rx="1.5" fill="#ffffff"/>
<rect x="433.5" y="603.6" width="27.50" height="2.10" rx="1.5" fill="#ffffff"/>
<rect x="471.8" y="603.6" width="15.90" height="6.40" rx="1.5" fill="#ffffff"/>
<rect x="501.5" y="605.5" width="6.50" height="2.00" rx="1.5" fill="#ffffff"/>
<rect x="664" y="605.5" width="6.50" height="2.00" rx="1.5" fill="#ffffff"/>
<rect x="715" y="604" width="19.30" height="6.00" rx="1.5" fill="#ffffff"/>
<rect x="710" y="605" width="2.00" height="2.00" rx="1.5" fill="#ffffff"/>
<rect x="111.00" y="613.50" width="635.00" height="19.20" fill="#000000" />
<rect x="117.00" y="617.40" width="150.70" height="15.60" fill="#ffffff" />
<rect x="117.00" y="631.50" width="152.00" height="2.70" fill="#000000" />
<circle cx="113.50" cy="619.50" r="2.30" fill="#ffffff" />
<circle cx="113.50" cy="630.00" r="2.30" fill="#ffffff" />
<rect x="270.50" y="619.50" width="36.10" height="13.20" fill="#ffffff" />
<rect x="270.50" y="619.50" width="36.10" height="1.30" fill="#777" />
<rect x="270.5" y="623.5" width="36.10" height="4" fill="url(#gg)"/>
<rect x="310.00" y="619.50" width="38.20" height="13.20" fill="#ffffff" />
<rect x="310.00" y="619.50" width="38.20" height="1.30" fill="#777" />
<rect x="310" y="623.5" width="38.20" height="4" fill="url(#gg)"/>
<rect x="350.90" y="619.50" width="17.70" height="13.20" fill="#ffffff" />
<rect x="350.90" y="619.50" width="17.70" height="1.30" fill="#777" />
<rect x="350.9" y="623.5" width="17.70" height="4" fill="url(#gg)"/>
<rect x="371.30" y="619.50" width="31.90" height="13.20" fill="#ffffff" />
<rect x="371.30" y="619.50" width="31.90" height="1.30" fill="#777" />
<rect x="371.3" y="623.5" width="31.90" height="4" fill="url(#gg)"/>
<rect x="406.70" y="619.50" width="22.10" height="13.20" fill="#ffffff" />
<rect x="406.70" y="619.50" width="22.10" height="1.30" fill="#777" />
<rect x="406.7" y="623.5" width="22.10" height="4" fill="url(#gg)"/>
<rect x="431.50" y="619.50" width="38.00" height="13.20" fill="#ffffff" />
<rect x="431.50" y="619.50" width="38.00" height="1.30" fill="#777" />
<rect x="431.5" y="623.5" width="38.00" height="4" fill="url(#gg)"/>
<rect x="471.50" y="619.50" width="12.90" height="13.20" fill="#ffffff" />
<rect x="471.50" y="619.50" width="12.90" height="1.30" fill="#777" />
<rect x="471.5" y="623.5" width="12.90" height="4" fill="url(#gg)"/>
<rect x="486.20" y="619.50" width="8.80" height="13.20" fill="#ffffff" />
<rect x="486.20" y="619.50" width="8.80" height="1.30" fill="#777" />
<rect x="486.2" y="623.5" width="8.80" height="4" fill="url(#gg)"/>
<rect x="496.80" y="619.50" width="13.20" height="13.20" fill="#ffffff" />
<rect x="496.80" y="619.50" width="13.20" height="1.30" fill="#777" />
<rect x="496.8" y="623.5" width="13.20" height="4" fill="url(#gg)"/>
<rect x="512.80" y="619.50" width="38.10" height="13.20" fill="#ffffff" />
<rect x="512.80" y="619.50" width="38.10" height="1.30" fill="#777" />
<rect x="512.8" y="623.5" width="38.10" height="4" fill="url(#gg)"/>
<rect x="553.60" y="619.50" width="33.40" height="13.20" fill="#ffffff" />
<rect x="553.60" y="619.50" width="33.40" height="1.30" fill="#777" />
<rect x="553.6" y="623.5" width="33.40" height="4" fill="url(#gg)"/>
<rect x="371.30" y="628.00" width="31.90" height="2.00" fill="#000000" />
<rect x="588.70" y="616.40" width="150.90" height="16.30" fill="#ffffff" />
<circle cx="743.60" cy="619.70" r="2.00" fill="#ffffff" />
<circle cx="743.60" cy="629.40" r="2.00" fill="#ffffff" />
<rect x="269.00" y="632.70" width="477.00" height="3.50" fill="#000000" />
<rect x="117.00" y="634.20" width="152.00" height="2.10" fill="#000" fill-opacity="0"/>
<rect x="111.00" y="634.20" width="131.00" height="11.50" fill="#ffffff" />
<rect x="237.50" y="636.50" width="2.00" height="2.00" fill="#000000" />
<rect x="241.50" y="636.50" width="2.00" height="2.00" fill="#000000" />
<rect x="246.00" y="636.20" width="494.00" height="2.80" fill="#ffffff" />
<rect x="246.00" y="639.00" width="500.00" height="8.60" fill="#000000" />
<rect x="746.30" y="557.00" width="5.70" height="93.00" fill="#ffffff" />
<rect x="117.00" y="550.60" width="117.00" height="3.00" fill="#000000" />
<rect x="117.00" y="645.60" width="629.00" height="3.60" fill="#000000" />
<rect x="117.60" y="662.60" width="126.40" height="3.60" fill="#000000" />
<rect x="117.00" y="649.00" width="2.80" height="489.00" fill="#000000" />
<rect x="156.00" y="662.60" width="5.00" height="475.40" fill="#000000" />
<rect x="224.60" y="662.60" width="5.00" height="475.40" fill="#000000" />
<rect x="240.70" y="662.60" width="3.70" height="492.40" fill="#000000" />
<rect x="161.00" y="710.80" width="63.60" height="5.00" fill="#000000" />
<rect x="194.5" y="699.5" width="22" height="12.5" rx="3" fill="#fff" stroke="#000" stroke-width="1.8"/>
<circle cx="201.00" cy="705.50" r="2.80" fill="none" stroke="#000" stroke-width="1.5"/>
<circle cx="208.50" cy="705.50" r="2.80" fill="none" stroke="#000" stroke-width="1.5"/>
<circle cx="166.30" cy="733.00" r="6.00" fill="#000000" />
<circle cx="166.30" cy="786.00" r="6.00" fill="#000000" />
<circle cx="217.00" cy="733.00" r="6.00" fill="#000000" />
<circle cx="217.00" cy="786.00" r="6.00" fill="#000000" />
<circle cx="191.60" cy="759.50" r="28.00" fill="#000000" />
<circle cx="191.60" cy="759.50" r="13.50" fill="#ffffff" />
<circle cx="210.04" cy="765.85" r="2.60" fill="#f4f4f4" />
<circle cx="199.53" cy="777.31" r="2.60" fill="#f4f4f4" />
<circle cx="189.90" cy="778.93" r="2.60" fill="#f4f4f4" />
<circle cx="174.38" cy="768.65" r="2.60" fill="#f4f4f4" />
<circle cx="172.40" cy="756.11" r="2.60" fill="#f4f4f4" />
<circle cx="194.65" cy="740.24" r="2.60" fill="#f4f4f4" />
<circle cx="208.49" cy="749.75" r="2.60" fill="#f4f4f4" />
<circle cx="207.16" cy="775.06" r="1.80" fill="#999" />
<circle cx="180.60" cy="778.55" r="1.80" fill="#999" />
<circle cx="177.46" cy="742.65" r="1.80" fill="#999" />
<circle cx="204.22" cy="741.48" r="1.80" fill="#999" />
<circle cx="213.60" cy="759.50" r="1.80" fill="#999" />
<circle cx="169.93" cy="763.32" r="1.80" fill="#999" />
<path d="M180.30,744.80 L173.80,738.30" fill="none" stroke="#bbb" stroke-width="0.9" />
<path d="M176.90,748.20 L170.40,741.70" fill="none" stroke="#bbb" stroke-width="0.9" />
<path d="M185.1,752.0 L165.6,733.5" fill="none" stroke="#000000" stroke-width="3.2" />
<path d="M176.90,770.80 L170.40,777.30" fill="none" stroke="#bbb" stroke-width="0.9" />
<path d="M180.30,774.20 L173.80,780.70" fill="none" stroke="#bbb" stroke-width="0.9" />
<path d="M185.1,767.0 L165.6,785.5" fill="none" stroke="#000000" stroke-width="3.2" />
<path d="M206.30,748.20 L212.80,741.70" fill="none" stroke="#bbb" stroke-width="0.9" />
<path d="M202.90,744.80 L209.40,738.30" fill="none" stroke="#bbb" stroke-width="0.9" />
<path d="M198.1,752.0 L217.6,733.5" fill="none" stroke="#000000" stroke-width="3.2" />
<path d="M202.90,774.20 L209.40,780.70" fill="none" stroke="#bbb" stroke-width="0.9" />
<path d="M206.30,770.80 L212.80,777.30" fill="none" stroke="#bbb" stroke-width="0.9" />
<path d="M198.1,767.0 L217.6,785.5" fill="none" stroke="#000000" stroke-width="3.2" />
<path d="M184.6,748.0 Q192.1,759.5 184.6,771.0 M198.6,748.0 Q191.1,759.5 198.6,771.0" fill="none" stroke="#000000" stroke-width="3" />
<rect x="181.60" y="724.00" width="23.00" height="5.00" fill="#000000" />
<rect x="183.60" y="720.00" width="19.00" height="3.50" fill="#ffffff" />
<circle cx="166.30" cy="847.10" r="6.00" fill="#000000" />
<circle cx="166.30" cy="900.10" r="6.00" fill="#000000" />
<circle cx="217.00" cy="847.10" r="6.00" fill="#000000" />
<circle cx="217.00" cy="900.10" r="6.00" fill="#000000" />
<circle cx="191.60" cy="873.60" r="28.00" fill="#000000" />
<circle cx="191.60" cy="873.60" r="13.50" fill="#ffffff" />
<circle cx="210.04" cy="879.95" r="2.60" fill="#f4f4f4" />
<circle cx="199.53" cy="891.41" r="2.60" fill="#f4f4f4" />
<circle cx="189.90" cy="893.03" r="2.60" fill="#f4f4f4" />
<circle cx="174.38" cy="882.75" r="2.60" fill="#f4f4f4" />
<circle cx="172.40" cy="870.21" r="2.60" fill="#f4f4f4" />
<circle cx="194.65" cy="854.34" r="2.60" fill="#f4f4f4" />
<circle cx="208.49" cy="863.85" r="2.60" fill="#f4f4f4" />
<circle cx="207.16" cy="889.16" r="1.80" fill="#999" />
<circle cx="180.60" cy="892.65" r="1.80" fill="#999" />
<circle cx="177.46" cy="856.75" r="1.80" fill="#999" />
<circle cx="204.22" cy="855.58" r="1.80" fill="#999" />
<circle cx="213.60" cy="873.60" r="1.80" fill="#999" />
<circle cx="169.93" cy="877.42" r="1.80" fill="#999" />
<path d="M180.30,858.90 L173.80,852.40" fill="none" stroke="#bbb" stroke-width="0.9" />
<path d="M176.90,862.30 L170.40,855.80" fill="none" stroke="#bbb" stroke-width="0.9" />
<path d="M185.1,866.1 L165.6,847.6" fill="none" stroke="#000000" stroke-width="3.2" />
<path d="M176.90,884.90 L170.40,891.40" fill="none" stroke="#bbb" stroke-width="0.9" />
<path d="M180.30,888.30 L173.80,894.80" fill="none" stroke="#bbb" stroke-width="0.9" />
<path d="M185.1,881.1 L165.6,899.6" fill="none" stroke="#000000" stroke-width="3.2" />
<path d="M206.30,862.30 L212.80,855.80" fill="none" stroke="#bbb" stroke-width="0.9" />
<path d="M202.90,858.90 L209.40,852.40" fill="none" stroke="#bbb" stroke-width="0.9" />
<path d="M198.1,866.1 L217.6,847.6" fill="none" stroke="#000000" stroke-width="3.2" />
<path d="M202.90,888.30 L209.40,894.80" fill="none" stroke="#bbb" stroke-width="0.9" />
<path d="M206.30,884.90 L212.80,891.40" fill="none" stroke="#bbb" stroke-width="0.9" />
<path d="M198.1,881.1 L217.6,899.6" fill="none" stroke="#000000" stroke-width="3.2" />
<path d="M184.6,862.1 Q192.1,873.6 184.6,885.1 M198.6,862.1 Q191.1,873.6 198.6,885.1" fill="none" stroke="#000000" stroke-width="3" />
<circle cx="166.30" cy="953.30" r="6.00" fill="#000000" />
<circle cx="166.30" cy="1006.30" r="6.00" fill="#000000" />
<circle cx="217.00" cy="953.30" r="6.00" fill="#000000" />
<circle cx="217.00" cy="1006.30" r="6.00" fill="#000000" />
<circle cx="191.60" cy="979.80" r="28.00" fill="#000000" />
<circle cx="191.60" cy="979.80" r="13.50" fill="#ffffff" />
<circle cx="210.04" cy="986.15" r="2.60" fill="#f4f4f4" />
<circle cx="199.53" cy="997.61" r="2.60" fill="#f4f4f4" />
<circle cx="189.90" cy="999.23" r="2.60" fill="#f4f4f4" />
<circle cx="174.38" cy="988.95" r="2.60" fill="#f4f4f4" />
<circle cx="172.40" cy="976.41" r="2.60" fill="#f4f4f4" />
<circle cx="194.65" cy="960.54" r="2.60" fill="#f4f4f4" />
<circle cx="208.49" cy="970.05" r="2.60" fill="#f4f4f4" />
<circle cx="207.16" cy="995.36" r="1.80" fill="#999" />
<circle cx="180.60" cy="998.85" r="1.80" fill="#999" />
<circle cx="177.46" cy="962.95" r="1.80" fill="#999" />
<circle cx="204.22" cy="961.78" r="1.80" fill="#999" />
<circle cx="213.60" cy="979.80" r="1.80" fill="#999" />
<circle cx="169.93" cy="983.62" r="1.80" fill="#999" />
<path d="M180.30,965.10 L173.80,958.60" fill="none" stroke="#bbb" stroke-width="0.9" />
<path d="M176.90,968.50 L170.40,962.00" fill="none" stroke="#bbb" stroke-width="0.9" />
<path d="M185.1,972.3 L165.6,953.8" fill="none" stroke="#000000" stroke-width="3.2" />
<path d="M176.90,991.10 L170.40,997.60" fill="none" stroke="#bbb" stroke-width="0.9" />
<path d="M180.30,994.50 L173.80,1001.00" fill="none" stroke="#bbb" stroke-width="0.9" />
<path d="M185.1,987.3 L165.6,1005.8" fill="none" stroke="#000000" stroke-width="3.2" />
<path d="M206.30,968.50 L212.80,962.00" fill="none" stroke="#bbb" stroke-width="0.9" />
<path d="M202.90,965.10 L209.40,958.60" fill="none" stroke="#bbb" stroke-width="0.9" />
<path d="M198.1,972.3 L217.6,953.8" fill="none" stroke="#000000" stroke-width="3.2" />
<path d="M202.90,994.50 L209.40,1001.00" fill="none" stroke="#bbb" stroke-width="0.9" />
<path d="M206.30,991.10 L212.80,997.60" fill="none" stroke="#bbb" stroke-width="0.9" />
<path d="M198.1,987.3 L217.6,1005.8" fill="none" stroke="#000000" stroke-width="3.2" />
<path d="M184.6,968.3 Q192.1,979.8 184.6,991.3 M198.6,968.3 Q191.1,979.8 198.6,991.3" fill="none" stroke="#000000" stroke-width="3" />
<rect x="181.60" y="944.30" width="23.00" height="5.00" fill="#000000" />
<rect x="183.60" y="940.30" width="19.00" height="3.50" fill="#ffffff" />
<circle cx="166.30" cy="1065.20" r="6.00" fill="#000000" />
<circle cx="166.30" cy="1118.20" r="6.00" fill="#000000" />
<circle cx="217.00" cy="1065.20" r="6.00" fill="#000000" />
<circle cx="217.00" cy="1118.20" r="6.00" fill="#000000" />
<circle cx="191.60" cy="1091.70" r="28.00" fill="#000000" />
<circle cx="191.60" cy="1091.70" r="13.50" fill="#ffffff" />
<circle cx="210.04" cy="1098.05" r="2.60" fill="#f4f4f4" />
<circle cx="199.53" cy="1109.51" r="2.60" fill="#f4f4f4" />
<circle cx="189.90" cy="1111.13" r="2.60" fill="#f4f4f4" />
<circle cx="174.38" cy="1100.85" r="2.60" fill="#f4f4f4" />
<circle cx="172.40" cy="1088.31" r="2.60" fill="#f4f4f4" />
<circle cx="194.65" cy="1072.44" r="2.60" fill="#f4f4f4" />
<circle cx="208.49" cy="1081.95" r="2.60" fill="#f4f4f4" />
<circle cx="207.16" cy="1107.26" r="1.80" fill="#999" />
<circle cx="180.60" cy="1110.75" r="1.80" fill="#999" />
<circle cx="177.46" cy="1074.85" r="1.80" fill="#999" />
<circle cx="204.22" cy="1073.68" r="1.80" fill="#999" />
<circle cx="213.60" cy="1091.70" r="1.80" fill="#999" />
<circle cx="169.93" cy="1095.52" r="1.80" fill="#999" />
<path d="M180.30,1077.00 L173.80,1070.50" fill="none" stroke="#bbb" stroke-width="0.9" />
<path d="M176.90,1080.40 L170.40,1073.90" fill="none" stroke="#bbb" stroke-width="0.9" />
<path d="M185.1,1084.2 L165.6,1065.7" fill="none" stroke="#000000" stroke-width="3.2" />
<path d="M176.90,1103.00 L170.40,1109.50" fill="none" stroke="#bbb" stroke-width="0.9" />
<path d="M180.30,1106.40 L173.80,1112.90" fill="none" stroke="#bbb" stroke-width="0.9" />
<path d="M185.1,1099.2 L165.6,1117.7" fill="none" stroke="#000000" stroke-width="3.2" />
<path d="M206.30,1080.40 L212.80,1073.90" fill="none" stroke="#bbb" stroke-width="0.9" />
<path d="M202.90,1077.00 L209.40,1070.50" fill="none" stroke="#bbb" stroke-width="0.9" />
<path d="M198.1,1084.2 L217.6,1065.7" fill="none" stroke="#000000" stroke-width="3.2" />
<path d="M202.90,1106.40 L209.40,1112.90" fill="none" stroke="#bbb" stroke-width="0.9" />
<path d="M206.30,1103.00 L212.80,1109.50" fill="none" stroke="#bbb" stroke-width="0.9" />
<path d="M198.1,1099.2 L217.6,1117.7" fill="none" stroke="#000000" stroke-width="3.2" />
<path d="M184.6,1080.2 Q192.1,1091.7 184.6,1103.2 M198.6,1080.2 Q191.1,1091.7 198.6,1103.2" fill="none" stroke="#000000" stroke-width="3" />
<rect x="166.50" y="799.00" width="6.50" height="34.00" fill="#000000" />
<rect x="166.50" y="1018.70" width="6.50" height="34.80" fill="#000000" />
<rect x="174" y="839.6" width="6.5" height="66.6" rx="3" fill="#fff" stroke="#000" stroke-width="1.5"/>
<rect x="174" y="1060" width="6.5" height="66" rx="3" fill="#fff" stroke="#000" stroke-width="1.5"/>
<rect x="161.00" y="913.30" width="63.60" height="3.50" fill="#000000" />
<circle cx="179.30" cy="926.00" r="5.50" fill="none" stroke="#000" stroke-width="2"/>
<circle cx="204.80" cy="926.00" r="5.50" fill="none" stroke="#000" stroke-width="2"/>
<circle cx="179.30" cy="926.00" r="2.50" fill="#000000" />
<circle cx="204.80" cy="926.00" r="2.50" fill="#000000" />
<rect x="161.00" y="933.00" width="63.60" height="3.00" fill="#000000" />
<rect x="161.00" y="1135.00" width="68.60" height="3.70" fill="#000000" />
<rect x="118.30" y="801.30" width="37.70" height="51.10" fill="#000000" />
<rect x="122.00" y="804.30" width="30.00" height="3.00" fill="#999" />
<rect x="122.00" y="810.30" width="30.00" height="3.00" fill="#999" />
<rect x="125.40" y="818.30" width="24.10" height="27.10" fill="#ffffff" />
<rect x="122.00" y="847.40" width="30.00" height="2.50" fill="#999" />
<rect x="136.50" y="821.30" width="2.00" height="7.00" fill="#000000" />
<circle cx="137.50" cy="837.40" r="4.30" fill="none" stroke="#000" stroke-width="1.6"/>
<rect x="118.30" y="1021.60" width="37.70" height="51.70" fill="#000000" />
<rect x="122.00" y="1024.60" width="30.00" height="3.00" fill="#999" />
<rect x="122.00" y="1030.60" width="30.00" height="3.00" fill="#999" />
<rect x="125.40" y="1038.60" width="24.10" height="27.70" fill="#ffffff" />
<rect x="122.00" y="1068.30" width="30.00" height="2.50" fill="#999" />
<rect x="136.50" y="1041.60" width="2.00" height="7.00" fill="#000000" />
<circle cx="137.50" cy="1058.30" r="4.30" fill="none" stroke="#000" stroke-width="1.6"/>
<rect x="95.00" y="1136.50" width="149.00" height="2.20" fill="#000000" />
<rect x="113" y="1141" width="112" height="13" fill="#fff" stroke="#000" stroke-width="1.5"/>
<rect x="168.70" y="1141.00" width="23.30" height="12.00" fill="#ffffff" stroke="#333" stroke-width="1"/>
<circle cx="180.40" cy="1146.50" r="4.60" fill="none" stroke="#000" stroke-width="2.2"/>
<circle cx="180.40" cy="1146.50" r="1.50" fill="#000000" />
<rect x="97.00" y="1140.00" width="13.00" height="14.00" fill="#ffffff" stroke="#000" stroke-width="1.2"/>
<rect x="229.00" y="1143.00" width="9.00" height="9.00" fill="#ffffff" />
<rect x="244.40" y="659.80" width="497.60" height="489.00" fill="#000000" />
<rect x="252.00" y="641.80" width="3.00" height="1.50" fill="#c00" />
<rect x="264.30" y="641.80" width="3.00" height="1.50" fill="#c00" />
<rect x="276.60" y="641.80" width="3.00" height="1.50" fill="#c00" />
<rect x="288.90" y="641.80" width="3.00" height="1.50" fill="#c00" />
<rect x="301.20" y="641.80" width="3.00" height="1.50" fill="#c00" />
<rect x="313.50" y="641.80" width="3.00" height="1.50" fill="#c00" />
<rect x="325.80" y="641.80" width="3.00" height="1.50" fill="#c00" />
<rect x="338.10" y="641.80" width="3.00" height="1.50" fill="#c00" />
<rect x="350.40" y="641.80" width="3.00" height="1.50" fill="#c00" />
<rect x="362.70" y="641.80" width="3.00" height="1.50" fill="#c00" />
<rect x="375.00" y="641.80" width="3.00" height="1.50" fill="#c00" />
<rect x="387.30" y="641.80" width="3.00" height="1.50" fill="#c00" />
<rect x="399.60" y="641.80" width="3.00" height="1.50" fill="#c00" />
<rect x="411.90" y="641.80" width="3.00" height="1.50" fill="#c00" />
<rect x="424.20" y="641.80" width="3.00" height="1.50" fill="#c00" />
<rect x="436.50" y="641.80" width="3.00" height="1.50" fill="#c00" />
<rect x="448.80" y="641.80" width="3.00" height="1.50" fill="#c00" />
<rect x="461.10" y="641.80" width="3.00" height="1.50" fill="#c00" />
<rect x="473.40" y="641.80" width="3.00" height="1.50" fill="#c00" />
<rect x="485.70" y="641.80" width="3.00" height="1.50" fill="#999" />
<rect x="498.00" y="641.80" width="3.00" height="1.50" fill="#999" />
<rect x="510.30" y="641.80" width="3.00" height="1.50" fill="#999" />
<rect x="522.60" y="641.80" width="3.00" height="1.50" fill="#999" />
<rect x="534.90" y="641.80" width="3.00" height="1.50" fill="#999" />
<rect x="547.20" y="641.80" width="3.00" height="1.50" fill="#999" />
<rect x="559.50" y="641.80" width="3.00" height="1.50" fill="#999" />
<rect x="571.80" y="641.80" width="3.00" height="1.50" fill="#999" />
<rect x="584.10" y="641.80" width="3.00" height="1.50" fill="#999" />
<rect x="596.40" y="641.80" width="3.00" height="1.50" fill="#999" />
<rect x="608.70" y="641.80" width="3.00" height="1.50" fill="#999" />
<rect x="621.00" y="641.80" width="3.00" height="1.50" fill="#999" />
<rect x="633.30" y="641.80" width="3.00" height="1.50" fill="#999" />
<rect x="645.60" y="641.80" width="3.00" height="1.50" fill="#999" />
<rect x="657.90" y="641.80" width="3.00" height="1.50" fill="#999" />
<rect x="670.20" y="641.80" width="3.00" height="1.50" fill="#999" />
<rect x="682.50" y="641.80" width="3.00" height="1.50" fill="#999" />
<rect x="694.80" y="641.80" width="3.00" height="1.50" fill="#999" />
<rect x="707.10" y="641.80" width="3.00" height="1.50" fill="#999" />
<rect x="719.40" y="641.80" width="3.00" height="1.50" fill="#999" />
<rect x="731.70" y="641.80" width="3.00" height="1.50" fill="#999" />
<rect x="116.60" y="645.70" width="629.40" height="3.50" fill="#000000" />
<rect x="116.60" y="649.20" width="625.10" height="13.30" fill="#ffffff" />
<rect x="248.00" y="647.60" width="234.00" height="12.00" fill="#99ffcc" />
<rect x="246.00" y="659.60" width="495.70" height="4.30" fill="#000000" />
<rect x="116.60" y="662.50" width="129.40" height="3.70" fill="#000000" />
<circle cx="290.70" cy="655.50" r="5.80" fill="#000000" />
<circle cx="503.50" cy="655.50" r="5.80" fill="#000000" />
<g id="loc">
<path d="M252.10000000000002,665.6 L270.1,665.6 L268.1,670 L252.10000000000002,670 Z" fill="inherit" stroke="none" stroke-width="1" />
<rect x="252.10" y="672.00" width="2.00" height="36.00" fill="inherit" />
<rect x="257.00" y="672.00" width="2.10" height="36.00" fill="inherit" />
<rect x="259.10" y="672.00" width="2.50" height="36.00" fill="inherit" fill-opacity="0.5"/>
<rect x="261.60" y="683.00" width="4.00" height="25.00" fill="inherit" />
<circle cx="262.60" cy="675.00" r="1.50" fill="inherit" />
<rect x="251.60" y="710.50" width="17.00" height="1.50" fill="inherit" fill-opacity="0.45"/>
<rect x="262.60" y="718.00" width="4.00" height="2.50" fill="inherit" />
<rect x="262.60" y="723.00" width="4.00" height="2.50" fill="inherit" />
<rect x="254.60" y="718.00" width="4.00" height="2.50" fill="inherit" fill-opacity="0.3"/>
<rect x="254.60" y="723.00" width="4.00" height="2.50" fill="inherit" fill-opacity="0.3"/>
<rect x="251.60" y="732.50" width="17.00" height="1.50" fill="inherit" fill-opacity="0.45"/>
<rect x="272.10" y="667.70" width="8.70" height="55.80" fill="inherit" />
<rect x="272.10" y="726.00" width="8.70" height="36.80" fill="inherit" />
<circle cx="259.10" cy="747.40" r="6.20" fill="inherit" />
<circle cx="263.40" cy="746.80" r="5.00" fill="#000000" />
<rect x="256.10" y="757" width="7" height="4" rx="2" fill="inherit"/>
<path d="M250.60,737 l3,6 l-3,6 Z" fill="inherit" fill-opacity="0.8"/>
<rect x="272.10" y="767.00" width="3.00" height="12.00" fill="inherit" />
<rect x="275.60" y="767.00" width="3.00" height="12.00" fill="inherit" fill-opacity="0.35"/>
<circle cx="259.90" cy="772.00" r="6.60" fill="inherit" />
<rect x="256.10" y="782.50" width="7" height="4.3" rx="2" fill="inherit"/>
<path d="M249.10,762.5 l4,4.5 l-4,4.5 Z M249.10,774.5 l4,4.5 l-4,4.5 Z" fill="inherit" fill-opacity="0.8"/>
<circle cx="251.60" cy="759.80" r="1.10" fill="inherit" />
<path d="M263.6,790.6 L259.6,790.6 A6.4,6.4 0 0 0 259.6,803.4 L263.6,803.4 Z" fill="inherit" stroke="none" stroke-width="1" />
<rect x="256.10" y="807.50" width="7" height="4.3" rx="2" fill="inherit"/>
<path d="M249.10,787.5 l4,4.5 l-4,4.5 Z M249.10,799.5 l4,4.5 l-4,4.5 Z" fill="inherit" fill-opacity="0.8"/>
<circle cx="251.60" cy="784.80" r="1.10" fill="inherit" />
<path d="M263.6,815.6 L259.6,815.6 A6.4,6.4 0 0 0 259.6,828.4 L263.6,828.4 Z" fill="inherit" stroke="none" stroke-width="1" />
<rect x="256.10" y="832.50" width="7" height="4.3" rx="2" fill="inherit"/>
<path d="M249.10,812.5 l4,4.5 l-4,4.5 Z M249.10,824.5 l4,4.5 l-4,4.5 Z" fill="inherit" fill-opacity="0.8"/>
<circle cx="251.60" cy="809.80" r="1.10" fill="inherit" />
<path d="M263.6,840.6 L259.6,840.6 A6.4,6.4 0 0 0 259.6,853.4 L263.6,853.4 Z" fill="inherit" stroke="none" stroke-width="1" />
<rect x="256.10" y="857.50" width="7" height="4.3" rx="2" fill="inherit"/>
<path d="M249.10,837.5 l4,4.5 l-4,4.5 Z M249.10,849.5 l4,4.5 l-4,4.5 Z" fill="inherit" fill-opacity="0.8"/>
<circle cx="251.60" cy="834.80" r="1.10" fill="inherit" />
<path d="M263.6,865.6 L259.6,865.6 A6.4,6.4 0 0 0 259.6,878.4 L263.6,878.4 Z" fill="inherit" stroke="none" stroke-width="1" />
<rect x="256.10" y="882.50" width="7" height="4.3" rx="2" fill="inherit"/>
<path d="M249.10,862.5 l4,4.5 l-4,4.5 Z M249.10,874.5 l4,4.5 l-4,4.5 Z" fill="inherit" fill-opacity="0.8"/>
<circle cx="251.60" cy="859.80" r="1.10" fill="inherit" />
<path d="M263.6,890.6 L259.6,890.6 A6.4,6.4 0 0 0 259.6,903.4 L263.6,903.4 Z" fill="inherit" stroke="none" stroke-width="1" />
<rect x="256.10" y="907.50" width="7" height="4.3" rx="2" fill="inherit"/>
<path d="M249.10,887.5 l4,4.5 l-4,4.5 Z M249.10,899.5 l4,4.5 l-4,4.5 Z" fill="inherit" fill-opacity="0.8"/>
<circle cx="251.60" cy="884.80" r="1.10" fill="inherit" />
<path d="M263.6,915.6 L259.6,915.6 A6.4,6.4 0 0 0 259.6,928.4 L263.6,928.4 Z" fill="inherit" stroke="none" stroke-width="1" />
<rect x="256.10" y="932.50" width="7" height="4.3" rx="2" fill="inherit"/>
<path d="M249.10,912.5 l4,4.5 l-4,4.5 Z M249.10,924.5 l4,4.5 l-4,4.5 Z" fill="inherit" fill-opacity="0.8"/>
<circle cx="251.60" cy="909.80" r="1.10" fill="inherit" />
<path d="M263.6,940.6 L259.6,940.6 A6.4,6.4 0 0 0 259.6,953.4 L263.6,953.4 Z" fill="inherit" stroke="none" stroke-width="1" />
<rect x="256.10" y="957.50" width="7" height="4.3" rx="2" fill="inherit"/>
<path d="M249.10,937.5 l4,4.5 l-4,4.5 Z M249.10,949.5 l4,4.5 l-4,4.5 Z" fill="inherit" fill-opacity="0.8"/>
<circle cx="251.60" cy="934.80" r="1.10" fill="inherit" />
<path d="M263.6,965.6 L259.6,965.6 A6.4,6.4 0 0 0 259.6,978.4 L263.6,978.4 Z" fill="inherit" stroke="none" stroke-width="1" />
<rect x="256.10" y="982.50" width="7" height="4.3" rx="2" fill="inherit"/>
<path d="M249.10,962.5 l4,4.5 l-4,4.5 Z M249.10,974.5 l4,4.5 l-4,4.5 Z" fill="inherit" fill-opacity="0.8"/>
<circle cx="251.60" cy="959.80" r="1.10" fill="inherit" />
<path d="M263.6,990.6 L259.6,990.6 A6.4,6.4 0 0 0 259.6,1003.4 L263.6,1003.4 Z" fill="inherit" stroke="none" stroke-width="1" />
<rect x="256.10" y="1007.50" width="7" height="4.3" rx="2" fill="inherit"/>
<path d="M249.10,987.5 l4,4.5 l-4,4.5 Z M249.10,999.5 l4,4.5 l-4,4.5 Z" fill="inherit" fill-opacity="0.8"/>
<circle cx="251.60" cy="984.80" r="1.10" fill="inherit" />
<path d="M263.6,1015.6 L259.6,1015.6 A6.4,6.4 0 0 0 259.6,1028.4 L263.6,1028.4 Z" fill="inherit" stroke="none" stroke-width="1" />
<rect x="256.10" y="1032.50" width="7" height="4.3" rx="2" fill="inherit"/>
<path d="M249.10,1012.5 l4,4.5 l-4,4.5 Z M249.10,1024.5 l4,4.5 l-4,4.5 Z" fill="inherit" fill-opacity="0.8"/>
<circle cx="251.60" cy="1009.80" r="1.10" fill="inherit" />
<circle cx="259.90" cy="1047.00" r="6.60" fill="inherit" />
<rect x="256.10" y="1057.50" width="7" height="4.3" rx="2" fill="inherit"/>
<path d="M249.10,1037.5 l4,4.5 l-4,4.5 Z M249.10,1049.5 l4,4.5 l-4,4.5 Z" fill="inherit" fill-opacity="0.8"/>
<circle cx="251.60" cy="1034.80" r="1.10" fill="inherit" />
<circle cx="259.90" cy="1072.00" r="6.60" fill="inherit" />
<rect x="256.10" y="1082.50" width="7" height="4.3" rx="2" fill="inherit"/>
<path d="M249.10,1062.5 l4,4.5 l-4,4.5 Z M249.10,1074.5 l4,4.5 l-4,4.5 Z" fill="inherit" fill-opacity="0.8"/>
<circle cx="251.60" cy="1059.80" r="1.10" fill="inherit" />
<circle cx="259.90" cy="1097.00" r="6.60" fill="inherit" />
<rect x="256.10" y="1107.50" width="7" height="4.3" rx="2" fill="inherit"/>
<path d="M249.10,1087.5 l4,4.5 l-4,4.5 Z M249.10,1099.5 l4,4.5 l-4,4.5 Z" fill="inherit" fill-opacity="0.8"/>
<circle cx="251.60" cy="1084.80" r="1.10" fill="inherit" />
<circle cx="259.90" cy="1122.00" r="6.60" fill="inherit" />
<path d="M249.10,1112.5 l4,4.5 l-4,4.5 Z M249.10,1124.5 l4,4.5 l-4,4.5 Z" fill="inherit" fill-opacity="0.8"/>
<circle cx="251.60" cy="1109.80" r="1.10" fill="inherit" />
<path d="M266.1,1027.6 L266.1,784 Q266.1,781.4 268.6,781.4 L274.1,781.4 L274.1,1027.6 Z" fill="inherit" stroke="none" stroke-width="1" />
<rect x="274.10" y="784.00" width="1.50" height="243.00" fill="inherit" fill-opacity="0.5"/>
<rect x="272.10" y="1032.00" width="3.00" height="9.00" fill="inherit" />
<rect x="272.10" y="1046.80" width="8.50" height="37.20" fill="inherit" />
<rect x="272.10" y="1087.70" width="8.50" height="53.30" fill="inherit" />
<path d="M256.6,1136.5 L259.6,1131 L262.6,1136.5 Z" fill="inherit" stroke="none" stroke-width="1" />
<rect x="253.60" y="1143.00" width="4.00" height="2.00" fill="inherit" />
<rect x="262.60" y="1143.00" width="4.00" height="2.00" fill="inherit" />
<path d="M282.55,665.6 L300.55,665.6 L298.55,670 L282.55,670 Z" fill="inherit" stroke="none" stroke-width="1" />
<rect x="282.55" y="672.00" width="2.00" height="36.00" fill="inherit" />
<rect x="287.45" y="672.00" width="2.10" height="36.00" fill="inherit" />
<rect x="289.55" y="672.00" width="2.50" height="36.00" fill="inherit" fill-opacity="0.5"/>
<rect x="292.05" y="683.00" width="4.00" height="25.00" fill="inherit" />
<circle cx="293.05" cy="675.00" r="1.50" fill="inherit" />
<rect x="282.05" y="710.50" width="17.00" height="1.50" fill="inherit" fill-opacity="0.45"/>
<rect x="293.05" y="718.00" width="4.00" height="2.50" fill="inherit" />
<rect x="293.05" y="723.00" width="4.00" height="2.50" fill="inherit" />
<rect x="285.05" y="718.00" width="4.00" height="2.50" fill="inherit" fill-opacity="0.3"/>
<rect x="285.05" y="723.00" width="4.00" height="2.50" fill="inherit" fill-opacity="0.3"/>
<rect x="282.05" y="732.50" width="17.00" height="1.50" fill="inherit" fill-opacity="0.45"/>
<rect x="302.55" y="667.70" width="8.70" height="55.80" fill="inherit" />
<rect x="302.55" y="726.00" width="8.70" height="36.80" fill="inherit" />
<circle cx="289.55" cy="747.40" r="6.20" fill="inherit" />
<circle cx="293.85" cy="746.80" r="5.00" fill="#000000" />
<rect x="286.55" y="757" width="7" height="4" rx="2" fill="inherit"/>
<path d="M281.05,737 l3,6 l-3,6 Z" fill="inherit" fill-opacity="0.8"/>
<rect x="302.55" y="767.00" width="3.00" height="12.00" fill="inherit" />
<rect x="306.05" y="767.00" width="3.00" height="12.00" fill="inherit" fill-opacity="0.35"/>
<circle cx="290.35" cy="772.00" r="6.60" fill="inherit" />
<rect x="286.55" y="782.50" width="7" height="4.3" rx="2" fill="inherit"/>
<path d="M279.55,762.5 l4,4.5 l-4,4.5 Z M279.55,774.5 l4,4.5 l-4,4.5 Z" fill="inherit" fill-opacity="0.8"/>
<circle cx="282.05" cy="759.80" r="1.10" fill="inherit" />
<path d="M294.05,790.6 L290.05,790.6 A6.4,6.4 0 0 0 290.05,803.4 L294.05,803.4 Z" fill="inherit" stroke="none" stroke-width="1" />
<rect x="286.55" y="807.50" width="7" height="4.3" rx="2" fill="inherit"/>
<path d="M279.55,787.5 l4,4.5 l-4,4.5 Z M279.55,799.5 l4,4.5 l-4,4.5 Z" fill="inherit" fill-opacity="0.8"/>
<circle cx="282.05" cy="784.80" r="1.10" fill="inherit" />
<path d="M294.05,815.6 L290.05,815.6 A6.4,6.4 0 0 0 290.05,828.4 L294.05,828.4 Z" fill="inherit" stroke="none" stroke-width="1" />
<rect x="286.55" y="832.50" width="7" height="4.3" rx="2" fill="inherit"/>
<path d="M279.55,812.5 l4,4.5 l-4,4.5 Z M279.55,824.5 l4,4.5 l-4,4.5 Z" fill="inherit" fill-opacity="0.8"/>
<circle cx="282.05" cy="809.80" r="1.10" fill="inherit" />
<path d="M294.05,840.6 L290.05,840.6 A6.4,6.4 0 0 0 290.05,853.4 L294.05,853.4 Z" fill="inherit" stroke="none" stroke-width="1" />
<rect x="286.55" y="857.50" width="7" height="4.3" rx="2" fill="inherit"/>
<path d="M279.55,837.5 l4,4.5 l-4,4.5 Z M279.55,849.5 l4,4.5 l-4,4.5 Z" fill="inherit" fill-opacity="0.8"/>
<circle cx="282.05" cy="834.80" r="1.10" fill="inherit" />
<path d="M294.05,865.6 L290.05,865.6 A6.4,6.4 0 0 0 290.05,878.4 L294.05,878.4 Z" fill="inherit" stroke="none" stroke-width="1" />
<rect x="286.55" y="882.50" width="7" height="4.3" rx="2" fill="inherit"/>
<path d="M279.55,862.5 l4,4.5 l-4,4.5 Z M279.55,874.5 l4,4.5 l-4,4.5 Z" fill="inherit" fill-opacity="0.8"/>
<circle cx="282.05" cy="859.80" r="1.10" fill="inherit" />
<path d="M294.05,890.6 L290.05,890.6 A6.4,6.4 0 0 0 290.05,903.4 L294.05,903.4 Z" fill="inherit" stroke="none" stroke-width="1" />
<rect x="286.55" y="907.50" width="7" height="4.3" rx="2" fill="inherit"/>
<path d="M279.55,887.5 l4,4.5 l-4,4.5 Z M279.55,899.5 l4,4.5 l-4,4.5 Z" fill="inherit" fill-opacity="0.8"/>
<circle cx="282.05" cy="884.80" r="1.10" fill="inherit" />
<path d="M294.05,915.6 L290.05,915.6 A6.4,6.4 0 0 0 290.05,928.4 L294.05,928.4 Z" fill="inherit" stroke="none" stroke-width="1" />
<rect x="286.55" y="932.50" width="7" height="4.3" rx="2" fill="inherit"/>
<path d="M279.55,912.5 l4,4.5 l-4,4.5 Z M279.55,924.5 l4,4.5 l-4,4.5 Z" fill="inherit" fill-opacity="0.8"/>
<circle cx="282.05" cy="909.80" r="1.10" fill="inherit" />
<path d="M294.05,940.6 L290.05,940.6 A6.4,6.4 0 0 0 290.05,953.4 L294.05,953.4 Z" fill="inherit" stroke="none" stroke-width="1" />
<rect x="286.55" y="957.50" width="7" height="4.3" rx="2" fill="inherit"/>
<path d="M279.55,937.5 l4,4.5 l-4,4.5 Z M279.55,949.5 l4,4.5 l-4,4.5 Z" fill="inherit" fill-opacity="0.8"/>
<circle cx="282.05" cy="934.80" r="1.10" fill="inherit" />
<path d="M294.05,965.6 L290.05,965.6 A6.4,6.4 0 0 0 290.05,978.4 L294.05,978.4 Z" fill="inherit" stroke="none" stroke-width="1" />
<rect x="286.55" y="982.50" width="7" height="4.3" rx="2" fill="inherit"/>
<path d="M279.55,962.5 l4,4.5 l-4,4.5 Z M279.55,974.5 l4,4.5 l-4,4.5 Z" fill="inherit" fill-opacity="0.8"/>
<circle cx="282.05" cy="959.80" r="1.10" fill="inherit" />
<path d="M294.05,990.6 L290.05,990.6 A6.4,6.4 0 0 0 290.05,1003.4 L294.05,1003.4 Z" fill="inherit" stroke="none" stroke-width="1" />
<rect x="286.55" y="1007.50" width="7" height="4.3" rx="2" fill="inherit"/>
<path d="M279.55,987.5 l4,4.5 l-4,4.5 Z M279.55,999.5 l4,4.5 l-4,4.5 Z" fill="inherit" fill-opacity="0.8"/>
<circle cx="282.05" cy="984.80" r="1.10" fill="inherit" />
<path d="M294.05,1015.6 L290.05,1015.6 A6.4,6.4 0 0 0 290.05,1028.4 L294.05,1028.4 Z" fill="inherit" stroke="none" stroke-width="1" />
<rect x="286.55" y="1032.50" width="7" height="4.3" rx="2" fill="inherit"/>
<path d="M279.55,1012.5 l4,4.5 l-4,4.5 Z M279.55,1024.5 l4,4.5 l-4,4.5 Z" fill="inherit" fill-opacity="0.8"/>
<circle cx="282.05" cy="1009.80" r="1.10" fill="inherit" />
<circle cx="290.35" cy="1047.00" r="6.60" fill="inherit" />
<rect x="286.55" y="1057.50" width="7" height="4.3" rx="2" fill="inherit"/>
<path d="M279.55,1037.5 l4,4.5 l-4,4.5 Z M279.55,1049.5 l4,4.5 l-4,4.5 Z" fill="inherit" fill-opacity="0.8"/>
<circle cx="282.05" cy="1034.80" r="1.10" fill="inherit" />
<circle cx="290.35" cy="1072.00" r="6.60" fill="inherit" />
<rect x="286.55" y="1082.50" width="7" height="4.3" rx="2" fill="inherit"/>
<path d="M279.55,1062.5 l4,4.5 l-4,4.5 Z M279.55,1074.5 l4,4.5 l-4,4.5 Z" fill="inherit" fill-opacity="0.8"/>
<circle cx="282.05" cy="1059.80" r="1.10" fill="inherit" />
<circle cx="290.35" cy="1097.00" r="6.60" fill="inherit" />
<rect x="286.55" y="1107.50" width="7" height="4.3" rx="2" fill="inherit"/>
<path d="M279.55,1087.5 l4,4.5 l-4,4.5 Z M279.55,1099.5 l4,4.5 l-4,4.5 Z" fill="inherit" fill-opacity="0.8"/>
<circle cx="282.05" cy="1084.80" r="1.10" fill="inherit" />
<circle cx="290.35" cy="1122.00" r="6.60" fill="inherit" />
<path d="M279.55,1112.5 l4,4.5 l-4,4.5 Z M279.55,1124.5 l4,4.5 l-4,4.5 Z" fill="inherit" fill-opacity="0.8"/>
<circle cx="282.05" cy="1109.80" r="1.10" fill="inherit" />
<path d="M296.55,1027.6 L296.55,784 Q296.55,781.4 299.05,781.4 L304.55,781.4 L304.55,1027.6 Z" fill="inherit" stroke="none" stroke-width="1" />
<rect x="304.55" y="784.00" width="1.50" height="243.00" fill="inherit" fill-opacity="0.5"/>
<rect x="302.55" y="1032.00" width="3.00" height="9.00" fill="inherit" />
<rect x="302.55" y="1046.80" width="8.50" height="37.20" fill="inherit" />
<rect x="302.55" y="1087.70" width="8.50" height="53.30" fill="inherit" />
<path d="M287.05,1136.5 L290.05,1131 L293.05,1136.5 Z" fill="inherit" stroke="none" stroke-width="1" />
<rect x="284.05" y="1143.00" width="4.00" height="2.00" fill="inherit" />
<rect x="293.05" y="1143.00" width="4.00" height="2.00" fill="inherit" />
<path d="M313.0,665.6 L331.0,665.6 L329.0,670 L313.0,670 Z" fill="inherit" stroke="none" stroke-width="1" />
<rect x="313.00" y="672.00" width="2.00" height="36.00" fill="inherit" />
<rect x="317.90" y="672.00" width="2.10" height="36.00" fill="inherit" />
<rect x="320.00" y="672.00" width="2.50" height="36.00" fill="inherit" fill-opacity="0.5"/>
<rect x="322.50" y="683.00" width="4.00" height="25.00" fill="inherit" />
<circle cx="323.50" cy="675.00" r="1.50" fill="inherit" />
<rect x="312.50" y="710.50" width="17.00" height="1.50" fill="inherit" fill-opacity="0.45"/>
<rect x="323.50" y="718.00" width="4.00" height="2.50" fill="inherit" />
<rect x="323.50" y="723.00" width="4.00" height="2.50" fill="inherit" />
<rect x="315.50" y="718.00" width="4.00" height="2.50" fill="inherit" fill-opacity="0.3"/>
<rect x="315.50" y="723.00" width="4.00" height="2.50" fill="inherit" fill-opacity="0.3"/>
<rect x="312.50" y="732.50" width="17.00" height="1.50" fill="inherit" fill-opacity="0.45"/>
<rect x="333.00" y="667.70" width="8.70" height="55.80" fill="inherit" />
<rect x="333.00" y="726.00" width="8.70" height="36.80" fill="inherit" />
<circle cx="320.00" cy="747.40" r="6.20" fill="inherit" />
<circle cx="324.30" cy="746.80" r="5.00" fill="#000000" />
<rect x="317.00" y="757" width="7" height="4" rx="2" fill="inherit"/>
<path d="M311.50,737 l3,6 l-3,6 Z" fill="inherit" fill-opacity="0.8"/>
<rect x="333.00" y="767.00" width="3.00" height="12.00" fill="inherit" />
<rect x="336.50" y="767.00" width="3.00" height="12.00" fill="inherit" fill-opacity="0.35"/>
<circle cx="320.80" cy="772.00" r="6.60" fill="inherit" />
<rect x="317.00" y="782.50" width="7" height="4.3" rx="2" fill="inherit"/>
<path d="M310.00,762.5 l4,4.5 l-4,4.5 Z M310.00,774.5 l4,4.5 l-4,4.5 Z" fill="inherit" fill-opacity="0.8"/>
<circle cx="312.50" cy="759.80" r="1.10" fill="inherit" />
<path d="M324.5,790.6 L320.5,790.6 A6.4,6.4 0 0 0 320.5,803.4 L324.5,803.4 Z" fill="inherit" stroke="none" stroke-width="1" />
<rect x="317.00" y="807.50" width="7" height="4.3" rx="2" fill="inherit"/>
<path d="M310.00,787.5 l4,4.5 l-4,4.5 Z M310.00,799.5 l4,4.5 l-4,4.5 Z" fill="inherit" fill-opacity="0.8"/>
<circle cx="312.50" cy="784.80" r="1.10" fill="inherit" />
<path d="M324.5,815.6 L320.5,815.6 A6.4,6.4 0 0 0 320.5,828.4 L324.5,828.4 Z" fill="inherit" stroke="none" stroke-width="1" />
<rect x="317.00" y="832.50" width="7" height="4.3" rx="2" fill="inherit"/>
<path d="M310.00,812.5 l4,4.5 l-4,4.5 Z M310.00,824.5 l4,4.5 l-4,4.5 Z" fill="inherit" fill-opacity="0.8"/>
<circle cx="312.50" cy="809.80" r="1.10" fill="inherit" />
<path d="M324.5,840.6 L320.5,840.6 A6.4,6.4 0 0 0 320.5,853.4 L324.5,853.4 Z" fill="inherit" stroke="none" stroke-width="1" />
<rect x="317.00" y="857.50" width="7" height="4.3" rx="2" fill="inherit"/>
<path d="M310.00,837.5 l4,4.5 l-4,4.5 Z M310.00,849.5 l4,4.5 l-4,4.5 Z" fill="inherit" fill-opacity="0.8"/>
<circle cx="312.50" cy="834.80" r="1.10" fill="inherit" />
<path d="M324.5,865.6 L320.5,865.6 A6.4,6.4 0 0 0 320.5,878.4 L324.5,878.4 Z" fill="inherit" stroke="none" stroke-width="1" />
<rect x="317.00" y="882.50" width="7" height="4.3" rx="2" fill="inherit"/>
<path d="M310.00,862.5 l4,4.5 l-4,4.5 Z M310.00,874.5 l4,4.5 l-4,4.5 Z" fill="inherit" fill-opacity="0.8"/>
<circle cx="312.50" cy="859.80" r="1.10" fill="inherit" />
<path d="M324.5,890.6 L320.5,890.6 A6.4,6.4 0 0 0 320.5,903.4 L324.5,903.4 Z" fill="inherit" stroke="none" stroke-width="1" />
<rect x="317.00" y="907.50" width="7" height="4.3" rx="2" fill="inherit"/>
<path d="M310.00,887.5 l4,4.5 l-4,4.5 Z M310.00,899.5 l4,4.5 l-4,4.5 Z" fill="inherit" fill-opacity="0.8"/>
<circle cx="312.50" cy="884.80" r="1.10" fill="inherit" />
<path d="M324.5,915.6 L320.5,915.6 A6.4,6.4 0 0 0 320.5,928.4 L324.5,928.4 Z" fill="inherit" stroke="none" stroke-width="1" />
<rect x="317.00" y="932.50" width="7" height="4.3" rx="2" fill="inherit"/>
<path d="M310.00,912.5 l4,4.5 l-4,4.5 Z M310.00,924.5 l4,4.5 l-4,4.5 Z" fill="inherit" fill-opacity="0.8"/>
<circle cx="312.50" cy="909.80" r="1.10" fill="inherit" />
<path d="M324.5,940.6 L320.5,940.6 A6.4,6.4 0 0 0 320.5,953.4 L324.5,953.4 Z" fill="inherit" stroke="none" stroke-width="1" />
<rect x="317.00" y="957.50" width="7" height="4.3" rx="2" fill="inherit"/>
<path d="M310.00,937.5 l4,4.5 l-4,4.5 Z M310.00,949.5 l4,4.5 l-4,4.5 Z" fill="inherit" fill-opacity="0.8"/>
<circle cx="312.50" cy="934.80" r="1.10" fill="inherit" />
<path d="M324.5,965.6 L320.5,965.6 A6.4,6.4 0 0 0 320.5,978.4 L324.5,978.4 Z" fill="inherit" stroke="none" stroke-width="1" />
<rect x="317.00" y="982.50" width="7" height="4.3" rx="2" fill="inherit"/>
<path d="M310.00,962.5 l4,4.5 l-4,4.5 Z M310.00,974.5 l4,4.5 l-4,4.5 Z" fill="inherit" fill-opacity="0.8"/>
<circle cx="312.50" cy="959.80" r="1.10" fill="inherit" />
<path d="M324.5,990.6 L320.5,990.6 A6.4,6.4 0 0 0 320.5,1003.4 L324.5,1003.4 Z" fill="inherit" stroke="none" stroke-width="1" />
<rect x="317.00" y="1007.50" width="7" height="4.3" rx="2" fill="inherit"/>
<path d="M310.00,987.5 l4,4.5 l-4,4.5 Z M310.00,999.5 l4,4.5 l-4,4.5 Z" fill="inherit" fill-opacity="0.8"/>
<circle cx="312.50" cy="984.80" r="1.10" fill="inherit" />
<path d="M324.5,1015.6 L320.5,1015.6 A6.4,6.4 0 0 0 320.5,1028.4 L324.5,1028.4 Z" fill="inherit" stroke="none" stroke-width="1" />
<rect x="317.00" y="1032.50" width="7" height="4.3" rx="2" fill="inherit"/>
<path d="M310.00,1012.5 l4,4.5 l-4,4.5 Z M310.00,1024.5 l4,4.5 l-4,4.5 Z" fill="inherit" fill-opacity="0.8"/>
<circle cx="312.50" cy="1009.80" r="1.10" fill="inherit" />
<circle cx="320.80" cy="1047.00" r="6.60" fill="inherit" />
<rect x="317.00" y="1057.50" width="7" height="4.3" rx="2" fill="inherit"/>
<path d="M310.00,1037.5 l4,4.5 l-4,4.5 Z M310.00,1049.5 l4,4.5 l-4,4.5 Z" fill="inherit" fill-opacity="0.8"/>
<circle cx="312.50" cy="1034.80" r="1.10" fill="inherit" />
<circle cx="320.80" cy="1072.00" r="6.60" fill="inherit" />
<rect x="317.00" y="1082.50" width="7" height="4.3" rx="2" fill="inherit"/>
<path d="M310.00,1062.5 l4,4.5 l-4,4.5 Z M310.00,1074.5 l4,4.5 l-4,4.5 Z" fill="inherit" fill-opacity="0.8"/>
<circle cx="312.50" cy="1059.80" r="1.10" fill="inherit" />
<circle cx="320.80" cy="1097.00" r="6.60" fill="inherit" />
<rect x="317.00" y="1107.50" width="7" height="4.3" rx="2" fill="inherit"/>
<path d="M310.00,1087.5 l4,4.5 l-4,4.5 Z M310.00,1099.5 l4,4.5 l-4,4.5 Z" fill="inherit" fill-opacity="0.8"/>
<circle cx="312.50" cy="1084.80" r="1.10" fill="inherit" />
<circle cx="320.80" cy="1122.00" r="6.60" fill="inherit" />
<path d="M310.00,1112.5 l4,4.5 l-4,4.5 Z M310.00,1124.5 l4,4.5 l-4,4.5 Z" fill="inherit" fill-opacity="0.8"/>
<circle cx="312.50" cy="1109.80" r="1.10" fill="inherit" />
<path d="M327.0,1027.6 L327.0,784 Q327.0,781.4 329.5,781.4 L335.0,781.4 L335.0,1027.6 Z" fill="inherit" stroke="none" stroke-width="1" />
<rect x="335.00" y="784.00" width="1.50" height="243.00" fill="inherit" fill-opacity="0.5"/>
<rect x="333.00" y="1032.00" width="3.00" height="9.00" fill="inherit" />
<rect x="333.00" y="1046.80" width="8.50" height="37.20" fill="inherit" />
<rect x="333.00" y="1087.70" width="8.50" height="53.30" fill="inherit" />
<path d="M317.5,1136.5 L320.5,1131 L323.5,1136.5 Z" fill="inherit" stroke="none" stroke-width="1" />
<rect x="314.50" y="1143.00" width="4.00" height="2.00" fill="inherit" />
<rect x="323.50" y="1143.00" width="4.00" height="2.00" fill="inherit" />
<path d="M343.45000000000005,665.6 L361.45000000000005,665.6 L359.45000000000005,670 L343.45000000000005,670 Z" fill="inherit" stroke="none" stroke-width="1" />
<rect x="343.45" y="672.00" width="2.00" height="36.00" fill="inherit" />
<rect x="348.35" y="672.00" width="2.10" height="36.00" fill="inherit" />
<rect x="350.45" y="672.00" width="2.50" height="36.00" fill="inherit" fill-opacity="0.5"/>
<rect x="352.95" y="683.00" width="4.00" height="25.00" fill="inherit" />
<circle cx="353.95" cy="675.00" r="1.50" fill="inherit" />
<rect x="342.95" y="710.50" width="17.00" height="1.50" fill="inherit" fill-opacity="0.45"/>
<rect x="353.95" y="718.00" width="4.00" height="2.50" fill="inherit" />
<rect x="353.95" y="723.00" width="4.00" height="2.50" fill="inherit" />
<rect x="345.95" y="718.00" width="4.00" height="2.50" fill="inherit" fill-opacity="0.3"/>
<rect x="345.95" y="723.00" width="4.00" height="2.50" fill="inherit" fill-opacity="0.3"/>
<rect x="342.95" y="732.50" width="17.00" height="1.50" fill="inherit" fill-opacity="0.45"/>
<rect x="363.45" y="667.70" width="8.70" height="55.80" fill="inherit" />
<rect x="363.45" y="726.00" width="8.70" height="36.80" fill="inherit" />
<circle cx="350.45" cy="747.40" r="6.20" fill="inherit" />
<circle cx="354.75" cy="746.80" r="5.00" fill="#000000" />
<rect x="347.45" y="757" width="7" height="4" rx="2" fill="inherit"/>
<path d="M341.95,737 l3,6 l-3,6 Z" fill="inherit" fill-opacity="0.8"/>
<rect x="363.45" y="767.00" width="3.00" height="12.00" fill="inherit" />
<rect x="366.95" y="767.00" width="3.00" height="12.00" fill="inherit" fill-opacity="0.35"/>
<circle cx="351.25" cy="772.00" r="6.60" fill="inherit" />
<rect x="347.45" y="782.50" width="7" height="4.3" rx="2" fill="inherit"/>
<path d="M340.45,762.5 l4,4.5 l-4,4.5 Z M340.45,774.5 l4,4.5 l-4,4.5 Z" fill="inherit" fill-opacity="0.8"/>
<circle cx="342.95" cy="759.80" r="1.10" fill="inherit" />
<path d="M354.95000000000005,790.6 L350.95000000000005,790.6 A6.4,6.4 0 0 0 350.95000000000005,803.4 L354.95000000000005,803.4 Z" fill="inherit" stroke="none" stroke-width="1" />
<rect x="347.45" y="807.50" width="7" height="4.3" rx="2" fill="inherit"/>
<path d="M340.45,787.5 l4,4.5 l-4,4.5 Z M340.45,799.5 l4,4.5 l-4,4.5 Z" fill="inherit" fill-opacity="0.8"/>
<circle cx="342.95" cy="784.80" r="1.10" fill="inherit" />
<path d="M354.95000000000005,815.6 L350.95000000000005,815.6 A6.4,6.4 0 0 0 350.95000000000005,828.4 L354.95000000000005,828.4 Z" fill="inherit" stroke="none" stroke-width="1" />
<rect x="347.45" y="832.50" width="7" height="4.3" rx="2" fill="inherit"/>
<path d="M340.45,812.5 l4,4.5 l-4,4.5 Z M340.45,824.5 l4,4.5 l-4,4.5 Z" fill="inherit" fill-opacity="0.8"/>
<circle cx="342.95" cy="809.80" r="1.10" fill="inherit" />
<path d="M354.95000000000005,840.6 L350.95000000000005,840.6 A6.4,6.4 0 0 0 350.95000000000005,853.4 L354.95000000000005,853.4 Z" fill="inherit" stroke="none" stroke-width="1" />
<rect x="347.45" y="857.50" width="7" height="4.3" rx="2" fill="inherit"/>
<path d="M340.45,837.5 l4,4.5 l-4,4.5 Z M340.45,849.5 l4,4.5 l-4,4.5 Z" fill="inherit" fill-opacity="0.8"/>
<circle cx="342.95" cy="834.80" r="1.10" fill="inherit" />
<path d="M354.95000000000005,865.6 L350.95000000000005,865.6 A6.4,6.4 0 0 0 350.95000000000005,878.4 L354.95000000000005,878.4 Z" fill="inherit" stroke="none" stroke-width="1" />
<rect x="347.45" y="882.50" width="7" height="4.3" rx="2" fill="inherit"/>
<path d="M340.45,862.5 l4,4.5 l-4,4.5 Z M340.45,874.5 l4,4.5 l-4,4.5 Z" fill="inherit" fill-opacity="0.8"/>
<circle cx="342.95" cy="859.80" r="1.10" fill="inherit" />
<path d="M354.95000000000005,890.6 L350.95000000000005,890.6 A6.4,6.4 0 0 0 350.95000000000005,903.4 L354.95000000000005,903.4 Z" fill="inherit" stroke="none" stroke-width="1" />
<rect x="347.45" y="907.50" width="7" height="4.3" rx="2" fill="inherit"/>
<path d="M340.45,887.5 l4,4.5 l-4,4.5 Z M340.45,899.5 l4,4.5 l-4,4.5 Z" fill="inherit" fill-opacity="0.8"/>
<circle cx="342.95" cy="884.80" r="1.10" fill="inherit" />
<path d="M354.95000000000005,915.6 L350.95000000000005,915.6 A6.4,6.4 0 0 0 350.95000000000005,928.4 L354.95000000000005,928.4 Z" fill="inherit" stroke="none" stroke-width="1" />
<rect x="347.45" y="932.50" width="7" height="4.3" rx="2" fill="inherit"/>
<path d="M340.45,912.5 l4,4.5 l-4,4.5 Z M340.45,924.5 l4,4.5 l-4,4.5 Z" fill="inherit" fill-opacity="0.8"/>
<circle cx="342.95" cy="909.80" r="1.10" fill="inherit" />
<path d="M354.95000000000005,940.6 L350.95000000000005,940.6 A6.4,6.4 0 0 0 350.95000000000005,953.4 L354.95000000000005,953.4 Z" fill="inherit" stroke="none" stroke-width="1" />
<rect x="347.45" y="957.50" width="7" height="4.3" rx="2" fill="inherit"/>
<path d="M340.45,937.5 l4,4.5 l-4,4.5 Z M340.45,949.5 l4,4.5 l-4,4.5 Z" fill="inherit" fill-opacity="0.8"/>
<circle cx="342.95" cy="934.80" r="1.10" fill="inherit" />
<path d="M354.95000000000005,965.6 L350.95000000000005,965.6 A6.4,6.4 0 0 0 350.95000000000005,978.4 L354.95000000000005,978.4 Z" fill="inherit" stroke="none" stroke-width="1" />
<rect x="347.45" y="982.50" width="7" height="4.3" rx="2" fill="inherit"/>
<path d="M340.45,962.5 l4,4.5 l-4,4.5 Z M340.45,974.5 l4,4.5 l-4,4.5 Z" fill="inherit" fill-opacity="0.8"/>
<circle cx="342.95" cy="959.80" r="1.10" fill="inherit" />
<path d="M354.95000000000005,990.6 L350.95000000000005,990.6 A6.4,6.4 0 0 0 350.95000000000005,1003.4 L354.95000000000005,1003.4 Z" fill="inherit" stroke="none" stroke-width="1" />
<rect x="347.45" y="1007.50" width="7" height="4.3" rx="2" fill="inherit"/>
<path d="M340.45,987.5 l4,4.5 l-4,4.5 Z M340.45,999.5 l4,4.5 l-4,4.5 Z" fill="inherit" fill-opacity="0.8"/>
<circle cx="342.95" cy="984.80" r="1.10" fill="inherit" />
<path d="M354.95000000000005,1015.6 L350.95000000000005,1015.6 A6.4,6.4 0 0 0 350.95000000000005,1028.4 L354.95000000000005,1028.4 Z" fill="inherit" stroke="none" stroke-width="1" />
<rect x="347.45" y="1032.50" width="7" height="4.3" rx="2" fill="inherit"/>
<path d="M340.45,1012.5 l4,4.5 l-4,4.5 Z M340.45,1024.5 l4,4.5 l-4,4.5 Z" fill="inherit" fill-opacity="0.8"/>
<circle cx="342.95" cy="1009.80" r="1.10" fill="inherit" />
<circle cx="351.25" cy="1047.00" r="6.60" fill="inherit" />
<rect x="347.45" y="1057.50" width="7" height="4.3" rx="2" fill="inherit"/>
<path d="M340.45,1037.5 l4,4.5 l-4,4.5 Z M340.45,1049.5 l4,4.5 l-4,4.5 Z" fill="inherit" fill-opacity="0.8"/>
<circle cx="342.95" cy="1034.80" r="1.10" fill="inherit" />
<circle cx="351.25" cy="1072.00" r="6.60" fill="inherit" />
<rect x="347.45" y="1082.50" width="7" height="4.3" rx="2" fill="inherit"/>
<path d="M340.45,1062.5 l4,4.5 l-4,4.5 Z M340.45,1074.5 l4,4.5 l-4,4.5 Z" fill="inherit" fill-opacity="0.8"/>
<circle cx="342.95" cy="1059.80" r="1.10" fill="inherit" />
<circle cx="351.25" cy="1097.00" r="6.60" fill="inherit" />
<rect x="347.45" y="1107.50" width="7" height="4.3" rx="2" fill="inherit"/>
<path d="M340.45,1087.5 l4,4.5 l-4,4.5 Z M340.45,1099.5 l4,4.5 l-4,4.5 Z" fill="inherit" fill-opacity="0.8"/>
<circle cx="342.95" cy="1084.80" r="1.10" fill="inherit" />
<circle cx="351.25" cy="1122.00" r="6.60" fill="inherit" />
<path d="M340.45,1112.5 l4,4.5 l-4,4.5 Z M340.45,1124.5 l4,4.5 l-4,4.5 Z" fill="inherit" fill-opacity="0.8"/>
<circle cx="342.95" cy="1109.80" r="1.10" fill="inherit" />
<path d="M357.45000000000005,1027.6 L357.45000000000005,784 Q357.45000000000005,781.4 359.95000000000005,781.4 L365.45000000000005,781.4 L365.45000000000005,1027.6 Z" fill="inherit" stroke="none" stroke-width="1" />
<rect x="365.45" y="784.00" width="1.50" height="243.00" fill="inherit" fill-opacity="0.5"/>
<rect x="363.45" y="1032.00" width="3.00" height="9.00" fill="inherit" />
<rect x="363.45" y="1046.80" width="8.50" height="37.20" fill="inherit" />
<rect x="363.45" y="1087.70" width="8.50" height="53.30" fill="inherit" />
<path d="M347.95000000000005,1136.5 L350.95000000000005,1131 L353.95000000000005,1136.5 Z" fill="inherit" stroke="none" stroke-width="1" />
<rect x="344.95" y="1143.00" width="4.00" height="2.00" fill="inherit" />
<rect x="353.95" y="1143.00" width="4.00" height="2.00" fill="inherit" />
<path d="M373.90000000000003,665.6 L391.90000000000003,665.6 L389.90000000000003,670 L373.90000000000003,670 Z" fill="inherit" stroke="none" stroke-width="1" />
<rect x="373.90" y="672.00" width="2.00" height="36.00" fill="inherit" />
<rect x="378.80" y="672.00" width="2.10" height="36.00" fill="inherit" />
<rect x="380.90" y="672.00" width="2.50" height="36.00" fill="inherit" fill-opacity="0.5"/>
<rect x="383.40" y="683.00" width="4.00" height="25.00" fill="inherit" />
<circle cx="384.40" cy="675.00" r="1.50" fill="inherit" />
<rect x="373.40" y="710.50" width="17.00" height="1.50" fill="inherit" fill-opacity="0.45"/>
<rect x="384.40" y="718.00" width="4.00" height="2.50" fill="inherit" />
<rect x="384.40" y="723.00" width="4.00" height="2.50" fill="inherit" />
<rect x="376.40" y="718.00" width="4.00" height="2.50" fill="inherit" fill-opacity="0.3"/>
<rect x="376.40" y="723.00" width="4.00" height="2.50" fill="inherit" fill-opacity="0.3"/>
<rect x="373.40" y="732.50" width="17.00" height="1.50" fill="inherit" fill-opacity="0.45"/>
<rect x="393.90" y="667.70" width="8.70" height="55.80" fill="inherit" />
<rect x="393.90" y="726.00" width="8.70" height="36.80" fill="inherit" />
<circle cx="380.90" cy="747.40" r="6.20" fill="inherit" />
<circle cx="385.20" cy="746.80" r="5.00" fill="#000000" />
<rect x="377.90" y="757" width="7" height="4" rx="2" fill="inherit"/>
<path d="M372.40,737 l3,6 l-3,6 Z" fill="inherit" fill-opacity="0.8"/>
<rect x="393.90" y="767.00" width="3.00" height="12.00" fill="inherit" />
<rect x="397.40" y="767.00" width="3.00" height="12.00" fill="inherit" fill-opacity="0.35"/>
<circle cx="381.70" cy="772.00" r="6.60" fill="inherit" />
<rect x="377.90" y="782.50" width="7" height="4.3" rx="2" fill="inherit"/>
<path d="M370.90,762.5 l4,4.5 l-4,4.5 Z M370.90,774.5 l4,4.5 l-4,4.5 Z" fill="inherit" fill-opacity="0.8"/>
<circle cx="373.40" cy="759.80" r="1.10" fill="inherit" />
<path d="M385.40000000000003,790.6 L381.40000000000003,790.6 A6.4,6.4 0 0 0 381.40000000000003,803.4 L385.40000000000003,803.4 Z" fill="inherit" stroke="none" stroke-width="1" />
<rect x="377.90" y="807.50" width="7" height="4.3" rx="2" fill="inherit"/>
<path d="M370.90,787.5 l4,4.5 l-4,4.5 Z M370.90,799.5 l4,4.5 l-4,4.5 Z" fill="inherit" fill-opacity="0.8"/>
<circle cx="373.40" cy="784.80" r="1.10" fill="inherit" />
<path d="M385.40000000000003,815.6 L381.40000000000003,815.6 A6.4,6.4 0 0 0 381.40000000000003,828.4 L385.40000000000003,828.4 Z" fill="inherit" stroke="none" stroke-width="1" />
<rect x="377.90" y="832.50" width="7" height="4.3" rx="2" fill="inherit"/>
<path d="M370.90,812.5 l4,4.5 l-4,4.5 Z M370.90,824.5 l4,4.5 l-4,4.5 Z" fill="inherit" fill-opacity="0.8"/>
<circle cx="373.40" cy="809.80" r="1.10" fill="inherit" />
<path d="M385.40000000000003,840.6 L381.40000000000003,840.6 A6.4,6.4 0 0 0 381.40000000000003,853.4 L385.40000000000003,853.4 Z" fill="inherit" stroke="none" stroke-width="1" />
<rect x="377.90" y="857.50" width="7" height="4.3" rx="2" fill="inherit"/>
<path d="M370.90,837.5 l4,4.5 l-4,4.5 Z M370.90,849.5 l4,4.5 l-4,4.5 Z" fill="inherit" fill-opacity="0.8"/>
<circle cx="373.40" cy="834.80" r="1.10" fill="inherit" />
<path d="M385.40000000000003,865.6 L381.40000000000003,865.6 A6.4,6.4 0 0 0 381.40000000000003,878.4 L385.40000000000003,878.4 Z" fill="inherit" stroke="none" stroke-width="1" />
<rect x="377.90" y="882.50" width="7" height="4.3" rx="2" fill="inherit"/>
<path d="M370.90,862.5 l4,4.5 l-4,4.5 Z M370.90,874.5 l4,4.5 l-4,4.5 Z" fill="inherit" fill-opacity="0.8"/>
<circle cx="373.40" cy="859.80" r="1.10" fill="inherit" />
<path d="M385.40000000000003,890.6 L381.40000000000003,890.6 A6.4,6.4 0 0 0 381.40000000000003,903.4 L385.40000000000003,903.4 Z" fill="inherit" stroke="none" stroke-width="1" />
<rect x="377.90" y="907.50" width="7" height="4.3" rx="2" fill="inherit"/>
<path d="M370.90,887.5 l4,4.5 l-4,4.5 Z M370.90,899.5 l4,4.5 l-4,4.5 Z" fill="inherit" fill-opacity="0.8"/>
<circle cx="373.40" cy="884.80" r="1.10" fill="inherit" />
<path d="M385.40000000000003,915.6 L381.40000000000003,915.6 A6.4,6.4 0 0 0 381.40000000000003,928.4 L385.40000000000003,928.4 Z" fill="inherit" stroke="none" stroke-width="1" />
<rect x="377.90" y="932.50" width="7" height="4.3" rx="2" fill="inherit"/>
<path d="M370.90,912.5 l4,4.5 l-4,4.5 Z M370.90,924.5 l4,4.5 l-4,4.5 Z" fill="inherit" fill-opacity="0.8"/>
<circle cx="373.40" cy="909.80" r="1.10" fill="inherit" />
<path d="M385.40000000000003,940.6 L381.40000000000003,940.6 A6.4,6.4 0 0 0 381.40000000000003,953.4 L385.40000000000003,953.4 Z" fill="inherit" stroke="none" stroke-width="1" />
<rect x="377.90" y="957.50" width="7" height="4.3" rx="2" fill="inherit"/>
<path d="M370.90,937.5 l4,4.5 l-4,4.5 Z M370.90,949.5 l4,4.5 l-4,4.5 Z" fill="inherit" fill-opacity="0.8"/>
<circle cx="373.40" cy="934.80" r="1.10" fill="inherit" />
<path d="M385.40000000000003,965.6 L381.40000000000003,965.6 A6.4,6.4 0 0 0 381.40000000000003,978.4 L385.40000000000003,978.4 Z" fill="inherit" stroke="none" stroke-width="1" />
<rect x="377.90" y="982.50" width="7" height="4.3" rx="2" fill="inherit"/>
<path d="M370.90,962.5 l4,4.5 l-4,4.5 Z M370.90,974.5 l4,4.5 l-4,4.5 Z" fill="inherit" fill-opacity="0.8"/>
<circle cx="373.40" cy="959.80" r="1.10" fill="inherit" />
<path d="M385.40000000000003,990.6 L381.40000000000003,990.6 A6.4,6.4 0 0 0 381.40000000000003,1003.4 L385.40000000000003,1003.4 Z" fill="inherit" stroke="none" stroke-width="1" />
<rect x="377.90" y="1007.50" width="7" height="4.3" rx="2" fill="inherit"/>
<path d="M370.90,987.5 l4,4.5 l-4,4.5 Z M370.90,999.5 l4,4.5 l-4,4.5 Z" fill="inherit" fill-opacity="0.8"/>
<circle cx="373.40" cy="984.80" r="1.10" fill="inherit" />
<path d="M385.40000000000003,1015.6 L381.40000000000003,1015.6 A6.4,6.4 0 0 0 381.40000000000003,1028.4 L385.40000000000003,1028.4 Z" fill="inherit" stroke="none" stroke-width="1" />
<rect x="377.90" y="1032.50" width="7" height="4.3" rx="2" fill="inherit"/>
<path d="M370.90,1012.5 l4,4.5 l-4,4.5 Z M370.90,1024.5 l4,4.5 l-4,4.5 Z" fill="inherit" fill-opacity="0.8"/>
<circle cx="373.40" cy="1009.80" r="1.10" fill="inherit" />
<circle cx="381.70" cy="1047.00" r="6.60" fill="inherit" />
<rect x="377.90" y="1057.50" width="7" height="4.3" rx="2" fill="inherit"/>
<path d="M370.90,1037.5 l4,4.5 l-4,4.5 Z M370.90,1049.5 l4,4.5 l-4,4.5 Z" fill="inherit" fill-opacity="0.8"/>
<circle cx="373.40" cy="1034.80" r="1.10" fill="inherit" />
<circle cx="381.70" cy="1072.00" r="6.60" fill="inherit" />
<rect x="377.90" y="1082.50" width="7" height="4.3" rx="2" fill="inherit"/>
<path d="M370.90,1062.5 l4,4.5 l-4,4.5 Z M370.90,1074.5 l4,4.5 l-4,4.5 Z" fill="inherit" fill-opacity="0.8"/>
<circle cx="373.40" cy="1059.80" r="1.10" fill="inherit" />
<circle cx="381.70" cy="1097.00" r="6.60" fill="inherit" />
<rect x="377.90" y="1107.50" width="7" height="4.3" rx="2" fill="inherit"/>
<path d="M370.90,1087.5 l4,4.5 l-4,4.5 Z M370.90,1099.5 l4,4.5 l-4,4.5 Z" fill="inherit" fill-opacity="0.8"/>
<circle cx="373.40" cy="1084.80" r="1.10" fill="inherit" />
<circle cx="381.70" cy="1122.00" r="6.60" fill="inherit" />
<path d="M370.90,1112.5 l4,4.5 l-4,4.5 Z M370.90,1124.5 l4,4.5 l-4,4.5 Z" fill="inherit" fill-opacity="0.8"/>
<circle cx="373.40" cy="1109.80" r="1.10" fill="inherit" />
<path d="M387.90000000000003,1027.6 L387.90000000000003,784 Q387.90000000000003,781.4 390.40000000000003,781.4 L395.90000000000003,781.4 L395.90000000000003,1027.6 Z" fill="inherit" stroke="none" stroke-width="1" />
<rect x="395.90" y="784.00" width="1.50" height="243.00" fill="inherit" fill-opacity="0.5"/>
<rect x="393.90" y="1032.00" width="3.00" height="9.00" fill="inherit" />
<rect x="393.90" y="1046.80" width="8.50" height="37.20" fill="inherit" />
<rect x="393.90" y="1087.70" width="8.50" height="53.30" fill="inherit" />
<path d="M378.40000000000003,1136.5 L381.40000000000003,1131 L384.40000000000003,1136.5 Z" fill="inherit" stroke="none" stroke-width="1" />
<rect x="375.40" y="1143.00" width="4.00" height="2.00" fill="inherit" />
<rect x="384.40" y="1143.00" width="4.00" height="2.00" fill="inherit" />
<path d="M404.35,665.6 L422.35,665.6 L420.35,670 L404.35,670 Z" fill="inherit" stroke="none" stroke-width="1" />
<rect x="404.35" y="672.00" width="2.00" height="36.00" fill="inherit" />
<rect x="409.25" y="672.00" width="2.10" height="36.00" fill="inherit" />
<rect x="411.35" y="672.00" width="2.50" height="36.00" fill="inherit" fill-opacity="0.5"/>
<rect x="413.85" y="683.00" width="4.00" height="25.00" fill="inherit" />
<circle cx="414.85" cy="675.00" r="1.50" fill="inherit" />
<rect x="403.85" y="710.50" width="17.00" height="1.50" fill="inherit" fill-opacity="0.45"/>
<rect x="414.85" y="718.00" width="4.00" height="2.50" fill="inherit" />
<rect x="414.85" y="723.00" width="4.00" height="2.50" fill="inherit" />
<rect x="406.85" y="718.00" width="4.00" height="2.50" fill="inherit" fill-opacity="0.3"/>
<rect x="406.85" y="723.00" width="4.00" height="2.50" fill="inherit" fill-opacity="0.3"/>
<rect x="403.85" y="732.50" width="17.00" height="1.50" fill="inherit" fill-opacity="0.45"/>
<rect x="424.35" y="667.70" width="8.70" height="55.80" fill="inherit" />
<rect x="424.35" y="726.00" width="8.70" height="36.80" fill="inherit" />
<circle cx="411.35" cy="747.40" r="6.20" fill="inherit" />
<circle cx="415.65" cy="746.80" r="5.00" fill="#000000" />
<rect x="408.35" y="757" width="7" height="4" rx="2" fill="inherit"/>
<path d="M402.85,737 l3,6 l-3,6 Z" fill="inherit" fill-opacity="0.8"/>
<rect x="424.35" y="767.00" width="3.00" height="12.00" fill="inherit" />
<rect x="427.85" y="767.00" width="3.00" height="12.00" fill="inherit" fill-opacity="0.35"/>
<circle cx="412.15" cy="772.00" r="6.60" fill="inherit" />
<rect x="408.35" y="782.50" width="7" height="4.3" rx="2" fill="inherit"/>
<path d="M401.35,762.5 l4,4.5 l-4,4.5 Z M401.35,774.5 l4,4.5 l-4,4.5 Z" fill="inherit" fill-opacity="0.8"/>
<circle cx="403.85" cy="759.80" r="1.10" fill="inherit" />
<path d="M415.85,790.6 L411.85,790.6 A6.4,6.4 0 0 0 411.85,803.4 L415.85,803.4 Z" fill="inherit" stroke="none" stroke-width="1" />
<rect x="408.35" y="807.50" width="7" height="4.3" rx="2" fill="inherit"/>
<path d="M401.35,787.5 l4,4.5 l-4,4.5 Z M401.35,799.5 l4,4.5 l-4,4.5 Z" fill="inherit" fill-opacity="0.8"/>
<circle cx="403.85" cy="784.80" r="1.10" fill="inherit" />
<path d="M415.85,815.6 L411.85,815.6 A6.4,6.4 0 0 0 411.85,828.4 L415.85,828.4 Z" fill="inherit" stroke="none" stroke-width="1" />
<rect x="408.35" y="832.50" width="7" height="4.3" rx="2" fill="inherit"/>
<path d="M401.35,812.5 l4,4.5 l-4,4.5 Z M401.35,824.5 l4,4.5 l-4,4.5 Z" fill="inherit" fill-opacity="0.8"/>
<circle cx="403.85" cy="809.80" r="1.10" fill="inherit" />
<path d="M415.85,840.6 L411.85,840.6 A6.4,6.4 0 0 0 411.85,853.4 L415.85,853.4 Z" fill="inherit" stroke="none" stroke-width="1" />
<rect x="408.35" y="857.50" width="7" height="4.3" rx="2" fill="inherit"/>
<path d="M401.35,837.5 l4,4.5 l-4,4.5 Z M401.35,849.5 l4,4.5 l-4,4.5 Z" fill="inherit" fill-opacity="0.8"/>
<circle cx="403.85" cy="834.80" r="1.10" fill="inherit" />
<path d="M415.85,865.6 L411.85,865.6 A6.4,6.4 0 0 0 411.85,878.4 L415.85,878.4 Z" fill="inherit" stroke="none" stroke-width="1" />
<rect x="408.35" y="882.50" width="7" height="4.3" rx="2" fill="inherit"/>
<path d="M401.35,862.5 l4,4.5 l-4,4.5 Z M401.35,874.5 l4,4.5 l-4,4.5 Z" fill="inherit" fill-opacity="0.8"/>
<circle cx="403.85" cy="859.80" r="1.10" fill="inherit" />
<path d="M415.85,890.6 L411.85,890.6 A6.4,6.4 0 0 0 411.85,903.4 L415.85,903.4 Z" fill="inherit" stroke="none" stroke-width="1" />
<rect x="408.35" y="907.50" width="7" height="4.3" rx="2" fill="inherit"/>
<path d="M401.35,887.5 l4,4.5 l-4,4.5 Z M401.35,899.5 l4,4.5 l-4,4.5 Z" fill="inherit" fill-opacity="0.8"/>
<circle cx="403.85" cy="884.80" r="1.10" fill="inherit" />
<path d="M415.85,915.6 L411.85,915.6 A6.4,6.4 0 0 0 411.85,928.4 L415.85,928.4 Z" fill="inherit" stroke="none" stroke-width="1" />
<rect x="408.35" y="932.50" width="7" height="4.3" rx="2" fill="inherit"/>
<path d="M401.35,912.5 l4,4.5 l-4,4.5 Z M401.35,924.5 l4,4.5 l-4,4.5 Z" fill="inherit" fill-opacity="0.8"/>
<circle cx="403.85" cy="909.80" r="1.10" fill="inherit" />
<path d="M415.85,940.6 L411.85,940.6 A6.4,6.4 0 0 0 411.85,953.4 L415.85,953.4 Z" fill="inherit" stroke="none" stroke-width="1" />
<rect x="408.35" y="957.50" width="7" height="4.3" rx="2" fill="inherit"/>
<path d="M401.35,937.5 l4,4.5 l-4,4.5 Z M401.35,949.5 l4,4.5 l-4,4.5 Z" fill="inherit" fill-opacity="0.8"/>
<circle cx="403.85" cy="934.80" r="1.10" fill="inherit" />
<path d="M415.85,965.6 L411.85,965.6 A6.4,6.4 0 0 0 411.85,978.4 L415.85,978.4 Z" fill="inherit" stroke="none" stroke-width="1" />
<rect x="408.35" y="982.50" width="7" height="4.3" rx="2" fill="inherit"/>
<path d="M401.35,962.5 l4,4.5 l-4,4.5 Z M401.35,974.5 l4,4.5 l-4,4.5 Z" fill="inherit" fill-opacity="0.8"/>
<circle cx="403.85" cy="959.80" r="1.10" fill="inherit" />
<path d="M415.85,990.6 L411.85,990.6 A6.4,6.4 0 0 0 411.85,1003.4 L415.85,1003.4 Z" fill="inherit" stroke="none" stroke-width="1" />
<rect x="408.35" y="1007.50" width="7" height="4.3" rx="2" fill="inherit"/>
<path d="M401.35,987.5 l4,4.5 l-4,4.5 Z M401.35,999.5 l4,4.5 l-4,4.5 Z" fill="inherit" fill-opacity="0.8"/>
<circle cx="403.85" cy="984.80" r="1.10" fill="inherit" />
<path d="M415.85,1015.6 L411.85,1015.6 A6.4,6.4 0 0 0 411.85,1028.4 L415.85,1028.4 Z" fill="inherit" stroke="none" stroke-width="1" />
<rect x="408.35" y="1032.50" width="7" height="4.3" rx="2" fill="inherit"/>
<path d="M401.35,1012.5 l4,4.5 l-4,4.5 Z M401.35,1024.5 l4,4.5 l-4,4.5 Z" fill="inherit" fill-opacity="0.8"/>
<circle cx="403.85" cy="1009.80" r="1.10" fill="inherit" />
<circle cx="412.15" cy="1047.00" r="6.60" fill="inherit" />
<rect x="408.35" y="1057.50" width="7" height="4.3" rx="2" fill="inherit"/>
<path d="M401.35,1037.5 l4,4.5 l-4,4.5 Z M401.35,1049.5 l4,4.5 l-4,4.5 Z" fill="inherit" fill-opacity="0.8"/>
<circle cx="403.85" cy="1034.80" r="1.10" fill="inherit" />
<circle cx="412.15" cy="1072.00" r="6.60" fill="inherit" />
<rect x="408.35" y="1082.50" width="7" height="4.3" rx="2" fill="inherit"/>
<path d="M401.35,1062.5 l4,4.5 l-4,4.5 Z M401.35,1074.5 l4,4.5 l-4,4.5 Z" fill="inherit" fill-opacity="0.8"/>
<circle cx="403.85" cy="1059.80" r="1.10" fill="inherit" />
<circle cx="412.15" cy="1097.00" r="6.60" fill="inherit" />
<rect x="408.35" y="1107.50" width="7" height="4.3" rx="2" fill="inherit"/>
<path d="M401.35,1087.5 l4,4.5 l-4,4.5 Z M401.35,1099.5 l4,4.5 l-4,4.5 Z" fill="inherit" fill-opacity="0.8"/>
<circle cx="403.85" cy="1084.80" r="1.10" fill="inherit" />
<circle cx="412.15" cy="1122.00" r="6.60" fill="inherit" />
<path d="M401.35,1112.5 l4,4.5 l-4,4.5 Z M401.35,1124.5 l4,4.5 l-4,4.5 Z" fill="inherit" fill-opacity="0.8"/>
<circle cx="403.85" cy="1109.80" r="1.10" fill="inherit" />
<path d="M418.35,1027.6 L418.35,784 Q418.35,781.4 420.85,781.4 L426.35,781.4 L426.35,1027.6 Z" fill="inherit" stroke="none" stroke-width="1" />
<rect x="426.35" y="784.00" width="1.50" height="243.00" fill="inherit" fill-opacity="0.5"/>
<rect x="424.35" y="1032.00" width="3.00" height="9.00" fill="inherit" />
<rect x="424.35" y="1046.80" width="8.50" height="37.20" fill="inherit" />
<rect x="424.35" y="1087.70" width="8.50" height="53.30" fill="inherit" />
<path d="M408.85,1136.5 L411.85,1131 L414.85,1136.5 Z" fill="inherit" stroke="none" stroke-width="1" />
<rect x="405.85" y="1143.00" width="4.00" height="2.00" fill="inherit" />
<rect x="414.85" y="1143.00" width="4.00" height="2.00" fill="inherit" />
<path d="M434.8,665.6 L452.8,665.6 L450.8,670 L434.8,670 Z" fill="inherit" stroke="none" stroke-width="1" />
<rect x="434.80" y="672.00" width="2.00" height="36.00" fill="inherit" />
<rect x="439.70" y="672.00" width="2.10" height="36.00" fill="inherit" />
<rect x="441.80" y="672.00" width="2.50" height="36.00" fill="inherit" fill-opacity="0.5"/>
<rect x="444.30" y="683.00" width="4.00" height="25.00" fill="inherit" />
<circle cx="445.30" cy="675.00" r="1.50" fill="inherit" />
<rect x="434.30" y="710.50" width="17.00" height="1.50" fill="inherit" fill-opacity="0.45"/>
<rect x="445.30" y="718.00" width="4.00" height="2.50" fill="inherit" />
<rect x="445.30" y="723.00" width="4.00" height="2.50" fill="inherit" />
<rect x="437.30" y="718.00" width="4.00" height="2.50" fill="inherit" fill-opacity="0.3"/>
<rect x="437.30" y="723.00" width="4.00" height="2.50" fill="inherit" fill-opacity="0.3"/>
<rect x="434.30" y="732.50" width="17.00" height="1.50" fill="inherit" fill-opacity="0.45"/>
<rect x="454.80" y="667.70" width="8.70" height="55.80" fill="inherit" />
<rect x="454.80" y="726.00" width="8.70" height="36.80" fill="inherit" />
<circle cx="441.80" cy="747.40" r="6.20" fill="inherit" />
<circle cx="446.10" cy="746.80" r="5.00" fill="#000000" />
<rect x="438.80" y="757" width="7" height="4" rx="2" fill="inherit"/>
<path d="M433.30,737 l3,6 l-3,6 Z" fill="inherit" fill-opacity="0.8"/>
<rect x="454.80" y="767.00" width="3.00" height="12.00" fill="inherit" />
<rect x="458.30" y="767.00" width="3.00" height="12.00" fill="inherit" fill-opacity="0.35"/>
<circle cx="442.60" cy="772.00" r="6.60" fill="inherit" />
<rect x="438.80" y="782.50" width="7" height="4.3" rx="2" fill="inherit"/>
<path d="M431.80,762.5 l4,4.5 l-4,4.5 Z M431.80,774.5 l4,4.5 l-4,4.5 Z" fill="inherit" fill-opacity="0.8"/>
<circle cx="434.30" cy="759.80" r="1.10" fill="inherit" />
<path d="M446.3,790.6 L442.3,790.6 A6.4,6.4 0 0 0 442.3,803.4 L446.3,803.4 Z" fill="inherit" stroke="none" stroke-width="1" />
<rect x="438.80" y="807.50" width="7" height="4.3" rx="2" fill="inherit"/>
<path d="M431.80,787.5 l4,4.5 l-4,4.5 Z M431.80,799.5 l4,4.5 l-4,4.5 Z" fill="inherit" fill-opacity="0.8"/>
<circle cx="434.30" cy="784.80" r="1.10" fill="inherit" />
<path d="M446.3,815.6 L442.3,815.6 A6.4,6.4 0 0 0 442.3,828.4 L446.3,828.4 Z" fill="inherit" stroke="none" stroke-width="1" />
<rect x="438.80" y="832.50" width="7" height="4.3" rx="2" fill="inherit"/>
<path d="M431.80,812.5 l4,4.5 l-4,4.5 Z M431.80,824.5 l4,4.5 l-4,4.5 Z" fill="inherit" fill-opacity="0.8"/>
<circle cx="434.30" cy="809.80" r="1.10" fill="inherit" />
<path d="M446.3,840.6 L442.3,840.6 A6.4,6.4 0 0 0 442.3,853.4 L446.3,853.4 Z" fill="inherit" stroke="none" stroke-width="1" />
<rect x="438.80" y="857.50" width="7" height="4.3" rx="2" fill="inherit"/>
<path d="M431.80,837.5 l4,4.5 l-4,4.5 Z M431.80,849.5 l4,4.5 l-4,4.5 Z" fill="inherit" fill-opacity="0.8"/>
<circle cx="434.30" cy="834.80" r="1.10" fill="inherit" />
<path d="M446.3,865.6 L442.3,865.6 A6.4,6.4 0 0 0 442.3,878.4 L446.3,878.4 Z" fill="inherit" stroke="none" stroke-width="1" />
<rect x="438.80" y="882.50" width="7" height="4.3" rx="2" fill="inherit"/>
<path d="M431.80,862.5 l4,4.5 l-4,4.5 Z M431.80,874.5 l4,4.5 l-4,4.5 Z" fill="inherit" fill-opacity="0.8"/>
<circle cx="434.30" cy="859.80" r="1.10" fill="inherit" />
<path d="M446.3,890.6 L442.3,890.6 A6.4,6.4 0 0 0 442.3,903.4 L446.3,903.4 Z" fill="inherit" stroke="none" stroke-width="1" />
<rect x="438.80" y="907.50" width="7" height="4.3" rx="2" fill="inherit"/>
<path d="M431.80,887.5 l4,4.5 l-4,4.5 Z M431.80,899.5 l4,4.5 l-4,4.5 Z" fill="inherit" fill-opacity="0.8"/>
<circle cx="434.30" cy="884.80" r="1.10" fill="inherit" />
<path d="M446.3,915.6 L442.3,915.6 A6.4,6.4 0 0 0 442.3,928.4 L446.3,928.4 Z" fill="inherit" stroke="none" stroke-width="1" />
<rect x="438.80" y="932.50" width="7" height="4.3" rx="2" fill="inherit"/>
<path d="M431.80,912.5 l4,4.5 l-4,4.5 Z M431.80,924.5 l4,4.5 l-4,4.5 Z" fill="inherit" fill-opacity="0.8"/>
<circle cx="434.30" cy="909.80" r="1.10" fill="inherit" />
<path d="M446.3,940.6 L442.3,940.6 A6.4,6.4 0 0 0 442.3,953.4 L446.3,953.4 Z" fill="inherit" stroke="none" stroke-width="1" />
<rect x="438.80" y="957.50" width="7" height="4.3" rx="2" fill="inherit"/>
<path d="M431.80,937.5 l4,4.5 l-4,4.5 Z M431.80,949.5 l4,4.5 l-4,4.5 Z" fill="inherit" fill-opacity="0.8"/>
<circle cx="434.30" cy="934.80" r="1.10" fill="inherit" />
<path d="M446.3,965.6 L442.3,965.6 A6.4,6.4 0 0 0 442.3,978.4 L446.3,978.4 Z" fill="inherit" stroke="none" stroke-width="1" />
<rect x="438.80" y="982.50" width="7" height="4.3" rx="2" fill="inherit"/>
<path d="M431.80,962.5 l4,4.5 l-4,4.5 Z M431.80,974.5 l4,4.5 l-4,4.5 Z" fill="inherit" fill-opacity="0.8"/>
<circle cx="434.30" cy="959.80" r="1.10" fill="inherit" />
<path d="M446.3,990.6 L442.3,990.6 A6.4,6.4 0 0 0 442.3,1003.4 L446.3,1003.4 Z" fill="inherit" stroke="none" stroke-width="1" />
<rect x="438.80" y="1007.50" width="7" height="4.3" rx="2" fill="inherit"/>
<path d="M431.80,987.5 l4,4.5 l-4,4.5 Z M431.80,999.5 l4,4.5 l-4,4.5 Z" fill="inherit" fill-opacity="0.8"/>
<circle cx="434.30" cy="984.80" r="1.10" fill="inherit" />
<path d="M446.3,1015.6 L442.3,1015.6 A6.4,6.4 0 0 0 442.3,1028.4 L446.3,1028.4 Z" fill="inherit" stroke="none" stroke-width="1" />
<rect x="438.80" y="1032.50" width="7" height="4.3" rx="2" fill="inherit"/>
<path d="M431.80,1012.5 l4,4.5 l-4,4.5 Z M431.80,1024.5 l4,4.5 l-4,4.5 Z" fill="inherit" fill-opacity="0.8"/>
<circle cx="434.30" cy="1009.80" r="1.10" fill="inherit" />
<circle cx="442.60" cy="1047.00" r="6.60" fill="inherit" />
<rect x="438.80" y="1057.50" width="7" height="4.3" rx="2" fill="inherit"/>
<path d="M431.80,1037.5 l4,4.5 l-4,4.5 Z M431.80,1049.5 l4,4.5 l-4,4.5 Z" fill="inherit" fill-opacity="0.8"/>
<circle cx="434.30" cy="1034.80" r="1.10" fill="inherit" />
<circle cx="442.60" cy="1072.00" r="6.60" fill="inherit" />
<rect x="438.80" y="1082.50" width="7" height="4.3" rx="2" fill="inherit"/>
<path d="M431.80,1062.5 l4,4.5 l-4,4.5 Z M431.80,1074.5 l4,4.5 l-4,4.5 Z" fill="inherit" fill-opacity="0.8"/>
<circle cx="434.30" cy="1059.80" r="1.10" fill="inherit" />
<circle cx="442.60" cy="1097.00" r="6.60" fill="inherit" />
<rect x="438.80" y="1107.50" width="7" height="4.3" rx="2" fill="inherit"/>
<path d="M431.80,1087.5 l4,4.5 l-4,4.5 Z M431.80,1099.5 l4,4.5 l-4,4.5 Z" fill="inherit" fill-opacity="0.8"/>
<circle cx="434.30" cy="1084.80" r="1.10" fill="inherit" />
<circle cx="442.60" cy="1122.00" r="6.60" fill="inherit" />
<path d="M431.80,1112.5 l4,4.5 l-4,4.5 Z M431.80,1124.5 l4,4.5 l-4,4.5 Z" fill="inherit" fill-opacity="0.8"/>
<circle cx="434.30" cy="1109.80" r="1.10" fill="inherit" />
<path d="M448.8,1027.6 L448.8,784 Q448.8,781.4 451.3,781.4 L456.8,781.4 L456.8,1027.6 Z" fill="inherit" stroke="none" stroke-width="1" />
<rect x="456.80" y="784.00" width="1.50" height="243.00" fill="inherit" fill-opacity="0.5"/>
<rect x="454.80" y="1032.00" width="3.00" height="9.00" fill="inherit" />
<rect x="454.80" y="1046.80" width="8.50" height="37.20" fill="inherit" />
<rect x="454.80" y="1087.70" width="8.50" height="53.30" fill="inherit" />
<path d="M439.3,1136.5 L442.3,1131 L445.3,1136.5 Z" fill="inherit" stroke="none" stroke-width="1" />
<rect x="436.30" y="1143.00" width="4.00" height="2.00" fill="inherit" />
<rect x="445.30" y="1143.00" width="4.00" height="2.00" fill="inherit" />
<path d="M465.25,665.6 L483.25,665.6 L481.25,670 L465.25,670 Z" fill="inherit" stroke="none" stroke-width="1" />
<rect x="465.25" y="672.00" width="2.00" height="36.00" fill="inherit" />
<rect x="470.15" y="672.00" width="2.10" height="36.00" fill="inherit" />
<rect x="472.25" y="672.00" width="2.50" height="36.00" fill="inherit" fill-opacity="0.5"/>
<rect x="474.75" y="683.00" width="4.00" height="25.00" fill="inherit" />
<circle cx="475.75" cy="675.00" r="1.50" fill="inherit" />
<rect x="464.75" y="710.50" width="17.00" height="1.50" fill="inherit" fill-opacity="0.45"/>
<rect x="475.75" y="718.00" width="4.00" height="2.50" fill="inherit" />
<rect x="475.75" y="723.00" width="4.00" height="2.50" fill="inherit" />
<rect x="467.75" y="718.00" width="4.00" height="2.50" fill="inherit" fill-opacity="0.3"/>
<rect x="467.75" y="723.00" width="4.00" height="2.50" fill="inherit" fill-opacity="0.3"/>
<rect x="464.75" y="732.50" width="17.00" height="1.50" fill="inherit" fill-opacity="0.45"/>
<rect x="485.25" y="667.70" width="8.70" height="55.80" fill="inherit" />
<rect x="485.25" y="726.00" width="8.70" height="36.80" fill="inherit" />
<circle cx="472.25" cy="747.40" r="6.20" fill="inherit" />
<circle cx="476.55" cy="746.80" r="5.00" fill="#000000" />
<rect x="469.25" y="757" width="7" height="4" rx="2" fill="inherit"/>
<path d="M463.75,737 l3,6 l-3,6 Z" fill="inherit" fill-opacity="0.8"/>
<rect x="485.25" y="767.00" width="3.00" height="12.00" fill="inherit" />
<rect x="488.75" y="767.00" width="3.00" height="12.00" fill="inherit" fill-opacity="0.35"/>
<circle cx="473.05" cy="772.00" r="6.60" fill="inherit" />
<rect x="469.25" y="782.50" width="7" height="4.3" rx="2" fill="inherit"/>
<path d="M462.25,762.5 l4,4.5 l-4,4.5 Z M462.25,774.5 l4,4.5 l-4,4.5 Z" fill="inherit" fill-opacity="0.8"/>
<circle cx="464.75" cy="759.80" r="1.10" fill="inherit" />
<path d="M476.75,790.6 L472.75,790.6 A6.4,6.4 0 0 0 472.75,803.4 L476.75,803.4 Z" fill="inherit" stroke="none" stroke-width="1" />
<rect x="469.25" y="807.50" width="7" height="4.3" rx="2" fill="inherit"/>
<path d="M462.25,787.5 l4,4.5 l-4,4.5 Z M462.25,799.5 l4,4.5 l-4,4.5 Z" fill="inherit" fill-opacity="0.8"/>
<circle cx="464.75" cy="784.80" r="1.10" fill="inherit" />
<path d="M476.75,815.6 L472.75,815.6 A6.4,6.4 0 0 0 472.75,828.4 L476.75,828.4 Z" fill="inherit" stroke="none" stroke-width="1" />
<rect x="469.25" y="832.50" width="7" height="4.3" rx="2" fill="inherit"/>
<path d="M462.25,812.5 l4,4.5 l-4,4.5 Z M462.25,824.5 l4,4.5 l-4,4.5 Z" fill="inherit" fill-opacity="0.8"/>
<circle cx="464.75" cy="809.80" r="1.10" fill="inherit" />
<path d="M476.75,840.6 L472.75,840.6 A6.4,6.4 0 0 0 472.75,853.4 L476.75,853.4 Z" fill="inherit" stroke="none" stroke-width="1" />
<rect x="469.25" y="857.50" width="7" height="4.3" rx="2" fill="inherit"/>
<path d="M462.25,837.5 l4,4.5 l-4,4.5 Z M462.25,849.5 l4,4.5 l-4,4.5 Z" fill="inherit" fill-opacity="0.8"/>
<circle cx="464.75" cy="834.80" r="1.10" fill="inherit" />
<path d="M476.75,865.6 L472.75,865.6 A6.4,6.4 0 0 0 472.75,878.4 L476.75,878.4 Z" fill="inherit" stroke="none" stroke-width="1" />
<rect x="469.25" y="882.50" width="7" height="4.3" rx="2" fill="inherit"/>
<path d="M462.25,862.5 l4,4.5 l-4,4.5 Z M462.25,874.5 l4,4.5 l-4,4.5 Z" fill="inherit" fill-opacity="0.8"/>
<circle cx="464.75" cy="859.80" r="1.10" fill="inherit" />
<path d="M476.75,890.6 L472.75,890.6 A6.4,6.4 0 0 0 472.75,903.4 L476.75,903.4 Z" fill="inherit" stroke="none" stroke-width="1" />
<rect x="469.25" y="907.50" width="7" height="4.3" rx="2" fill="inherit"/>
<path d="M462.25,887.5 l4,4.5 l-4,4.5 Z M462.25,899.5 l4,4.5 l-4,4.5 Z" fill="inherit" fill-opacity="0.8"/>
<circle cx="464.75" cy="884.80" r="1.10" fill="inherit" />
<path d="M476.75,915.6 L472.75,915.6 A6.4,6.4 0 0 0 472.75,928.4 L476.75,928.4 Z" fill="inherit" stroke="none" stroke-width="1" />
<rect x="469.25" y="932.50" width="7" height="4.3" rx="2" fill="inherit"/>
<path d="M462.25,912.5 l4,4.5 l-4,4.5 Z M462.25,924.5 l4,4.5 l-4,4.5 Z" fill="inherit" fill-opacity="0.8"/>
<circle cx="464.75" cy="909.80" r="1.10" fill="inherit" />
<path d="M476.75,940.6 L472.75,940.6 A6.4,6.4 0 0 0 472.75,953.4 L476.75,953.4 Z" fill="inherit" stroke="none" stroke-width="1" />
<rect x="469.25" y="957.50" width="7" height="4.3" rx="2" fill="inherit"/>
<path d="M462.25,937.5 l4,4.5 l-4,4.5 Z M462.25,949.5 l4,4.5 l-4,4.5 Z" fill="inherit" fill-opacity="0.8"/>
<circle cx="464.75" cy="934.80" r="1.10" fill="inherit" />
<path d="M476.75,965.6 L472.75,965.6 A6.4,6.4 0 0 0 472.75,978.4 L476.75,978.4 Z" fill="inherit" stroke="none" stroke-width="1" />
<rect x="469.25" y="982.50" width="7" height="4.3" rx="2" fill="inherit"/>
<path d="M462.25,962.5 l4,4.5 l-4,4.5 Z M462.25,974.5 l4,4.5 l-4,4.5 Z" fill="inherit" fill-opacity="0.8"/>
<circle cx="464.75" cy="959.80" r="1.10" fill="inherit" />
<path d="M476.75,990.6 L472.75,990.6 A6.4,6.4 0 0 0 472.75,1003.4 L476.75,1003.4 Z" fill="inherit" stroke="none" stroke-width="1" />
<rect x="469.25" y="1007.50" width="7" height="4.3" rx="2" fill="inherit"/>
<path d="M462.25,987.5 l4,4.5 l-4,4.5 Z M462.25,999.5 l4,4.5 l-4,4.5 Z" fill="inherit" fill-opacity="0.8"/>
<circle cx="464.75" cy="984.80" r="1.10" fill="inherit" />
<path d="M476.75,1015.6 L472.75,1015.6 A6.4,6.4 0 0 0 472.75,1028.4 L476.75,1028.4 Z" fill="inherit" stroke="none" stroke-width="1" />
<rect x="469.25" y="1032.50" width="7" height="4.3" rx="2" fill="inherit"/>
<path d="M462.25,1012.5 l4,4.5 l-4,4.5 Z M462.25,1024.5 l4,4.5 l-4,4.5 Z" fill="inherit" fill-opacity="0.8"/>
<circle cx="464.75" cy="1009.80" r="1.10" fill="inherit" />
<circle cx="473.05" cy="1047.00" r="6.60" fill="inherit" />
<rect x="469.25" y="1057.50" width="7" height="4.3" rx="2" fill="inherit"/>
<path d="M462.25,1037.5 l4,4.5 l-4,4.5 Z M462.25,1049.5 l4,4.5 l-4,4.5 Z" fill="inherit" fill-opacity="0.8"/>
<circle cx="464.75" cy="1034.80" r="1.10" fill="inherit" />
<circle cx="473.05" cy="1072.00" r="6.60" fill="inherit" />
<rect x="469.25" y="1082.50" width="7" height="4.3" rx="2" fill="inherit"/>
<path d="M462.25,1062.5 l4,4.5 l-4,4.5 Z M462.25,1074.5 l4,4.5 l-4,4.5 Z" fill="inherit" fill-opacity="0.8"/>
<circle cx="464.75" cy="1059.80" r="1.10" fill="inherit" />
<circle cx="473.05" cy="1097.00" r="6.60" fill="inherit" />
<rect x="469.25" y="1107.50" width="7" height="4.3" rx="2" fill="inherit"/>
<path d="M462.25,1087.5 l4,4.5 l-4,4.5 Z M462.25,1099.5 l4,4.5 l-4,4.5 Z" fill="inherit" fill-opacity="0.8"/>
<circle cx="464.75" cy="1084.80" r="1.10" fill="inherit" />
<circle cx="473.05" cy="1122.00" r="6.60" fill="inherit" />
<path d="M462.25,1112.5 l4,4.5 l-4,4.5 Z M462.25,1124.5 l4,4.5 l-4,4.5 Z" fill="inherit" fill-opacity="0.8"/>
<circle cx="464.75" cy="1109.80" r="1.10" fill="inherit" />
<path d="M479.25,1027.6 L479.25,784 Q479.25,781.4 481.75,781.4 L487.25,781.4 L487.25,1027.6 Z" fill="inherit" stroke="none" stroke-width="1" />
<rect x="487.25" y="784.00" width="1.50" height="243.00" fill="inherit" fill-opacity="0.5"/>
<rect x="485.25" y="1032.00" width="3.00" height="9.00" fill="inherit" />
<rect x="485.25" y="1046.80" width="8.50" height="37.20" fill="inherit" />
<rect x="485.25" y="1087.70" width="8.50" height="53.30" fill="inherit" />
<path d="M469.75,1136.5 L472.75,1131 L475.75,1136.5 Z" fill="inherit" stroke="none" stroke-width="1" />
<rect x="466.75" y="1143.00" width="4.00" height="2.00" fill="inherit" />
<rect x="475.75" y="1143.00" width="4.00" height="2.00" fill="inherit" />
<path d="M495.70000000000005,665.6 L513.7,665.6 L511.70000000000005,670 L495.70000000000005,670 Z" fill="inherit" stroke="none" stroke-width="1" />
<rect x="495.70" y="672.00" width="2.00" height="36.00" fill="inherit" />
<rect x="500.60" y="672.00" width="2.10" height="36.00" fill="inherit" />
<rect x="502.70" y="672.00" width="2.50" height="36.00" fill="inherit" fill-opacity="0.5"/>
<rect x="505.20" y="683.00" width="4.00" height="25.00" fill="inherit" />
<circle cx="506.20" cy="675.00" r="1.50" fill="inherit" />
<rect x="495.20" y="710.50" width="17.00" height="1.50" fill="inherit" fill-opacity="0.45"/>
<rect x="506.20" y="718.00" width="4.00" height="2.50" fill="inherit" />
<rect x="506.20" y="723.00" width="4.00" height="2.50" fill="inherit" />
<rect x="498.20" y="718.00" width="4.00" height="2.50" fill="inherit" fill-opacity="0.3"/>
<rect x="498.20" y="723.00" width="4.00" height="2.50" fill="inherit" fill-opacity="0.3"/>
<rect x="495.20" y="732.50" width="17.00" height="1.50" fill="inherit" fill-opacity="0.45"/>
<rect x="515.70" y="667.70" width="8.70" height="55.80" fill="inherit" />
<rect x="515.70" y="726.00" width="8.70" height="36.80" fill="inherit" />
<circle cx="502.70" cy="747.40" r="6.20" fill="inherit" />
<circle cx="507.00" cy="746.80" r="5.00" fill="#000000" />
<rect x="499.70" y="757" width="7" height="4" rx="2" fill="inherit"/>
<path d="M494.20,737 l3,6 l-3,6 Z" fill="inherit" fill-opacity="0.8"/>
<rect x="515.70" y="767.00" width="3.00" height="12.00" fill="inherit" />
<rect x="519.20" y="767.00" width="3.00" height="12.00" fill="inherit" fill-opacity="0.35"/>
<circle cx="503.50" cy="772.00" r="6.60" fill="inherit" />
<rect x="499.70" y="782.50" width="7" height="4.3" rx="2" fill="inherit"/>
<path d="M492.70,762.5 l4,4.5 l-4,4.5 Z M492.70,774.5 l4,4.5 l-4,4.5 Z" fill="inherit" fill-opacity="0.8"/>
<circle cx="495.20" cy="759.80" r="1.10" fill="inherit" />
<path d="M507.20000000000005,790.6 L503.20000000000005,790.6 A6.4,6.4 0 0 0 503.20000000000005,803.4 L507.20000000000005,803.4 Z" fill="inherit" stroke="none" stroke-width="1" />
<rect x="499.70" y="807.50" width="7" height="4.3" rx="2" fill="inherit"/>
<path d="M492.70,787.5 l4,4.5 l-4,4.5 Z M492.70,799.5 l4,4.5 l-4,4.5 Z" fill="inherit" fill-opacity="0.8"/>
<circle cx="495.20" cy="784.80" r="1.10" fill="inherit" />
<path d="M507.20000000000005,815.6 L503.20000000000005,815.6 A6.4,6.4 0 0 0 503.20000000000005,828.4 L507.20000000000005,828.4 Z" fill="inherit" stroke="none" stroke-width="1" />
<rect x="499.70" y="832.50" width="7" height="4.3" rx="2" fill="inherit"/>
<path d="M492.70,812.5 l4,4.5 l-4,4.5 Z M492.70,824.5 l4,4.5 l-4,4.5 Z" fill="inherit" fill-opacity="0.8"/>
<circle cx="495.20" cy="809.80" r="1.10" fill="inherit" />
<path d="M507.20000000000005,840.6 L503.20000000000005,840.6 A6.4,6.4 0 0 0 503.20000000000005,853.4 L507.20000000000005,853.4 Z" fill="inherit" stroke="none" stroke-width="1" />
<rect x="499.70" y="857.50" width="7" height="4.3" rx="2" fill="inherit"/>
<path d="M492.70,837.5 l4,4.5 l-4,4.5 Z M492.70,849.5 l4,4.5 l-4,4.5 Z" fill="inherit" fill-opacity="0.8"/>
<circle cx="495.20" cy="834.80" r="1.10" fill="inherit" />
<path d="M507.20000000000005,865.6 L503.20000000000005,865.6 A6.4,6.4 0 0 0 503.20000000000005,878.4 L507.20000000000005,878.4 Z" fill="inherit" stroke="none" stroke-width="1" />
<rect x="499.70" y="882.50" width="7" height="4.3" rx="2" fill="inherit"/>
<path d="M492.70,862.5 l4,4.5 l-4,4.5 Z M492.70,874.5 l4,4.5 l-4,4.5 Z" fill="inherit" fill-opacity="0.8"/>
<circle cx="495.20" cy="859.80" r="1.10" fill="inherit" />
<path d="M507.20000000000005,890.6 L503.20000000000005,890.6 A6.4,6.4 0 0 0 503.20000000000005,903.4 L507.20000000000005,903.4 Z" fill="inherit" stroke="none" stroke-width="1" />
<rect x="499.70" y="907.50" width="7" height="4.3" rx="2" fill="inherit"/>
<path d="M492.70,887.5 l4,4.5 l-4,4.5 Z M492.70,899.5 l4,4.5 l-4,4.5 Z" fill="inherit" fill-opacity="0.8"/>
<circle cx="495.20" cy="884.80" r="1.10" fill="inherit" />
<path d="M507.20000000000005,915.6 L503.20000000000005,915.6 A6.4,6.4 0 0 0 503.20000000000005,928.4 L507.20000000000005,928.4 Z" fill="inherit" stroke="none" stroke-width="1" />
<rect x="499.70" y="932.50" width="7" height="4.3" rx="2" fill="inherit"/>
<path d="M492.70,912.5 l4,4.5 l-4,4.5 Z M492.70,924.5 l4,4.5 l-4,4.5 Z" fill="inherit" fill-opacity="0.8"/>
<circle cx="495.20" cy="909.80" r="1.10" fill="inherit" />
<path d="M507.20000000000005,940.6 L503.20000000000005,940.6 A6.4,6.4 0 0 0 503.20000000000005,953.4 L507.20000000000005,953.4 Z" fill="inherit" stroke="none" stroke-width="1" />
<rect x="499.70" y="957.50" width="7" height="4.3" rx="2" fill="inherit"/>
<path d="M492.70,937.5 l4,4.5 l-4,4.5 Z M492.70,949.5 l4,4.5 l-4,4.5 Z" fill="inherit" fill-opacity="0.8"/>
<circle cx="495.20" cy="934.80" r="1.10" fill="inherit" />
<path d="M507.20000000000005,965.6 L503.20000000000005,965.6 A6.4,6.4 0 0 0 503.20000000000005,978.4 L507.20000000000005,978.4 Z" fill="inherit" stroke="none" stroke-width="1" />
<rect x="499.70" y="982.50" width="7" height="4.3" rx="2" fill="inherit"/>
<path d="M492.70,962.5 l4,4.5 l-4,4.5 Z M492.70,974.5 l4,4.5 l-4,4.5 Z" fill="inherit" fill-opacity="0.8"/>
<circle cx="495.20" cy="959.80" r="1.10" fill="inherit" />
<path d="M507.20000000000005,990.6 L503.20000000000005,990.6 A6.4,6.4 0 0 0 503.20000000000005,1003.4 L507.20000000000005,1003.4 Z" fill="inherit" stroke="none" stroke-width="1" />
<rect x="499.70" y="1007.50" width="7" height="4.3" rx="2" fill="inherit"/>
<path d="M492.70,987.5 l4,4.5 l-4,4.5 Z M492.70,999.5 l4,4.5 l-4,4.5 Z" fill="inherit" fill-opacity="0.8"/>
<circle cx="495.20" cy="984.80" r="1.10" fill="inherit" />
<path d="M507.20000000000005,1015.6 L503.20000000000005,1015.6 A6.4,6.4 0 0 0 503.20000000000005,1028.4 L507.20000000000005,1028.4 Z" fill="inherit" stroke="none" stroke-width="1" />
<rect x="499.70" y="1032.50" width="7" height="4.3" rx="2" fill="inherit"/>
<path d="M492.70,1012.5 l4,4.5 l-4,4.5 Z M492.70,1024.5 l4,4.5 l-4,4.5 Z" fill="inherit" fill-opacity="0.8"/>
<circle cx="495.20" cy="1009.80" r="1.10" fill="inherit" />
<circle cx="503.50" cy="1047.00" r="6.60" fill="inherit" />
<rect x="499.70" y="1057.50" width="7" height="4.3" rx="2" fill="inherit"/>
<path d="M492.70,1037.5 l4,4.5 l-4,4.5 Z M492.70,1049.5 l4,4.5 l-4,4.5 Z" fill="inherit" fill-opacity="0.8"/>
<circle cx="495.20" cy="1034.80" r="1.10" fill="inherit" />
<circle cx="503.50" cy="1072.00" r="6.60" fill="inherit" />
<rect x="499.70" y="1082.50" width="7" height="4.3" rx="2" fill="inherit"/>
<path d="M492.70,1062.5 l4,4.5 l-4,4.5 Z M492.70,1074.5 l4,4.5 l-4,4.5 Z" fill="inherit" fill-opacity="0.8"/>
<circle cx="495.20" cy="1059.80" r="1.10" fill="inherit" />
<circle cx="503.50" cy="1097.00" r="6.60" fill="inherit" />
<rect x="499.70" y="1107.50" width="7" height="4.3" rx="2" fill="inherit"/>
<path d="M492.70,1087.5 l4,4.5 l-4,4.5 Z M492.70,1099.5 l4,4.5 l-4,4.5 Z" fill="inherit" fill-opacity="0.8"/>
<circle cx="495.20" cy="1084.80" r="1.10" fill="inherit" />
<circle cx="503.50" cy="1122.00" r="6.60" fill="inherit" />
<path d="M492.70,1112.5 l4,4.5 l-4,4.5 Z M492.70,1124.5 l4,4.5 l-4,4.5 Z" fill="inherit" fill-opacity="0.8"/>
<circle cx="495.20" cy="1109.80" r="1.10" fill="inherit" />
<path d="M509.70000000000005,1027.6 L509.70000000000005,784 Q509.70000000000005,781.4 512.2,781.4 L517.7,781.4 L517.7,1027.6 Z" fill="inherit" stroke="none" stroke-width="1" />
<rect x="517.70" y="784.00" width="1.50" height="243.00" fill="inherit" fill-opacity="0.5"/>
<rect x="515.70" y="1032.00" width="3.00" height="9.00" fill="inherit" />
<rect x="515.70" y="1046.80" width="8.50" height="37.20" fill="inherit" />
<rect x="515.70" y="1087.70" width="8.50" height="53.30" fill="inherit" />
<path d="M500.20000000000005,1136.5 L503.20000000000005,1131 L506.20000000000005,1136.5 Z" fill="inherit" stroke="none" stroke-width="1" />
<rect x="497.20" y="1143.00" width="4.00" height="2.00" fill="inherit" />
<rect x="506.20" y="1143.00" width="4.00" height="2.00" fill="inherit" />
<path d="M526.1500000000001,665.6 L544.1500000000001,665.6 L542.1500000000001,670 L526.1500000000001,670 Z" fill="inherit" stroke="none" stroke-width="1" />
<rect x="526.15" y="672.00" width="2.00" height="36.00" fill="inherit" />
<rect x="531.05" y="672.00" width="2.10" height="36.00" fill="inherit" />
<rect x="533.15" y="672.00" width="2.50" height="36.00" fill="inherit" fill-opacity="0.5"/>
<rect x="535.65" y="683.00" width="4.00" height="25.00" fill="inherit" />
<circle cx="536.65" cy="675.00" r="1.50" fill="inherit" />
<rect x="525.65" y="710.50" width="17.00" height="1.50" fill="inherit" fill-opacity="0.45"/>
<rect x="536.65" y="718.00" width="4.00" height="2.50" fill="inherit" />
<rect x="536.65" y="723.00" width="4.00" height="2.50" fill="inherit" />
<rect x="528.65" y="718.00" width="4.00" height="2.50" fill="inherit" fill-opacity="0.3"/>
<rect x="528.65" y="723.00" width="4.00" height="2.50" fill="inherit" fill-opacity="0.3"/>
<rect x="525.65" y="732.50" width="17.00" height="1.50" fill="inherit" fill-opacity="0.45"/>
<rect x="546.15" y="667.70" width="8.70" height="55.80" fill="inherit" />
<rect x="546.15" y="726.00" width="8.70" height="36.80" fill="inherit" />
<circle cx="533.15" cy="747.40" r="6.20" fill="inherit" />
<circle cx="537.45" cy="746.80" r="5.00" fill="#000000" />
<rect x="530.15" y="757" width="7" height="4" rx="2" fill="inherit"/>
<path d="M524.65,737 l3,6 l-3,6 Z" fill="inherit" fill-opacity="0.8"/>
<rect x="546.15" y="767.00" width="3.00" height="12.00" fill="inherit" />
<rect x="549.65" y="767.00" width="3.00" height="12.00" fill="inherit" fill-opacity="0.35"/>
<circle cx="533.95" cy="772.00" r="6.60" fill="inherit" />
<rect x="530.15" y="782.50" width="7" height="4.3" rx="2" fill="inherit"/>
<path d="M523.15,762.5 l4,4.5 l-4,4.5 Z M523.15,774.5 l4,4.5 l-4,4.5 Z" fill="inherit" fill-opacity="0.8"/>
<circle cx="525.65" cy="759.80" r="1.10" fill="inherit" />
<path d="M537.6500000000001,790.6 L533.6500000000001,790.6 A6.4,6.4 0 0 0 533.6500000000001,803.4 L537.6500000000001,803.4 Z" fill="inherit" stroke="none" stroke-width="1" />
<rect x="530.15" y="807.50" width="7" height="4.3" rx="2" fill="inherit"/>
<path d="M523.15,787.5 l4,4.5 l-4,4.5 Z M523.15,799.5 l4,4.5 l-4,4.5 Z" fill="inherit" fill-opacity="0.8"/>
<circle cx="525.65" cy="784.80" r="1.10" fill="inherit" />
<path d="M537.6500000000001,815.6 L533.6500000000001,815.6 A6.4,6.4 0 0 0 533.6500000000001,828.4 L537.6500000000001,828.4 Z" fill="inherit" stroke="none" stroke-width="1" />
<rect x="530.15" y="832.50" width="7" height="4.3" rx="2" fill="inherit"/>
<path d="M523.15,812.5 l4,4.5 l-4,4.5 Z M523.15,824.5 l4,4.5 l-4,4.5 Z" fill="inherit" fill-opacity="0.8"/>
<circle cx="525.65" cy="809.80" r="1.10" fill="inherit" />
<path d="M537.6500000000001,840.6 L533.6500000000001,840.6 A6.4,6.4 0 0 0 533.6500000000001,853.4 L537.6500000000001,853.4 Z" fill="inherit" stroke="none" stroke-width="1" />
<rect x="530.15" y="857.50" width="7" height="4.3" rx="2" fill="inherit"/>
<path d="M523.15,837.5 l4,4.5 l-4,4.5 Z M523.15,849.5 l4,4.5 l-4,4.5 Z" fill="inherit" fill-opacity="0.8"/>
<circle cx="525.65" cy="834.80" r="1.10" fill="inherit" />
<path d="M537.6500000000001,865.6 L533.6500000000001,865.6 A6.4,6.4 0 0 0 533.6500000000001,878.4 L537.6500000000001,878.4 Z" fill="inherit" stroke="none" stroke-width="1" />
<rect x="530.15" y="882.50" width="7" height="4.3" rx="2" fill="inherit"/>
<path d="M523.15,862.5 l4,4.5 l-4,4.5 Z M523.15,874.5 l4,4.5 l-4,4.5 Z" fill="inherit" fill-opacity="0.8"/>
<circle cx="525.65" cy="859.80" r="1.10" fill="inherit" />
<path d="M537.6500000000001,890.6 L533.6500000000001,890.6 A6.4,6.4 0 0 0 533.6500000000001,903.4 L537.6500000000001,903.4 Z" fill="inherit" stroke="none" stroke-width="1" />
<rect x="530.15" y="907.50" width="7" height="4.3" rx="2" fill="inherit"/>
<path d="M523.15,887.5 l4,4.5 l-4,4.5 Z M523.15,899.5 l4,4.5 l-4,4.5 Z" fill="inherit" fill-opacity="0.8"/>
<circle cx="525.65" cy="884.80" r="1.10" fill="inherit" />
<path d="M537.6500000000001,915.6 L533.6500000000001,915.6 A6.4,6.4 0 0 0 533.6500000000001,928.4 L537.6500000000001,928.4 Z" fill="inherit" stroke="none" stroke-width="1" />
<rect x="530.15" y="932.50" width="7" height="4.3" rx="2" fill="inherit"/>
<path d="M523.15,912.5 l4,4.5 l-4,4.5 Z M523.15,924.5 l4,4.5 l-4,4.5 Z" fill="inherit" fill-opacity="0.8"/>
<circle cx="525.65" cy="909.80" r="1.10" fill="inherit" />
<path d="M537.6500000000001,940.6 L533.6500000000001,940.6 A6.4,6.4 0 0 0 533.6500000000001,953.4 L537.6500000000001,953.4 Z" fill="inherit" stroke="none" stroke-width="1" />
<rect x="530.15" y="957.50" width="7" height="4.3" rx="2" fill="inherit"/>
<path d="M523.15,937.5 l4,4.5 l-4,4.5 Z M523.15,949.5 l4,4.5 l-4,4.5 Z" fill="inherit" fill-opacity="0.8"/>
<circle cx="525.65" cy="934.80" r="1.10" fill="inherit" />
<path d="M537.6500000000001,965.6 L533.6500000000001,965.6 A6.4,6.4 0 0 0 533.6500000000001,978.4 L537.6500000000001,978.4 Z" fill="inherit" stroke="none" stroke-width="1" />
<rect x="530.15" y="982.50" width="7" height="4.3" rx="2" fill="inherit"/>
<path d="M523.15,962.5 l4,4.5 l-4,4.5 Z M523.15,974.5 l4,4.5 l-4,4.5 Z" fill="inherit" fill-opacity="0.8"/>
<circle cx="525.65" cy="959.80" r="1.10" fill="inherit" />
<path d="M537.6500000000001,990.6 L533.6500000000001,990.6 A6.4,6.4 0 0 0 533.6500000000001,1003.4 L537.6500000000001,1003.4 Z" fill="inherit" stroke="none" stroke-width="1" />
<rect x="530.15" y="1007.50" width="7" height="4.3" rx="2" fill="inherit"/>
<path d="M523.15,987.5 l4,4.5 l-4,4.5 Z M523.15,999.5 l4,4.5 l-4,4.5 Z" fill="inherit" fill-opacity="0.8"/>
<circle cx="525.65" cy="984.80" r="1.10" fill="inherit" />
<path d="M537.6500000000001,1015.6 L533.6500000000001,1015.6 A6.4,6.4 0 0 0 533.6500000000001,1028.4 L537.6500000000001,1028.4 Z" fill="inherit" stroke="none" stroke-width="1" />
<rect x="530.15" y="1032.50" width="7" height="4.3" rx="2" fill="inherit"/>
<path d="M523.15,1012.5 l4,4.5 l-4,4.5 Z M523.15,1024.5 l4,4.5 l-4,4.5 Z" fill="inherit" fill-opacity="0.8"/>
<circle cx="525.65" cy="1009.80" r="1.10" fill="inherit" />
<circle cx="533.95" cy="1047.00" r="6.60" fill="inherit" />
<rect x="530.15" y="1057.50" width="7" height="4.3" rx="2" fill="inherit"/>
<path d="M523.15,1037.5 l4,4.5 l-4,4.5 Z M523.15,1049.5 l4,4.5 l-4,4.5 Z" fill="inherit" fill-opacity="0.8"/>
<circle cx="525.65" cy="1034.80" r="1.10" fill="inherit" />
<circle cx="533.95" cy="1072.00" r="6.60" fill="inherit" />
<rect x="530.15" y="1082.50" width="7" height="4.3" rx="2" fill="inherit"/>
<path d="M523.15,1062.5 l4,4.5 l-4,4.5 Z M523.15,1074.5 l4,4.5 l-4,4.5 Z" fill="inherit" fill-opacity="0.8"/>
<circle cx="525.65" cy="1059.80" r="1.10" fill="inherit" />
<circle cx="533.95" cy="1097.00" r="6.60" fill="inherit" />
<rect x="530.15" y="1107.50" width="7" height="4.3" rx="2" fill="inherit"/>
<path d="M523.15,1087.5 l4,4.5 l-4,4.5 Z M523.15,1099.5 l4,4.5 l-4,4.5 Z" fill="inherit" fill-opacity="0.8"/>
<circle cx="525.65" cy="1084.80" r="1.10" fill="inherit" />
<circle cx="533.95" cy="1122.00" r="6.60" fill="inherit" />
<path d="M523.15,1112.5 l4,4.5 l-4,4.5 Z M523.15,1124.5 l4,4.5 l-4,4.5 Z" fill="inherit" fill-opacity="0.8"/>
<circle cx="525.65" cy="1109.80" r="1.10" fill="inherit" />
<path d="M540.1500000000001,1027.6 L540.1500000000001,784 Q540.1500000000001,781.4 542.6500000000001,781.4 L548.1500000000001,781.4 L548.1500000000001,1027.6 Z" fill="inherit" stroke="none" stroke-width="1" />
<rect x="548.15" y="784.00" width="1.50" height="243.00" fill="inherit" fill-opacity="0.5"/>
<rect x="546.15" y="1032.00" width="3.00" height="9.00" fill="inherit" />
<rect x="546.15" y="1046.80" width="8.50" height="37.20" fill="inherit" />
<rect x="546.15" y="1087.70" width="8.50" height="53.30" fill="inherit" />
<path d="M530.6500000000001,1136.5 L533.6500000000001,1131 L536.6500000000001,1136.5 Z" fill="inherit" stroke="none" stroke-width="1" />
<rect x="527.65" y="1143.00" width="4.00" height="2.00" fill="inherit" />
<rect x="536.65" y="1143.00" width="4.00" height="2.00" fill="inherit" />
<path d="M556.6,665.6 L574.6,665.6 L572.6,670 L556.6,670 Z" fill="inherit" stroke="none" stroke-width="1" />
<rect x="556.60" y="672.00" width="2.00" height="36.00" fill="inherit" />
<rect x="561.50" y="672.00" width="2.10" height="36.00" fill="inherit" />
<rect x="563.60" y="672.00" width="2.50" height="36.00" fill="inherit" fill-opacity="0.5"/>
<rect x="566.10" y="683.00" width="4.00" height="25.00" fill="inherit" />
<circle cx="567.10" cy="675.00" r="1.50" fill="inherit" />
<rect x="556.10" y="710.50" width="17.00" height="1.50" fill="inherit" fill-opacity="0.45"/>
<rect x="567.10" y="718.00" width="4.00" height="2.50" fill="inherit" />
<rect x="567.10" y="723.00" width="4.00" height="2.50" fill="inherit" />
<rect x="559.10" y="718.00" width="4.00" height="2.50" fill="inherit" fill-opacity="0.3"/>
<rect x="559.10" y="723.00" width="4.00" height="2.50" fill="inherit" fill-opacity="0.3"/>
<rect x="556.10" y="732.50" width="17.00" height="1.50" fill="inherit" fill-opacity="0.45"/>
<rect x="576.60" y="667.70" width="8.70" height="55.80" fill="inherit" />
<rect x="576.60" y="726.00" width="8.70" height="36.80" fill="inherit" />
<circle cx="563.60" cy="747.40" r="6.20" fill="inherit" />
<circle cx="567.90" cy="746.80" r="5.00" fill="#000000" />
<rect x="560.60" y="757" width="7" height="4" rx="2" fill="inherit"/>
<path d="M555.10,737 l3,6 l-3,6 Z" fill="inherit" fill-opacity="0.8"/>
<rect x="576.60" y="767.00" width="3.00" height="12.00" fill="inherit" />
<rect x="580.10" y="767.00" width="3.00" height="12.00" fill="inherit" fill-opacity="0.35"/>
<circle cx="564.40" cy="772.00" r="6.60" fill="inherit" />
<rect x="560.60" y="782.50" width="7" height="4.3" rx="2" fill="inherit"/>
<path d="M553.60,762.5 l4,4.5 l-4,4.5 Z M553.60,774.5 l4,4.5 l-4,4.5 Z" fill="inherit" fill-opacity="0.8"/>
<circle cx="556.10" cy="759.80" r="1.10" fill="inherit" />
<path d="M568.1,790.6 L564.1,790.6 A6.4,6.4 0 0 0 564.1,803.4 L568.1,803.4 Z" fill="inherit" stroke="none" stroke-width="1" />
<rect x="560.60" y="807.50" width="7" height="4.3" rx="2" fill="inherit"/>
<path d="M553.60,787.5 l4,4.5 l-4,4.5 Z M553.60,799.5 l4,4.5 l-4,4.5 Z" fill="inherit" fill-opacity="0.8"/>
<circle cx="556.10" cy="784.80" r="1.10" fill="inherit" />
<path d="M568.1,815.6 L564.1,815.6 A6.4,6.4 0 0 0 564.1,828.4 L568.1,828.4 Z" fill="inherit" stroke="none" stroke-width="1" />
<rect x="560.60" y="832.50" width="7" height="4.3" rx="2" fill="inherit"/>
<path d="M553.60,812.5 l4,4.5 l-4,4.5 Z M553.60,824.5 l4,4.5 l-4,4.5 Z" fill="inherit" fill-opacity="0.8"/>
<circle cx="556.10" cy="809.80" r="1.10" fill="inherit" />
<path d="M568.1,840.6 L564.1,840.6 A6.4,6.4 0 0 0 564.1,853.4 L568.1,853.4 Z" fill="inherit" stroke="none" stroke-width="1" />
<rect x="560.60" y="857.50" width="7" height="4.3" rx="2" fill="inherit"/>
<path d="M553.60,837.5 l4,4.5 l-4,4.5 Z M553.60,849.5 l4,4.5 l-4,4.5 Z" fill="inherit" fill-opacity="0.8"/>
<circle cx="556.10" cy="834.80" r="1.10" fill="inherit" />
<path d="M568.1,865.6 L564.1,865.6 A6.4,6.4 0 0 0 564.1,878.4 L568.1,878.4 Z" fill="inherit" stroke="none" stroke-width="1" />
<rect x="560.60" y="882.50" width="7" height="4.3" rx="2" fill="inherit"/>
<path d="M553.60,862.5 l4,4.5 l-4,4.5 Z M553.60,874.5 l4,4.5 l-4,4.5 Z" fill="inherit" fill-opacity="0.8"/>
<circle cx="556.10" cy="859.80" r="1.10" fill="inherit" />
<path d="M568.1,890.6 L564.1,890.6 A6.4,6.4 0 0 0 564.1,903.4 L568.1,903.4 Z" fill="inherit" stroke="none" stroke-width="1" />
<rect x="560.60" y="907.50" width="7" height="4.3" rx="2" fill="inherit"/>
<path d="M553.60,887.5 l4,4.5 l-4,4.5 Z M553.60,899.5 l4,4.5 l-4,4.5 Z" fill="inherit" fill-opacity="0.8"/>
<circle cx="556.10" cy="884.80" r="1.10" fill="inherit" />
<path d="M568.1,915.6 L564.1,915.6 A6.4,6.4 0 0 0 564.1,928.4 L568.1,928.4 Z" fill="inherit" stroke="none" stroke-width="1" />
<rect x="560.60" y="932.50" width="7" height="4.3" rx="2" fill="inherit"/>
<path d="M553.60,912.5 l4,4.5 l-4,4.5 Z M553.60,924.5 l4,4.5 l-4,4.5 Z" fill="inherit" fill-opacity="0.8"/>
<circle cx="556.10" cy="909.80" r="1.10" fill="inherit" />
<path d="M568.1,940.6 L564.1,940.6 A6.4,6.4 0 0 0 564.1,953.4 L568.1,953.4 Z" fill="inherit" stroke="none" stroke-width="1" />
<rect x="560.60" y="957.50" width="7" height="4.3" rx="2" fill="inherit"/>
<path d="M553.60,937.5 l4,4.5 l-4,4.5 Z M553.60,949.5 l4,4.5 l-4,4.5 Z" fill="inherit" fill-opacity="0.8"/>
<circle cx="556.10" cy="934.80" r="1.10" fill="inherit" />
<path d="M568.1,965.6 L564.1,965.6 A6.4,6.4 0 0 0 564.1,978.4 L568.1,978.4 Z" fill="inherit" stroke="none" stroke-width="1" />
<rect x="560.60" y="982.50" width="7" height="4.3" rx="2" fill="inherit"/>
<path d="M553.60,962.5 l4,4.5 l-4,4.5 Z M553.60,974.5 l4,4.5 l-4,4.5 Z" fill="inherit" fill-opacity="0.8"/>
<circle cx="556.10" cy="959.80" r="1.10" fill="inherit" />
<path d="M568.1,990.6 L564.1,990.6 A6.4,6.4 0 0 0 564.1,1003.4 L568.1,1003.4 Z" fill="inherit" stroke="none" stroke-width="1" />
<rect x="560.60" y="1007.50" width="7" height="4.3" rx="2" fill="inherit"/>
<path d="M553.60,987.5 l4,4.5 l-4,4.5 Z M553.60,999.5 l4,4.5 l-4,4.5 Z" fill="inherit" fill-opacity="0.8"/>
<circle cx="556.10" cy="984.80" r="1.10" fill="inherit" />
<path d="M568.1,1015.6 L564.1,1015.6 A6.4,6.4 0 0 0 564.1,1028.4 L568.1,1028.4 Z" fill="inherit" stroke="none" stroke-width="1" />
<rect x="560.60" y="1032.50" width="7" height="4.3" rx="2" fill="inherit"/>
<path d="M553.60,1012.5 l4,4.5 l-4,4.5 Z M553.60,1024.5 l4,4.5 l-4,4.5 Z" fill="inherit" fill-opacity="0.8"/>
<circle cx="556.10" cy="1009.80" r="1.10" fill="inherit" />
<circle cx="564.40" cy="1047.00" r="6.60" fill="inherit" />
<rect x="560.60" y="1057.50" width="7" height="4.3" rx="2" fill="inherit"/>
<path d="M553.60,1037.5 l4,4.5 l-4,4.5 Z M553.60,1049.5 l4,4.5 l-4,4.5 Z" fill="inherit" fill-opacity="0.8"/>
<circle cx="556.10" cy="1034.80" r="1.10" fill="inherit" />
<circle cx="564.40" cy="1072.00" r="6.60" fill="inherit" />
<rect x="560.60" y="1082.50" width="7" height="4.3" rx="2" fill="inherit"/>
<path d="M553.60,1062.5 l4,4.5 l-4,4.5 Z M553.60,1074.5 l4,4.5 l-4,4.5 Z" fill="inherit" fill-opacity="0.8"/>
<circle cx="556.10" cy="1059.80" r="1.10" fill="inherit" />
<circle cx="564.40" cy="1097.00" r="6.60" fill="inherit" />
<rect x="560.60" y="1107.50" width="7" height="4.3" rx="2" fill="inherit"/>
<path d="M553.60,1087.5 l4,4.5 l-4,4.5 Z M553.60,1099.5 l4,4.5 l-4,4.5 Z" fill="inherit" fill-opacity="0.8"/>
<circle cx="556.10" cy="1084.80" r="1.10" fill="inherit" />
<circle cx="564.40" cy="1122.00" r="6.60" fill="inherit" />
<path d="M553.60,1112.5 l4,4.5 l-4,4.5 Z M553.60,1124.5 l4,4.5 l-4,4.5 Z" fill="inherit" fill-opacity="0.8"/>
<circle cx="556.10" cy="1109.80" r="1.10" fill="inherit" />
<path d="M570.6,1027.6 L570.6,784 Q570.6,781.4 573.1,781.4 L578.6,781.4 L578.6,1027.6 Z" fill="inherit" stroke="none" stroke-width="1" />
<rect x="578.60" y="784.00" width="1.50" height="243.00" fill="inherit" fill-opacity="0.5"/>
<rect x="576.60" y="1032.00" width="3.00" height="9.00" fill="inherit" />
<rect x="576.60" y="1046.80" width="8.50" height="37.20" fill="inherit" />
<rect x="576.60" y="1087.70" width="8.50" height="53.30" fill="inherit" />
<path d="M561.1,1136.5 L564.1,1131 L567.1,1136.5 Z" fill="inherit" stroke="none" stroke-width="1" />
<rect x="558.10" y="1143.00" width="4.00" height="2.00" fill="inherit" />
<rect x="567.10" y="1143.00" width="4.00" height="2.00" fill="inherit" />
<path d="M587.05,665.6 L605.05,665.6 L603.05,670 L587.05,670 Z" fill="inherit" stroke="none" stroke-width="1" />
<rect x="587.05" y="672.00" width="2.00" height="36.00" fill="inherit" />
<rect x="591.95" y="672.00" width="2.10" height="36.00" fill="inherit" />
<rect x="594.05" y="672.00" width="2.50" height="36.00" fill="inherit" fill-opacity="0.5"/>
<rect x="596.55" y="683.00" width="4.00" height="25.00" fill="inherit" />
<circle cx="597.55" cy="675.00" r="1.50" fill="inherit" />
<rect x="586.55" y="710.50" width="17.00" height="1.50" fill="inherit" fill-opacity="0.45"/>
<rect x="597.55" y="718.00" width="4.00" height="2.50" fill="inherit" />
<rect x="597.55" y="723.00" width="4.00" height="2.50" fill="inherit" />
<rect x="589.55" y="718.00" width="4.00" height="2.50" fill="inherit" fill-opacity="0.3"/>
<rect x="589.55" y="723.00" width="4.00" height="2.50" fill="inherit" fill-opacity="0.3"/>
<rect x="586.55" y="732.50" width="17.00" height="1.50" fill="inherit" fill-opacity="0.45"/>
<rect x="607.05" y="667.70" width="8.70" height="55.80" fill="inherit" />
<rect x="607.05" y="726.00" width="8.70" height="36.80" fill="inherit" />
<circle cx="594.05" cy="747.40" r="6.20" fill="inherit" />
<circle cx="598.35" cy="746.80" r="5.00" fill="#000000" />
<rect x="591.05" y="757" width="7" height="4" rx="2" fill="inherit"/>
<path d="M585.55,737 l3,6 l-3,6 Z" fill="inherit" fill-opacity="0.8"/>
<rect x="607.05" y="767.00" width="3.00" height="12.00" fill="inherit" />
<rect x="610.55" y="767.00" width="3.00" height="12.00" fill="inherit" fill-opacity="0.35"/>
<circle cx="594.85" cy="772.00" r="6.60" fill="inherit" />
<rect x="591.05" y="782.50" width="7" height="4.3" rx="2" fill="inherit"/>
<path d="M584.05,762.5 l4,4.5 l-4,4.5 Z M584.05,774.5 l4,4.5 l-4,4.5 Z" fill="inherit" fill-opacity="0.8"/>
<circle cx="586.55" cy="759.80" r="1.10" fill="inherit" />
<path d="M598.55,790.6 L594.55,790.6 A6.4,6.4 0 0 0 594.55,803.4 L598.55,803.4 Z" fill="inherit" stroke="none" stroke-width="1" />
<rect x="591.05" y="807.50" width="7" height="4.3" rx="2" fill="inherit"/>
<path d="M584.05,787.5 l4,4.5 l-4,4.5 Z M584.05,799.5 l4,4.5 l-4,4.5 Z" fill="inherit" fill-opacity="0.8"/>
<circle cx="586.55" cy="784.80" r="1.10" fill="inherit" />
<path d="M598.55,815.6 L594.55,815.6 A6.4,6.4 0 0 0 594.55,828.4 L598.55,828.4 Z" fill="inherit" stroke="none" stroke-width="1" />
<rect x="591.05" y="832.50" width="7" height="4.3" rx="2" fill="inherit"/>
<path d="M584.05,812.5 l4,4.5 l-4,4.5 Z M584.05,824.5 l4,4.5 l-4,4.5 Z" fill="inherit" fill-opacity="0.8"/>
<circle cx="586.55" cy="809.80" r="1.10" fill="inherit" />
<path d="M598.55,840.6 L594.55,840.6 A6.4,6.4 0 0 0 594.55,853.4 L598.55,853.4 Z" fill="inherit" stroke="none" stroke-width="1" />
<rect x="591.05" y="857.50" width="7" height="4.3" rx="2" fill="inherit"/>
<path d="M584.05,837.5 l4,4.5 l-4,4.5 Z M584.05,849.5 l4,4.5 l-4,4.5 Z" fill="inherit" fill-opacity="0.8"/>
<circle cx="586.55" cy="834.80" r="1.10" fill="inherit" />
<path d="M598.55,865.6 L594.55,865.6 A6.4,6.4 0 0 0 594.55,878.4 L598.55,878.4 Z" fill="inherit" stroke="none" stroke-width="1" />
<rect x="591.05" y="882.50" width="7" height="4.3" rx="2" fill="inherit"/>
<path d="M584.05,862.5 l4,4.5 l-4,4.5 Z M584.05,874.5 l4,4.5 l-4,4.5 Z" fill="inherit" fill-opacity="0.8"/>
<circle cx="586.55" cy="859.80" r="1.10" fill="inherit" />
<path d="M598.55,890.6 L594.55,890.6 A6.4,6.4 0 0 0 594.55,903.4 L598.55,903.4 Z" fill="inherit" stroke="none" stroke-width="1" />
<rect x="591.05" y="907.50" width="7" height="4.3" rx="2" fill="inherit"/>
<path d="M584.05,887.5 l4,4.5 l-4,4.5 Z M584.05,899.5 l4,4.5 l-4,4.5 Z" fill="inherit" fill-opacity="0.8"/>
<circle cx="586.55" cy="884.80" r="1.10" fill="inherit" />
<path d="M598.55,915.6 L594.55,915.6 A6.4,6.4 0 0 0 594.55,928.4 L598.55,928.4 Z" fill="inherit" stroke="none" stroke-width="1" />
<rect x="591.05" y="932.50" width="7" height="4.3" rx="2" fill="inherit"/>
<path d="M584.05,912.5 l4,4.5 l-4,4.5 Z M584.05,924.5 l4,4.5 l-4,4.5 Z" fill="inherit" fill-opacity="0.8"/>
<circle cx="586.55" cy="909.80" r="1.10" fill="inherit" />
<path d="M598.55,940.6 L594.55,940.6 A6.4,6.4 0 0 0 594.55,953.4 L598.55,953.4 Z" fill="inherit" stroke="none" stroke-width="1" />
<rect x="591.05" y="957.50" width="7" height="4.3" rx="2" fill="inherit"/>
<path d="M584.05,937.5 l4,4.5 l-4,4.5 Z M584.05,949.5 l4,4.5 l-4,4.5 Z" fill="inherit" fill-opacity="0.8"/>
<circle cx="586.55" cy="934.80" r="1.10" fill="inherit" />
<path d="M598.55,965.6 L594.55,965.6 A6.4,6.4 0 0 0 594.55,978.4 L598.55,978.4 Z" fill="inherit" stroke="none" stroke-width="1" />
<rect x="591.05" y="982.50" width="7" height="4.3" rx="2" fill="inherit"/>
<path d="M584.05,962.5 l4,4.5 l-4,4.5 Z M584.05,974.5 l4,4.5 l-4,4.5 Z" fill="inherit" fill-opacity="0.8"/>
<circle cx="586.55" cy="959.80" r="1.10" fill="inherit" />
<path d="M598.55,990.6 L594.55,990.6 A6.4,6.4 0 0 0 594.55,1003.4 L598.55,1003.4 Z" fill="inherit" stroke="none" stroke-width="1" />
<rect x="591.05" y="1007.50" width="7" height="4.3" rx="2" fill="inherit"/>
<path d="M584.05,987.5 l4,4.5 l-4,4.5 Z M584.05,999.5 l4,4.5 l-4,4.5 Z" fill="inherit" fill-opacity="0.8"/>
<circle cx="586.55" cy="984.80" r="1.10" fill="inherit" />
<path d="M598.55,1015.6 L594.55,1015.6 A6.4,6.4 0 0 0 594.55,1028.4 L598.55,1028.4 Z" fill="inherit" stroke="none" stroke-width="1" />
<rect x="591.05" y="1032.50" width="7" height="4.3" rx="2" fill="inherit"/>
<path d="M584.05,1012.5 l4,4.5 l-4,4.5 Z M584.05,1024.5 l4,4.5 l-4,4.5 Z" fill="inherit" fill-opacity="0.8"/>
<circle cx="586.55" cy="1009.80" r="1.10" fill="inherit" />
<circle cx="594.85" cy="1047.00" r="6.60" fill="inherit" />
<rect x="591.05" y="1057.50" width="7" height="4.3" rx="2" fill="inherit"/>
<path d="M584.05,1037.5 l4,4.5 l-4,4.5 Z M584.05,1049.5 l4,4.5 l-4,4.5 Z" fill="inherit" fill-opacity="0.8"/>
<circle cx="586.55" cy="1034.80" r="1.10" fill="inherit" />
<circle cx="594.85" cy="1072.00" r="6.60" fill="inherit" />
<rect x="591.05" y="1082.50" width="7" height="4.3" rx="2" fill="inherit"/>
<path d="M584.05,1062.5 l4,4.5 l-4,4.5 Z M584.05,1074.5 l4,4.5 l-4,4.5 Z" fill="inherit" fill-opacity="0.8"/>
<circle cx="586.55" cy="1059.80" r="1.10" fill="inherit" />
<circle cx="594.85" cy="1097.00" r="6.60" fill="inherit" />
<rect x="591.05" y="1107.50" width="7" height="4.3" rx="2" fill="inherit"/>
<path d="M584.05,1087.5 l4,4.5 l-4,4.5 Z M584.05,1099.5 l4,4.5 l-4,4.5 Z" fill="inherit" fill-opacity="0.8"/>
<circle cx="586.55" cy="1084.80" r="1.10" fill="inherit" />
<circle cx="594.85" cy="1122.00" r="6.60" fill="inherit" />
<path d="M584.05,1112.5 l4,4.5 l-4,4.5 Z M584.05,1124.5 l4,4.5 l-4,4.5 Z" fill="inherit" fill-opacity="0.8"/>
<circle cx="586.55" cy="1109.80" r="1.10" fill="inherit" />
<path d="M601.05,1027.6 L601.05,784 Q601.05,781.4 603.55,781.4 L609.05,781.4 L609.05,1027.6 Z" fill="inherit" stroke="none" stroke-width="1" />
<rect x="609.05" y="784.00" width="1.50" height="243.00" fill="inherit" fill-opacity="0.5"/>
<rect x="607.05" y="1032.00" width="3.00" height="9.00" fill="inherit" />
<rect x="607.05" y="1046.80" width="8.50" height="37.20" fill="inherit" />
<rect x="607.05" y="1087.70" width="8.50" height="53.30" fill="inherit" />
<path d="M591.55,1136.5 L594.55,1131 L597.55,1136.5 Z" fill="inherit" stroke="none" stroke-width="1" />
<rect x="588.55" y="1143.00" width="4.00" height="2.00" fill="inherit" />
<rect x="597.55" y="1143.00" width="4.00" height="2.00" fill="inherit" />
<path d="M617.5,665.6 L635.5,665.6 L633.5,670 L617.5,670 Z" fill="inherit" stroke="none" stroke-width="1" />
<rect x="617.50" y="672.00" width="2.00" height="36.00" fill="inherit" />
<rect x="622.40" y="672.00" width="2.10" height="36.00" fill="inherit" />
<rect x="624.50" y="672.00" width="2.50" height="36.00" fill="inherit" fill-opacity="0.5"/>
<rect x="627.00" y="683.00" width="4.00" height="25.00" fill="inherit" />
<circle cx="628.00" cy="675.00" r="1.50" fill="inherit" />
<rect x="617.00" y="710.50" width="17.00" height="1.50" fill="inherit" fill-opacity="0.45"/>
<rect x="628.00" y="718.00" width="4.00" height="2.50" fill="inherit" />
<rect x="628.00" y="723.00" width="4.00" height="2.50" fill="inherit" />
<rect x="620.00" y="718.00" width="4.00" height="2.50" fill="inherit" fill-opacity="0.3"/>
<rect x="620.00" y="723.00" width="4.00" height="2.50" fill="inherit" fill-opacity="0.3"/>
<rect x="617.00" y="732.50" width="17.00" height="1.50" fill="inherit" fill-opacity="0.45"/>
<rect x="637.50" y="667.70" width="8.70" height="55.80" fill="inherit" />
<rect x="637.50" y="726.00" width="8.70" height="36.80" fill="inherit" />
<circle cx="624.50" cy="747.40" r="6.20" fill="inherit" />
<circle cx="628.80" cy="746.80" r="5.00" fill="#000000" />
<rect x="621.50" y="757" width="7" height="4" rx="2" fill="inherit"/>
<path d="M616.00,737 l3,6 l-3,6 Z" fill="inherit" fill-opacity="0.8"/>
<rect x="637.50" y="767.00" width="3.00" height="12.00" fill="inherit" />
<rect x="641.00" y="767.00" width="3.00" height="12.00" fill="inherit" fill-opacity="0.35"/>
<circle cx="625.30" cy="772.00" r="6.60" fill="inherit" />
<rect x="621.50" y="782.50" width="7" height="4.3" rx="2" fill="inherit"/>
<path d="M614.50,762.5 l4,4.5 l-4,4.5 Z M614.50,774.5 l4,4.5 l-4,4.5 Z" fill="inherit" fill-opacity="0.8"/>
<circle cx="617.00" cy="759.80" r="1.10" fill="inherit" />
<path d="M629.0,790.6 L625.0,790.6 A6.4,6.4 0 0 0 625.0,803.4 L629.0,803.4 Z" fill="inherit" stroke="none" stroke-width="1" />
<rect x="621.50" y="807.50" width="7" height="4.3" rx="2" fill="inherit"/>
<path d="M614.50,787.5 l4,4.5 l-4,4.5 Z M614.50,799.5 l4,4.5 l-4,4.5 Z" fill="inherit" fill-opacity="0.8"/>
<circle cx="617.00" cy="784.80" r="1.10" fill="inherit" />
<path d="M629.0,815.6 L625.0,815.6 A6.4,6.4 0 0 0 625.0,828.4 L629.0,828.4 Z" fill="inherit" stroke="none" stroke-width="1" />
<rect x="621.50" y="832.50" width="7" height="4.3" rx="2" fill="inherit"/>
<path d="M614.50,812.5 l4,4.5 l-4,4.5 Z M614.50,824.5 l4,4.5 l-4,4.5 Z" fill="inherit" fill-opacity="0.8"/>
<circle cx="617.00" cy="809.80" r="1.10" fill="inherit" />
<path d="M629.0,840.6 L625.0,840.6 A6.4,6.4 0 0 0 625.0,853.4 L629.0,853.4 Z" fill="inherit" stroke="none" stroke-width="1" />
<rect x="621.50" y="857.50" width="7" height="4.3" rx="2" fill="inherit"/>
<path d="M614.50,837.5 l4,4.5 l-4,4.5 Z M614.50,849.5 l4,4.5 l-4,4.5 Z" fill="inherit" fill-opacity="0.8"/>
<circle cx="617.00" cy="834.80" r="1.10" fill="inherit" />
<path d="M629.0,865.6 L625.0,865.6 A6.4,6.4 0 0 0 625.0,878.4 L629.0,878.4 Z" fill="inherit" stroke="none" stroke-width="1" />
<rect x="621.50" y="882.50" width="7" height="4.3" rx="2" fill="inherit"/>
<path d="M614.50,862.5 l4,4.5 l-4,4.5 Z M614.50,874.5 l4,4.5 l-4,4.5 Z" fill="inherit" fill-opacity="0.8"/>
<circle cx="617.00" cy="859.80" r="1.10" fill="inherit" />
<path d="M629.0,890.6 L625.0,890.6 A6.4,6.4 0 0 0 625.0,903.4 L629.0,903.4 Z" fill="inherit" stroke="none" stroke-width="1" />
<rect x="621.50" y="907.50" width="7" height="4.3" rx="2" fill="inherit"/>
<path d="M614.50,887.5 l4,4.5 l-4,4.5 Z M614.50,899.5 l4,4.5 l-4,4.5 Z" fill="inherit" fill-opacity="0.8"/>
<circle cx="617.00" cy="884.80" r="1.10" fill="inherit" />
<path d="M629.0,915.6 L625.0,915.6 A6.4,6.4 0 0 0 625.0,928.4 L629.0,928.4 Z" fill="inherit" stroke="none" stroke-width="1" />
<rect x="621.50" y="932.50" width="7" height="4.3" rx="2" fill="inherit"/>
<path d="M614.50,912.5 l4,4.5 l-4,4.5 Z M614.50,924.5 l4,4.5 l-4,4.5 Z" fill="inherit" fill-opacity="0.8"/>
<circle cx="617.00" cy="909.80" r="1.10" fill="inherit" />
<path d="M629.0,940.6 L625.0,940.6 A6.4,6.4 0 0 0 625.0,953.4 L629.0,953.4 Z" fill="inherit" stroke="none" stroke-width="1" />
<rect x="621.50" y="957.50" width="7" height="4.3" rx="2" fill="inherit"/>
<path d="M614.50,937.5 l4,4.5 l-4,4.5 Z M614.50,949.5 l4,4.5 l-4,4.5 Z" fill="inherit" fill-opacity="0.8"/>
<circle cx="617.00" cy="934.80" r="1.10" fill="inherit" />
<path d="M629.0,965.6 L625.0,965.6 A6.4,6.4 0 0 0 625.0,978.4 L629.0,978.4 Z" fill="inherit" stroke="none" stroke-width="1" />
<rect x="621.50" y="982.50" width="7" height="4.3" rx="2" fill="inherit"/>
<path d="M614.50,962.5 l4,4.5 l-4,4.5 Z M614.50,974.5 l4,4.5 l-4,4.5 Z" fill="inherit" fill-opacity="0.8"/>
<circle cx="617.00" cy="959.80" r="1.10" fill="inherit" />
<path d="M629.0,990.6 L625.0,990.6 A6.4,6.4 0 0 0 625.0,1003.4 L629.0,1003.4 Z" fill="inherit" stroke="none" stroke-width="1" />
<rect x="621.50" y="1007.50" width="7" height="4.3" rx="2" fill="inherit"/>
<path d="M614.50,987.5 l4,4.5 l-4,4.5 Z M614.50,999.5 l4,4.5 l-4,4.5 Z" fill="inherit" fill-opacity="0.8"/>
<circle cx="617.00" cy="984.80" r="1.10" fill="inherit" />
<path d="M629.0,1015.6 L625.0,1015.6 A6.4,6.4 0 0 0 625.0,1028.4 L629.0,1028.4 Z" fill="inherit" stroke="none" stroke-width="1" />
<rect x="621.50" y="1032.50" width="7" height="4.3" rx="2" fill="inherit"/>
<path d="M614.50,1012.5 l4,4.5 l-4,4.5 Z M614.50,1024.5 l4,4.5 l-4,4.5 Z" fill="inherit" fill-opacity="0.8"/>
<circle cx="617.00" cy="1009.80" r="1.10" fill="inherit" />
<circle cx="625.30" cy="1047.00" r="6.60" fill="inherit" />
<rect x="621.50" y="1057.50" width="7" height="4.3" rx="2" fill="inherit"/>
<path d="M614.50,1037.5 l4,4.5 l-4,4.5 Z M614.50,1049.5 l4,4.5 l-4,4.5 Z" fill="inherit" fill-opacity="0.8"/>
<circle cx="617.00" cy="1034.80" r="1.10" fill="inherit" />
<circle cx="625.30" cy="1072.00" r="6.60" fill="inherit" />
<rect x="621.50" y="1082.50" width="7" height="4.3" rx="2" fill="inherit"/>
<path d="M614.50,1062.5 l4,4.5 l-4,4.5 Z M614.50,1074.5 l4,4.5 l-4,4.5 Z" fill="inherit" fill-opacity="0.8"/>
<circle cx="617.00" cy="1059.80" r="1.10" fill="inherit" />
<circle cx="625.30" cy="1097.00" r="6.60" fill="inherit" />
<rect x="621.50" y="1107.50" width="7" height="4.3" rx="2" fill="inherit"/>
<path d="M614.50,1087.5 l4,4.5 l-4,4.5 Z M614.50,1099.5 l4,4.5 l-4,4.5 Z" fill="inherit" fill-opacity="0.8"/>
<circle cx="617.00" cy="1084.80" r="1.10" fill="inherit" />
<circle cx="625.30" cy="1122.00" r="6.60" fill="inherit" />
<path d="M614.50,1112.5 l4,4.5 l-4,4.5 Z M614.50,1124.5 l4,4.5 l-4,4.5 Z" fill="inherit" fill-opacity="0.8"/>
<circle cx="617.00" cy="1109.80" r="1.10" fill="inherit" />
<path d="M631.5,1027.6 L631.5,784 Q631.5,781.4 634.0,781.4 L639.5,781.4 L639.5,1027.6 Z" fill="inherit" stroke="none" stroke-width="1" />
<rect x="639.50" y="784.00" width="1.50" height="243.00" fill="inherit" fill-opacity="0.5"/>
<rect x="637.50" y="1032.00" width="3.00" height="9.00" fill="inherit" />
<rect x="637.50" y="1046.80" width="8.50" height="37.20" fill="inherit" />
<rect x="637.50" y="1087.70" width="8.50" height="53.30" fill="inherit" />
<path d="M622.0,1136.5 L625.0,1131 L628.0,1136.5 Z" fill="inherit" stroke="none" stroke-width="1" />
<rect x="619.00" y="1143.00" width="4.00" height="2.00" fill="inherit" />
<rect x="628.00" y="1143.00" width="4.00" height="2.00" fill="inherit" />
<path d="M647.95,665.6 L665.95,665.6 L663.95,670 L647.95,670 Z" fill="inherit" stroke="none" stroke-width="1" />
<rect x="647.95" y="672.00" width="2.00" height="36.00" fill="inherit" />
<rect x="652.85" y="672.00" width="2.10" height="36.00" fill="inherit" />
<rect x="654.95" y="672.00" width="2.50" height="36.00" fill="inherit" fill-opacity="0.5"/>
<rect x="657.45" y="683.00" width="4.00" height="25.00" fill="inherit" />
<circle cx="658.45" cy="675.00" r="1.50" fill="inherit" />
<rect x="647.45" y="710.50" width="17.00" height="1.50" fill="inherit" fill-opacity="0.45"/>
<rect x="658.45" y="718.00" width="4.00" height="2.50" fill="inherit" />
<rect x="658.45" y="723.00" width="4.00" height="2.50" fill="inherit" />
<rect x="650.45" y="718.00" width="4.00" height="2.50" fill="inherit" fill-opacity="0.3"/>
<rect x="650.45" y="723.00" width="4.00" height="2.50" fill="inherit" fill-opacity="0.3"/>
<rect x="647.45" y="732.50" width="17.00" height="1.50" fill="inherit" fill-opacity="0.45"/>
<rect x="667.95" y="667.70" width="8.70" height="55.80" fill="inherit" />
<rect x="667.95" y="726.00" width="8.70" height="36.80" fill="inherit" />
<circle cx="654.95" cy="747.40" r="6.20" fill="inherit" />
<circle cx="659.25" cy="746.80" r="5.00" fill="#000000" />
<rect x="651.95" y="757" width="7" height="4" rx="2" fill="inherit"/>
<path d="M646.45,737 l3,6 l-3,6 Z" fill="inherit" fill-opacity="0.8"/>
<rect x="667.95" y="767.00" width="3.00" height="12.00" fill="inherit" />
<rect x="671.45" y="767.00" width="3.00" height="12.00" fill="inherit" fill-opacity="0.35"/>
<circle cx="655.75" cy="772.00" r="6.60" fill="inherit" />
<rect x="651.95" y="782.50" width="7" height="4.3" rx="2" fill="inherit"/>
<path d="M644.95,762.5 l4,4.5 l-4,4.5 Z M644.95,774.5 l4,4.5 l-4,4.5 Z" fill="inherit" fill-opacity="0.8"/>
<circle cx="647.45" cy="759.80" r="1.10" fill="inherit" />
<path d="M659.45,790.6 L655.45,790.6 A6.4,6.4 0 0 0 655.45,803.4 L659.45,803.4 Z" fill="inherit" stroke="none" stroke-width="1" />
<rect x="651.95" y="807.50" width="7" height="4.3" rx="2" fill="inherit"/>
<path d="M644.95,787.5 l4,4.5 l-4,4.5 Z M644.95,799.5 l4,4.5 l-4,4.5 Z" fill="inherit" fill-opacity="0.8"/>
<circle cx="647.45" cy="784.80" r="1.10" fill="inherit" />
<path d="M659.45,815.6 L655.45,815.6 A6.4,6.4 0 0 0 655.45,828.4 L659.45,828.4 Z" fill="inherit" stroke="none" stroke-width="1" />
<rect x="651.95" y="832.50" width="7" height="4.3" rx="2" fill="inherit"/>
<path d="M644.95,812.5 l4,4.5 l-4,4.5 Z M644.95,824.5 l4,4.5 l-4,4.5 Z" fill="inherit" fill-opacity="0.8"/>
<circle cx="647.45" cy="809.80" r="1.10" fill="inherit" />
<path d="M659.45,840.6 L655.45,840.6 A6.4,6.4 0 0 0 655.45,853.4 L659.45,853.4 Z" fill="inherit" stroke="none" stroke-width="1" />
<rect x="651.95" y="857.50" width="7" height="4.3" rx="2" fill="inherit"/>
<path d="M644.95,837.5 l4,4.5 l-4,4.5 Z M644.95,849.5 l4,4.5 l-4,4.5 Z" fill="inherit" fill-opacity="0.8"/>
<circle cx="647.45" cy="834.80" r="1.10" fill="inherit" />
<path d="M659.45,865.6 L655.45,865.6 A6.4,6.4 0 0 0 655.45,878.4 L659.45,878.4 Z" fill="inherit" stroke="none" stroke-width="1" />
<rect x="651.95" y="882.50" width="7" height="4.3" rx="2" fill="inherit"/>
<path d="M644.95,862.5 l4,4.5 l-4,4.5 Z M644.95,874.5 l4,4.5 l-4,4.5 Z" fill="inherit" fill-opacity="0.8"/>
<circle cx="647.45" cy="859.80" r="1.10" fill="inherit" />
<path d="M659.45,890.6 L655.45,890.6 A6.4,6.4 0 0 0 655.45,903.4 L659.45,903.4 Z" fill="inherit" stroke="none" stroke-width="1" />
<rect x="651.95" y="907.50" width="7" height="4.3" rx="2" fill="inherit"/>
<path d="M644.95,887.5 l4,4.5 l-4,4.5 Z M644.95,899.5 l4,4.5 l-4,4.5 Z" fill="inherit" fill-opacity="0.8"/>
<circle cx="647.45" cy="884.80" r="1.10" fill="inherit" />
<path d="M659.45,915.6 L655.45,915.6 A6.4,6.4 0 0 0 655.45,928.4 L659.45,928.4 Z" fill="inherit" stroke="none" stroke-width="1" />
<rect x="651.95" y="932.50" width="7" height="4.3" rx="2" fill="inherit"/>
<path d="M644.95,912.5 l4,4.5 l-4,4.5 Z M644.95,924.5 l4,4.5 l-4,4.5 Z" fill="inherit" fill-opacity="0.8"/>
<circle cx="647.45" cy="909.80" r="1.10" fill="inherit" />
<path d="M659.45,940.6 L655.45,940.6 A6.4,6.4 0 0 0 655.45,953.4 L659.45,953.4 Z" fill="inherit" stroke="none" stroke-width="1" />
<rect x="651.95" y="957.50" width="7" height="4.3" rx="2" fill="inherit"/>
<path d="M644.95,937.5 l4,4.5 l-4,4.5 Z M644.95,949.5 l4,4.5 l-4,4.5 Z" fill="inherit" fill-opacity="0.8"/>
<circle cx="647.45" cy="934.80" r="1.10" fill="inherit" />
<path d="M659.45,965.6 L655.45,965.6 A6.4,6.4 0 0 0 655.45,978.4 L659.45,978.4 Z" fill="inherit" stroke="none" stroke-width="1" />
<rect x="651.95" y="982.50" width="7" height="4.3" rx="2" fill="inherit"/>
<path d="M644.95,962.5 l4,4.5 l-4,4.5 Z M644.95,974.5 l4,4.5 l-4,4.5 Z" fill="inherit" fill-opacity="0.8"/>
<circle cx="647.45" cy="959.80" r="1.10" fill="inherit" />
<path d="M659.45,990.6 L655.45,990.6 A6.4,6.4 0 0 0 655.45,1003.4 L659.45,1003.4 Z" fill="inherit" stroke="none" stroke-width="1" />
<rect x="651.95" y="1007.50" width="7" height="4.3" rx="2" fill="inherit"/>
<path d="M644.95,987.5 l4,4.5 l-4,4.5 Z M644.95,999.5 l4,4.5 l-4,4.5 Z" fill="inherit" fill-opacity="0.8"/>
<circle cx="647.45" cy="984.80" r="1.10" fill="inherit" />
<path d="M659.45,1015.6 L655.45,1015.6 A6.4,6.4 0 0 0 655.45,1028.4 L659.45,1028.4 Z" fill="inherit" stroke="none" stroke-width="1" />
<rect x="651.95" y="1032.50" width="7" height="4.3" rx="2" fill="inherit"/>
<path d="M644.95,1012.5 l4,4.5 l-4,4.5 Z M644.95,1024.5 l4,4.5 l-4,4.5 Z" fill="inherit" fill-opacity="0.8"/>
<circle cx="647.45" cy="1009.80" r="1.10" fill="inherit" />
<circle cx="655.75" cy="1047.00" r="6.60" fill="inherit" />
<rect x="651.95" y="1057.50" width="7" height="4.3" rx="2" fill="inherit"/>
<path d="M644.95,1037.5 l4,4.5 l-4,4.5 Z M644.95,1049.5 l4,4.5 l-4,4.5 Z" fill="inherit" fill-opacity="0.8"/>
<circle cx="647.45" cy="1034.80" r="1.10" fill="inherit" />
<circle cx="655.75" cy="1072.00" r="6.60" fill="inherit" />
<rect x="651.95" y="1082.50" width="7" height="4.3" rx="2" fill="inherit"/>
<path d="M644.95,1062.5 l4,4.5 l-4,4.5 Z M644.95,1074.5 l4,4.5 l-4,4.5 Z" fill="inherit" fill-opacity="0.8"/>
<circle cx="647.45" cy="1059.80" r="1.10" fill="inherit" />
<circle cx="655.75" cy="1097.00" r="6.60" fill="inherit" />
<rect x="651.95" y="1107.50" width="7" height="4.3" rx="2" fill="inherit"/>
<path d="M644.95,1087.5 l4,4.5 l-4,4.5 Z M644.95,1099.5 l4,4.5 l-4,4.5 Z" fill="inherit" fill-opacity="0.8"/>
<circle cx="647.45" cy="1084.80" r="1.10" fill="inherit" />
<circle cx="655.75" cy="1122.00" r="6.60" fill="inherit" />
<path d="M644.95,1112.5 l4,4.5 l-4,4.5 Z M644.95,1124.5 l4,4.5 l-4,4.5 Z" fill="inherit" fill-opacity="0.8"/>
<circle cx="647.45" cy="1109.80" r="1.10" fill="inherit" />
<path d="M661.95,1027.6 L661.95,784 Q661.95,781.4 664.45,781.4 L669.95,781.4 L669.95,1027.6 Z" fill="inherit" stroke="none" stroke-width="1" />
<rect x="669.95" y="784.00" width="1.50" height="243.00" fill="inherit" fill-opacity="0.5"/>
<rect x="667.95" y="1032.00" width="3.00" height="9.00" fill="inherit" />
<rect x="667.95" y="1046.80" width="8.50" height="37.20" fill="inherit" />
<rect x="667.95" y="1087.70" width="8.50" height="53.30" fill="inherit" />
<path d="M652.45,1136.5 L655.45,1131 L658.45,1136.5 Z" fill="inherit" stroke="none" stroke-width="1" />
<rect x="649.45" y="1143.00" width="4.00" height="2.00" fill="inherit" />
<rect x="658.45" y="1143.00" width="4.00" height="2.00" fill="inherit" />
<path d="M678.4000000000001,665.6 L696.4000000000001,665.6 L694.4000000000001,670 L678.4000000000001,670 Z" fill="inherit" stroke="none" stroke-width="1" />
<rect x="678.40" y="672.00" width="2.00" height="36.00" fill="inherit" />
<rect x="683.30" y="672.00" width="2.10" height="36.00" fill="inherit" />
<rect x="685.40" y="672.00" width="2.50" height="36.00" fill="inherit" fill-opacity="0.5"/>
<rect x="687.90" y="683.00" width="4.00" height="25.00" fill="inherit" />
<circle cx="688.90" cy="675.00" r="1.50" fill="inherit" />
<rect x="677.90" y="710.50" width="17.00" height="1.50" fill="inherit" fill-opacity="0.45"/>
<rect x="688.90" y="718.00" width="4.00" height="2.50" fill="inherit" />
<rect x="688.90" y="723.00" width="4.00" height="2.50" fill="inherit" />
<rect x="680.90" y="718.00" width="4.00" height="2.50" fill="inherit" fill-opacity="0.3"/>
<rect x="680.90" y="723.00" width="4.00" height="2.50" fill="inherit" fill-opacity="0.3"/>
<rect x="677.90" y="732.50" width="17.00" height="1.50" fill="inherit" fill-opacity="0.45"/>
<rect x="698.40" y="667.70" width="8.70" height="55.80" fill="inherit" />
<rect x="698.40" y="726.00" width="8.70" height="36.80" fill="inherit" />
<circle cx="685.40" cy="747.40" r="6.20" fill="inherit" />
<circle cx="689.70" cy="746.80" r="5.00" fill="#000000" />
<rect x="682.40" y="757" width="7" height="4" rx="2" fill="inherit"/>
<path d="M676.90,737 l3,6 l-3,6 Z" fill="inherit" fill-opacity="0.8"/>
<rect x="698.40" y="767.00" width="3.00" height="12.00" fill="inherit" />
<rect x="701.90" y="767.00" width="3.00" height="12.00" fill="inherit" fill-opacity="0.35"/>
<circle cx="686.20" cy="772.00" r="6.60" fill="inherit" />
<rect x="682.40" y="782.50" width="7" height="4.3" rx="2" fill="inherit"/>
<path d="M675.40,762.5 l4,4.5 l-4,4.5 Z M675.40,774.5 l4,4.5 l-4,4.5 Z" fill="inherit" fill-opacity="0.8"/>
<circle cx="677.90" cy="759.80" r="1.10" fill="inherit" />
<path d="M689.9000000000001,790.6 L685.9000000000001,790.6 A6.4,6.4 0 0 0 685.9000000000001,803.4 L689.9000000000001,803.4 Z" fill="inherit" stroke="none" stroke-width="1" />
<rect x="682.40" y="807.50" width="7" height="4.3" rx="2" fill="inherit"/>
<path d="M675.40,787.5 l4,4.5 l-4,4.5 Z M675.40,799.5 l4,4.5 l-4,4.5 Z" fill="inherit" fill-opacity="0.8"/>
<circle cx="677.90" cy="784.80" r="1.10" fill="inherit" />
<path d="M689.9000000000001,815.6 L685.9000000000001,815.6 A6.4,6.4 0 0 0 685.9000000000001,828.4 L689.9000000000001,828.4 Z" fill="inherit" stroke="none" stroke-width="1" />
<rect x="682.40" y="832.50" width="7" height="4.3" rx="2" fill="inherit"/>
<path d="M675.40,812.5 l4,4.5 l-4,4.5 Z M675.40,824.5 l4,4.5 l-4,4.5 Z" fill="inherit" fill-opacity="0.8"/>
<circle cx="677.90" cy="809.80" r="1.10" fill="inherit" />
<path d="M689.9000000000001,840.6 L685.9000000000001,840.6 A6.4,6.4 0 0 0 685.9000000000001,853.4 L689.9000000000001,853.4 Z" fill="inherit" stroke="none" stroke-width="1" />
<rect x="682.40" y="857.50" width="7" height="4.3" rx="2" fill="inherit"/>
<path d="M675.40,837.5 l4,4.5 l-4,4.5 Z M675.40,849.5 l4,4.5 l-4,4.5 Z" fill="inherit" fill-opacity="0.8"/>
<circle cx="677.90" cy="834.80" r="1.10" fill="inherit" />
<path d="M689.9000000000001,865.6 L685.9000000000001,865.6 A6.4,6.4 0 0 0 685.9000000000001,878.4 L689.9000000000001,878.4 Z" fill="inherit" stroke="none" stroke-width="1" />
<rect x="682.40" y="882.50" width="7" height="4.3" rx="2" fill="inherit"/>
<path d="M675.40,862.5 l4,4.5 l-4,4.5 Z M675.40,874.5 l4,4.5 l-4,4.5 Z" fill="inherit" fill-opacity="0.8"/>
<circle cx="677.90" cy="859.80" r="1.10" fill="inherit" />
<path d="M689.9000000000001,890.6 L685.9000000000001,890.6 A6.4,6.4 0 0 0 685.9000000000001,903.4 L689.9000000000001,903.4 Z" fill="inherit" stroke="none" stroke-width="1" />
<rect x="682.40" y="907.50" width="7" height="4.3" rx="2" fill="inherit"/>
<path d="M675.40,887.5 l4,4.5 l-4,4.5 Z M675.40,899.5 l4,4.5 l-4,4.5 Z" fill="inherit" fill-opacity="0.8"/>
<circle cx="677.90" cy="884.80" r="1.10" fill="inherit" />
<path d="M689.9000000000001,915.6 L685.9000000000001,915.6 A6.4,6.4 0 0 0 685.9000000000001,928.4 L689.9000000000001,928.4 Z" fill="inherit" stroke="none" stroke-width="1" />
<rect x="682.40" y="932.50" width="7" height="4.3" rx="2" fill="inherit"/>
<path d="M675.40,912.5 l4,4.5 l-4,4.5 Z M675.40,924.5 l4,4.5 l-4,4.5 Z" fill="inherit" fill-opacity="0.8"/>
<circle cx="677.90" cy="909.80" r="1.10" fill="inherit" />
<path d="M689.9000000000001,940.6 L685.9000000000001,940.6 A6.4,6.4 0 0 0 685.9000000000001,953.4 L689.9000000000001,953.4 Z" fill="inherit" stroke="none" stroke-width="1" />
<rect x="682.40" y="957.50" width="7" height="4.3" rx="2" fill="inherit"/>
<path d="M675.40,937.5 l4,4.5 l-4,4.5 Z M675.40,949.5 l4,4.5 l-4,4.5 Z" fill="inherit" fill-opacity="0.8"/>
<circle cx="677.90" cy="934.80" r="1.10" fill="inherit" />
<path d="M689.9000000000001,965.6 L685.9000000000001,965.6 A6.4,6.4 0 0 0 685.9000000000001,978.4 L689.9000000000001,978.4 Z" fill="inherit" stroke="none" stroke-width="1" />
<rect x="682.40" y="982.50" width="7" height="4.3" rx="2" fill="inherit"/>
<path d="M675.40,962.5 l4,4.5 l-4,4.5 Z M675.40,974.5 l4,4.5 l-4,4.5 Z" fill="inherit" fill-opacity="0.8"/>
<circle cx="677.90" cy="959.80" r="1.10" fill="inherit" />
<path d="M689.9000000000001,990.6 L685.9000000000001,990.6 A6.4,6.4 0 0 0 685.9000000000001,1003.4 L689.9000000000001,1003.4 Z" fill="inherit" stroke="none" stroke-width="1" />
<rect x="682.40" y="1007.50" width="7" height="4.3" rx="2" fill="inherit"/>
<path d="M675.40,987.5 l4,4.5 l-4,4.5 Z M675.40,999.5 l4,4.5 l-4,4.5 Z" fill="inherit" fill-opacity="0.8"/>
<circle cx="677.90" cy="984.80" r="1.10" fill="inherit" />
<path d="M689.9000000000001,1015.6 L685.9000000000001,1015.6 A6.4,6.4 0 0 0 685.9000000000001,1028.4 L689.9000000000001,1028.4 Z" fill="inherit" stroke="none" stroke-width="1" />
<rect x="682.40" y="1032.50" width="7" height="4.3" rx="2" fill="inherit"/>
<path d="M675.40,1012.5 l4,4.5 l-4,4.5 Z M675.40,1024.5 l4,4.5 l-4,4.5 Z" fill="inherit" fill-opacity="0.8"/>
<circle cx="677.90" cy="1009.80" r="1.10" fill="inherit" />
<circle cx="686.20" cy="1047.00" r="6.60" fill="inherit" />
<rect x="682.40" y="1057.50" width="7" height="4.3" rx="2" fill="inherit"/>
<path d="M675.40,1037.5 l4,4.5 l-4,4.5 Z M675.40,1049.5 l4,4.5 l-4,4.5 Z" fill="inherit" fill-opacity="0.8"/>
<circle cx="677.90" cy="1034.80" r="1.10" fill="inherit" />
<circle cx="686.20" cy="1072.00" r="6.60" fill="inherit" />
<rect x="682.40" y="1082.50" width="7" height="4.3" rx="2" fill="inherit"/>
<path d="M675.40,1062.5 l4,4.5 l-4,4.5 Z M675.40,1074.5 l4,4.5 l-4,4.5 Z" fill="inherit" fill-opacity="0.8"/>
<circle cx="677.90" cy="1059.80" r="1.10" fill="inherit" />
<circle cx="686.20" cy="1097.00" r="6.60" fill="inherit" />
<rect x="682.40" y="1107.50" width="7" height="4.3" rx="2" fill="inherit"/>
<path d="M675.40,1087.5 l4,4.5 l-4,4.5 Z M675.40,1099.5 l4,4.5 l-4,4.5 Z" fill="inherit" fill-opacity="0.8"/>
<circle cx="677.90" cy="1084.80" r="1.10" fill="inherit" />
<circle cx="686.20" cy="1122.00" r="6.60" fill="inherit" />
<path d="M675.40,1112.5 l4,4.5 l-4,4.5 Z M675.40,1124.5 l4,4.5 l-4,4.5 Z" fill="inherit" fill-opacity="0.8"/>
<circle cx="677.90" cy="1109.80" r="1.10" fill="inherit" />
<path d="M692.4000000000001,1027.6 L692.4000000000001,784 Q692.4000000000001,781.4 694.9000000000001,781.4 L700.4000000000001,781.4 L700.4000000000001,1027.6 Z" fill="inherit" stroke="none" stroke-width="1" />
<rect x="700.40" y="784.00" width="1.50" height="243.00" fill="inherit" fill-opacity="0.5"/>
<rect x="698.40" y="1032.00" width="3.00" height="9.00" fill="inherit" />
<rect x="698.40" y="1046.80" width="8.50" height="37.20" fill="inherit" />
<rect x="698.40" y="1087.70" width="8.50" height="53.30" fill="inherit" />
<path d="M682.9000000000001,1136.5 L685.9000000000001,1131 L688.9000000000001,1136.5 Z" fill="inherit" stroke="none" stroke-width="1" />
<rect x="679.90" y="1143.00" width="4.00" height="2.00" fill="inherit" />
<rect x="688.90" y="1143.00" width="4.00" height="2.00" fill="inherit" />
<path d="M708.85,665.6 L726.85,665.6 L724.85,670 L708.85,670 Z" fill="inherit" stroke="none" stroke-width="1" />
<rect x="708.85" y="672.00" width="2.00" height="36.00" fill="inherit" />
<rect x="713.75" y="672.00" width="2.10" height="36.00" fill="inherit" />
<rect x="715.85" y="672.00" width="2.50" height="36.00" fill="inherit" fill-opacity="0.5"/>
<rect x="718.35" y="683.00" width="4.00" height="25.00" fill="inherit" />
<circle cx="719.35" cy="675.00" r="1.50" fill="inherit" />
<rect x="708.35" y="710.50" width="17.00" height="1.50" fill="inherit" fill-opacity="0.45"/>
<rect x="719.35" y="718.00" width="4.00" height="2.50" fill="inherit" />
<rect x="719.35" y="723.00" width="4.00" height="2.50" fill="inherit" />
<rect x="711.35" y="718.00" width="4.00" height="2.50" fill="inherit" fill-opacity="0.3"/>
<rect x="711.35" y="723.00" width="4.00" height="2.50" fill="inherit" fill-opacity="0.3"/>
<rect x="708.35" y="732.50" width="17.00" height="1.50" fill="inherit" fill-opacity="0.45"/>
<rect x="728.85" y="667.70" width="8.70" height="55.80" fill="inherit" />
<rect x="728.85" y="726.00" width="8.70" height="36.80" fill="inherit" />
<circle cx="715.85" cy="747.40" r="6.20" fill="inherit" />
<circle cx="720.15" cy="746.80" r="5.00" fill="#000000" />
<rect x="712.85" y="757" width="7" height="4" rx="2" fill="inherit"/>
<path d="M707.35,737 l3,6 l-3,6 Z" fill="inherit" fill-opacity="0.8"/>
<rect x="728.85" y="767.00" width="3.00" height="12.00" fill="inherit" />
<rect x="732.35" y="767.00" width="3.00" height="12.00" fill="inherit" fill-opacity="0.35"/>
<circle cx="716.65" cy="772.00" r="6.60" fill="inherit" />
<rect x="712.85" y="782.50" width="7" height="4.3" rx="2" fill="inherit"/>
<path d="M705.85,762.5 l4,4.5 l-4,4.5 Z M705.85,774.5 l4,4.5 l-4,4.5 Z" fill="inherit" fill-opacity="0.8"/>
<circle cx="708.35" cy="759.80" r="1.10" fill="inherit" />
<path d="M720.35,790.6 L716.35,790.6 A6.4,6.4 0 0 0 716.35,803.4 L720.35,803.4 Z" fill="inherit" stroke="none" stroke-width="1" />
<rect x="712.85" y="807.50" width="7" height="4.3" rx="2" fill="inherit"/>
<path d="M705.85,787.5 l4,4.5 l-4,4.5 Z M705.85,799.5 l4,4.5 l-4,4.5 Z" fill="inherit" fill-opacity="0.8"/>
<circle cx="708.35" cy="784.80" r="1.10" fill="inherit" />
<path d="M720.35,815.6 L716.35,815.6 A6.4,6.4 0 0 0 716.35,828.4 L720.35,828.4 Z" fill="inherit" stroke="none" stroke-width="1" />
<rect x="712.85" y="832.50" width="7" height="4.3" rx="2" fill="inherit"/>
<path d="M705.85,812.5 l4,4.5 l-4,4.5 Z M705.85,824.5 l4,4.5 l-4,4.5 Z" fill="inherit" fill-opacity="0.8"/>
<circle cx="708.35" cy="809.80" r="1.10" fill="inherit" />
<path d="M720.35,840.6 L716.35,840.6 A6.4,6.4 0 0 0 716.35,853.4 L720.35,853.4 Z" fill="inherit" stroke="none" stroke-width="1" />
<rect x="712.85" y="857.50" width="7" height="4.3" rx="2" fill="inherit"/>
<path d="M705.85,837.5 l4,4.5 l-4,4.5 Z M705.85,849.5 l4,4.5 l-4,4.5 Z" fill="inherit" fill-opacity="0.8"/>
<circle cx="708.35" cy="834.80" r="1.10" fill="inherit" />
<path d="M720.35,865.6 L716.35,865.6 A6.4,6.4 0 0 0 716.35,878.4 L720.35,878.4 Z" fill="inherit" stroke="none" stroke-width="1" />
<rect x="712.85" y="882.50" width="7" height="4.3" rx="2" fill="inherit"/>
<path d="M705.85,862.5 l4,4.5 l-4,4.5 Z M705.85,874.5 l4,4.5 l-4,4.5 Z" fill="inherit" fill-opacity="0.8"/>
<circle cx="708.35" cy="859.80" r="1.10" fill="inherit" />
<path d="M720.35,890.6 L716.35,890.6 A6.4,6.4 0 0 0 716.35,903.4 L720.35,903.4 Z" fill="inherit" stroke="none" stroke-width="1" />
<rect x="712.85" y="907.50" width="7" height="4.3" rx="2" fill="inherit"/>
<path d="M705.85,887.5 l4,4.5 l-4,4.5 Z M705.85,899.5 l4,4.5 l-4,4.5 Z" fill="inherit" fill-opacity="0.8"/>
<circle cx="708.35" cy="884.80" r="1.10" fill="inherit" />
<path d="M720.35,915.6 L716.35,915.6 A6.4,6.4 0 0 0 716.35,928.4 L720.35,928.4 Z" fill="inherit" stroke="none" stroke-width="1" />
<rect x="712.85" y="932.50" width="7" height="4.3" rx="2" fill="inherit"/>
<path d="M705.85,912.5 l4,4.5 l-4,4.5 Z M705.85,924.5 l4,4.5 l-4,4.5 Z" fill="inherit" fill-opacity="0.8"/>
<circle cx="708.35" cy="909.80" r="1.10" fill="inherit" />
<path d="M720.35,940.6 L716.35,940.6 A6.4,6.4 0 0 0 716.35,953.4 L720.35,953.4 Z" fill="inherit" stroke="none" stroke-width="1" />
<rect x="712.85" y="957.50" width="7" height="4.3" rx="2" fill="inherit"/>
<path d="M705.85,937.5 l4,4.5 l-4,4.5 Z M705.85,949.5 l4,4.5 l-4,4.5 Z" fill="inherit" fill-opacity="0.8"/>
<circle cx="708.35" cy="934.80" r="1.10" fill="inherit" />
<path d="M720.35,965.6 L716.35,965.6 A6.4,6.4 0 0 0 716.35,978.4 L720.35,978.4 Z" fill="inherit" stroke="none" stroke-width="1" />
<rect x="712.85" y="982.50" width="7" height="4.3" rx="2" fill="inherit"/>
<path d="M705.85,962.5 l4,4.5 l-4,4.5 Z M705.85,974.5 l4,4.5 l-4,4.5 Z" fill="inherit" fill-opacity="0.8"/>
<circle cx="708.35" cy="959.80" r="1.10" fill="inherit" />
<path d="M720.35,990.6 L716.35,990.6 A6.4,6.4 0 0 0 716.35,1003.4 L720.35,1003.4 Z" fill="inherit" stroke="none" stroke-width="1" />
<rect x="712.85" y="1007.50" width="7" height="4.3" rx="2" fill="inherit"/>
<path d="M705.85,987.5 l4,4.5 l-4,4.5 Z M705.85,999.5 l4,4.5 l-4,4.5 Z" fill="inherit" fill-opacity="0.8"/>
<circle cx="708.35" cy="984.80" r="1.10" fill="inherit" />
<path d="M720.35,1015.6 L716.35,1015.6 A6.4,6.4 0 0 0 716.35,1028.4 L720.35,1028.4 Z" fill="inherit" stroke="none" stroke-width="1" />
<rect x="712.85" y="1032.50" width="7" height="4.3" rx="2" fill="inherit"/>
<path d="M705.85,1012.5 l4,4.5 l-4,4.5 Z M705.85,1024.5 l4,4.5 l-4,4.5 Z" fill="inherit" fill-opacity="0.8"/>
<circle cx="708.35" cy="1009.80" r="1.10" fill="inherit" />
<circle cx="716.65" cy="1047.00" r="6.60" fill="inherit" />
<rect x="712.85" y="1057.50" width="7" height="4.3" rx="2" fill="inherit"/>
<path d="M705.85,1037.5 l4,4.5 l-4,4.5 Z M705.85,1049.5 l4,4.5 l-4,4.5 Z" fill="inherit" fill-opacity="0.8"/>
<circle cx="708.35" cy="1034.80" r="1.10" fill="inherit" />
<circle cx="716.65" cy="1072.00" r="6.60" fill="inherit" />
<rect x="712.85" y="1082.50" width="7" height="4.3" rx="2" fill="inherit"/>
<path d="M705.85,1062.5 l4,4.5 l-4,4.5 Z M705.85,1074.5 l4,4.5 l-4,4.5 Z" fill="inherit" fill-opacity="0.8"/>
<circle cx="708.35" cy="1059.80" r="1.10" fill="inherit" />
<circle cx="716.65" cy="1097.00" r="6.60" fill="inherit" />
<rect x="712.85" y="1107.50" width="7" height="4.3" rx="2" fill="inherit"/>
<path d="M705.85,1087.5 l4,4.5 l-4,4.5 Z M705.85,1099.5 l4,4.5 l-4,4.5 Z" fill="inherit" fill-opacity="0.8"/>
<circle cx="708.35" cy="1084.80" r="1.10" fill="inherit" />
<circle cx="716.65" cy="1122.00" r="6.60" fill="inherit" />
<path d="M705.85,1112.5 l4,4.5 l-4,4.5 Z M705.85,1124.5 l4,4.5 l-4,4.5 Z" fill="inherit" fill-opacity="0.8"/>
<circle cx="708.35" cy="1109.80" r="1.10" fill="inherit" />
<path d="M722.85,1027.6 L722.85,784 Q722.85,781.4 725.35,781.4 L730.85,781.4 L730.85,1027.6 Z" fill="inherit" stroke="none" stroke-width="1" />
<rect x="730.85" y="784.00" width="1.50" height="243.00" fill="inherit" fill-opacity="0.5"/>
<rect x="728.85" y="1032.00" width="3.00" height="9.00" fill="inherit" />
<rect x="728.85" y="1046.80" width="8.50" height="37.20" fill="inherit" />
<rect x="728.85" y="1087.70" width="8.50" height="53.30" fill="inherit" />
<path d="M713.35,1136.5 L716.35,1131 L719.35,1136.5 Z" fill="inherit" stroke="none" stroke-width="1" />
<rect x="710.35" y="1143.00" width="4.00" height="2.00" fill="inherit" />
<rect x="719.35" y="1143.00" width="4.00" height="2.00" fill="inherit" />
</g>
<use href="#loc" fill="#ffffff" clip-path="url(#clipLo)"/>
<use href="#loc" fill="#99ffcc" clip-path="url(#clipL)"/>
<use href="#loc" fill="#ff0000" clip-path="url(#clipLr)"/>
<rect x="117.00" y="1149.50" width="625.00" height="3.50" fill="#ffffff" />
<rect x="248.00" y="1148.50" width="235.00" height="5.50" fill="#ff0000" />
<rect x="240.50" y="53.80" width="241.50" height="6.00" fill="#5a0000" />
<rect x="243.50" y="71.00" width="3.80" height="369.00" fill="#ff0000" />
<rect x="241.00" y="60.00" width="6.40" height="113.00" fill="#ff0000" />
<rect x="240.00" y="440.00" width="7.30" height="15.00" fill="#300" />
<rect x="239.80" y="455.00" width="7.50" height="113.60" fill="#ff0000" />
<rect x="475.50" y="59.80" width="5.80" height="11.50" fill="#ff0000" />
<rect x="243.50" y="556.30" width="237.80" height="0.70" fill="#000000" />
<rect x="243.50" y="557.00" width="237.80" height="5.00" fill="#99ffcc" />
<rect x="243.50" y="562.00" width="237.80" height="2.00" fill="#ff0000" />
<rect x="243.50" y="565.00" width="237.80" height="3.30" fill="#ff0000" />
<circle cx="289.80" cy="559.50" r="4.50" fill="#000000" />
<circle cx="471.60" cy="559.50" r="4.50" fill="#000000" />
<rect x="243.40" y="640.60" width="6.40" height="29.40" fill="#ff0000" />
<rect x="243.40" y="709.70" width="6.40" height="23.30" fill="#ff0000" />
<rect x="244.40" y="733.00" width="4.30" height="415.00" fill="#2a0505" />
<rect x="478.00" y="649.00" width="7.60" height="11.60" fill="#ff0000" />
<rect x="243.40" y="1148.90" width="241.60" height="4.90" fill="#ff0000" />
</svg>
</body></html>
